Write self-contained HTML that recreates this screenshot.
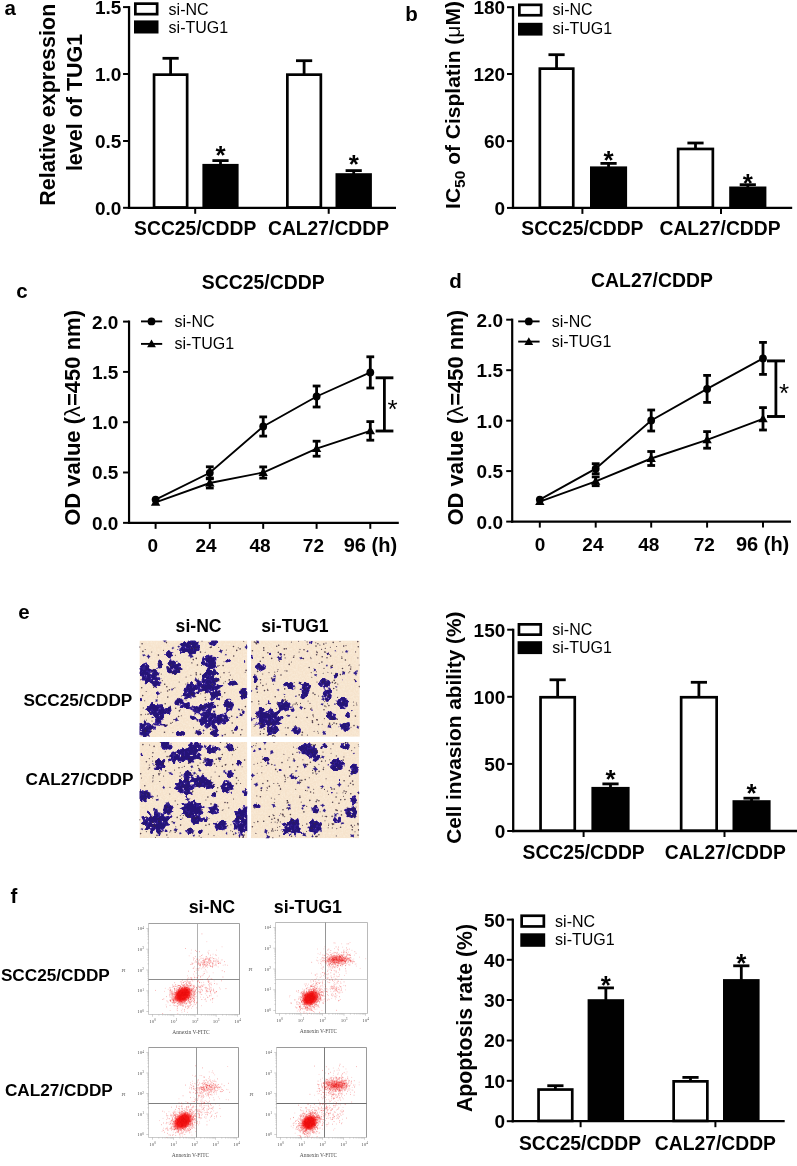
<!DOCTYPE html>
<html><head><meta charset="utf-8"><title>Figure</title>
<style>
html,body{margin:0;padding:0;background:#fff;}
body{width:797px;height:1166px;overflow:hidden;font-family:"Liberation Sans",sans-serif;}
svg{display:block;}
</style></head><body>
<svg width="797" height="1166" viewBox="0 0 797 1166" font-family="Liberation Sans, sans-serif" fill="#000">
<rect width="797" height="1166" fill="#fff"/>
<g opacity="0.999">
<text x="4.60" y="15.30" font-size="20.5" font-weight="bold" text-anchor="start" >a</text>
<text x="405.20" y="20.90" font-size="20.5" font-weight="bold" text-anchor="start" >b</text>
<text x="16.20" y="297.70" font-size="20.5" font-weight="bold" text-anchor="start" >c</text>
<text x="449.20" y="288.20" font-size="20.5" font-weight="bold" text-anchor="start" >d</text>
<text x="18.20" y="618.80" font-size="20.5" font-weight="bold" text-anchor="start" >e</text>
<text x="10.60" y="902.80" font-size="20.5" font-weight="bold" text-anchor="start" >f</text>
<text transform="translate(54.90,104.70) rotate(-90)" font-size="21.5" font-weight="bold" text-anchor="middle" >Relative expression</text>
<text transform="translate(82.30,102.40) rotate(-90)" font-size="21.5" font-weight="bold" text-anchor="middle" >level of TUG1</text>
<line x1="129.05" y1="6.10" x2="129.05" y2="208.95" stroke="#000" stroke-width="2.3" stroke-linecap="butt"/>
<line x1="127.90" y1="207.80" x2="396.00" y2="207.80" stroke="#000" stroke-width="2.3" stroke-linecap="butt"/>
<line x1="123.05" y1="7.10" x2="129.05" y2="7.10" stroke="#000" stroke-width="2.0" stroke-linecap="butt"/>
<text x="121.30" y="14.00" font-size="19" font-weight="bold" text-anchor="end" >1.5</text>
<line x1="123.05" y1="74.00" x2="129.05" y2="74.00" stroke="#000" stroke-width="2.0" stroke-linecap="butt"/>
<text x="121.30" y="80.90" font-size="19" font-weight="bold" text-anchor="end" >1.0</text>
<line x1="123.05" y1="141.00" x2="129.05" y2="141.00" stroke="#000" stroke-width="2.0" stroke-linecap="butt"/>
<text x="121.30" y="147.90" font-size="19" font-weight="bold" text-anchor="end" >0.5</text>
<line x1="123.05" y1="207.80" x2="129.05" y2="207.80" stroke="#000" stroke-width="2.0" stroke-linecap="butt"/>
<text x="121.30" y="214.70" font-size="19" font-weight="bold" text-anchor="end" >0.0</text>
<line x1="195.20" y1="207.80" x2="195.20" y2="213.80" stroke="#000" stroke-width="2.0" stroke-linecap="butt"/>
<line x1="328.70" y1="207.80" x2="328.70" y2="213.80" stroke="#000" stroke-width="2.0" stroke-linecap="butt"/>
<text x="195.20" y="235.20" font-size="19.3" font-weight="bold" text-anchor="middle" >SCC25/CDDP</text>
<text x="328.50" y="235.20" font-size="19.3" font-weight="bold" text-anchor="middle" >CAL27/CDDP</text>
<line x1="170.60" y1="58.30" x2="170.60" y2="75.30" stroke="#000" stroke-width="2.8" stroke-linecap="butt"/>
<line x1="162.50" y1="58.30" x2="178.70" y2="58.30" stroke="#000" stroke-width="2.8" stroke-linecap="butt"/>
<rect x="154.05" y="74.65" width="33.10" height="132.80" fill="#fff" stroke="#000" stroke-width="2.7"/>
<line x1="220.50" y1="160.60" x2="220.50" y2="165.90" stroke="#000" stroke-width="2.8" stroke-linecap="butt"/>
<line x1="212.40" y1="160.60" x2="228.60" y2="160.60" stroke="#000" stroke-width="2.8" stroke-linecap="butt"/>
<rect x="202.40" y="163.90" width="36.20" height="43.90" fill="#000"/>
<text x="220.50" y="164.49" font-size="26" font-weight="bold" text-anchor="middle">*</text>
<line x1="304.10" y1="60.70" x2="304.10" y2="75.30" stroke="#000" stroke-width="2.8" stroke-linecap="butt"/>
<line x1="296.00" y1="60.70" x2="312.20" y2="60.70" stroke="#000" stroke-width="2.8" stroke-linecap="butt"/>
<rect x="287.35" y="74.65" width="33.50" height="132.80" fill="#fff" stroke="#000" stroke-width="2.7"/>
<line x1="353.70" y1="170.60" x2="353.70" y2="175.20" stroke="#000" stroke-width="2.8" stroke-linecap="butt"/>
<line x1="345.60" y1="170.60" x2="361.80" y2="170.60" stroke="#000" stroke-width="2.8" stroke-linecap="butt"/>
<rect x="335.50" y="173.20" width="36.40" height="34.60" fill="#000"/>
<text x="353.70" y="172.99" font-size="26" font-weight="bold" text-anchor="middle">*</text>
<rect x="135.35" y="3.65" width="21.80" height="10.50" fill="#fff" stroke="#000" stroke-width="2.7"/>
<rect x="134.00" y="20.40" width="24.50" height="13.10" fill="#000"/>
<text x="168.60" y="14.60" font-size="16"  text-anchor="start" >si-NC</text>
<text x="168.60" y="32.60" font-size="16"  text-anchor="start" >si-TUG1</text>
<text transform="translate(460.40,105.00) rotate(-90)" font-size="21" font-weight="bold" text-anchor="middle" >IC<tspan font-size="15.5" dy="4.8">50</tspan><tspan dy="-4.8"> of Cisplatin (</tspan><tspan font-weight="normal">μ</tspan>M)</text>
<line x1="513.00" y1="6.20" x2="513.00" y2="209.05" stroke="#000" stroke-width="2.3" stroke-linecap="butt"/>
<line x1="511.85" y1="207.90" x2="792.20" y2="207.90" stroke="#000" stroke-width="2.3" stroke-linecap="butt"/>
<line x1="507.00" y1="7.20" x2="513.00" y2="7.20" stroke="#000" stroke-width="2.0" stroke-linecap="butt"/>
<text x="505.20" y="14.10" font-size="19" font-weight="bold" text-anchor="end" >180</text>
<line x1="507.00" y1="74.00" x2="513.00" y2="74.00" stroke="#000" stroke-width="2.0" stroke-linecap="butt"/>
<text x="505.20" y="80.90" font-size="19" font-weight="bold" text-anchor="end" >120</text>
<line x1="507.00" y1="141.10" x2="513.00" y2="141.10" stroke="#000" stroke-width="2.0" stroke-linecap="butt"/>
<text x="505.20" y="148.00" font-size="19" font-weight="bold" text-anchor="end" >60</text>
<line x1="507.00" y1="207.90" x2="513.00" y2="207.90" stroke="#000" stroke-width="2.0" stroke-linecap="butt"/>
<text x="505.20" y="214.80" font-size="19" font-weight="bold" text-anchor="end" >0</text>
<line x1="582.40" y1="207.90" x2="582.40" y2="213.90" stroke="#000" stroke-width="2.0" stroke-linecap="butt"/>
<line x1="721.00" y1="207.90" x2="721.00" y2="213.90" stroke="#000" stroke-width="2.0" stroke-linecap="butt"/>
<text x="582.40" y="235.20" font-size="19.3" font-weight="bold" text-anchor="middle" >SCC25/CDDP</text>
<text x="720.00" y="235.20" font-size="19.3" font-weight="bold" text-anchor="middle" >CAL27/CDDP</text>
<line x1="556.55" y1="54.70" x2="556.55" y2="69.30" stroke="#000" stroke-width="2.8" stroke-linecap="butt"/>
<line x1="548.45" y1="54.70" x2="564.65" y2="54.70" stroke="#000" stroke-width="2.8" stroke-linecap="butt"/>
<rect x="539.85" y="68.65" width="33.40" height="138.90" fill="#fff" stroke="#000" stroke-width="2.7"/>
<line x1="608.55" y1="163.40" x2="608.55" y2="168.40" stroke="#000" stroke-width="2.8" stroke-linecap="butt"/>
<line x1="600.45" y1="163.40" x2="616.65" y2="163.40" stroke="#000" stroke-width="2.8" stroke-linecap="butt"/>
<rect x="590.00" y="166.40" width="37.10" height="41.50" fill="#000"/>
<text x="608.55" y="168.79" font-size="26" font-weight="bold" text-anchor="middle">*</text>
<line x1="695.50" y1="143.00" x2="695.50" y2="149.60" stroke="#000" stroke-width="2.8" stroke-linecap="butt"/>
<line x1="687.40" y1="143.00" x2="703.60" y2="143.00" stroke="#000" stroke-width="2.8" stroke-linecap="butt"/>
<rect x="678.15" y="148.95" width="34.70" height="58.60" fill="#fff" stroke="#000" stroke-width="2.7"/>
<line x1="747.80" y1="184.70" x2="747.80" y2="188.50" stroke="#000" stroke-width="2.8" stroke-linecap="butt"/>
<line x1="739.70" y1="184.70" x2="755.90" y2="184.70" stroke="#000" stroke-width="2.8" stroke-linecap="butt"/>
<rect x="729.20" y="186.50" width="37.20" height="21.40" fill="#000"/>
<text x="747.80" y="191.79" font-size="26" font-weight="bold" text-anchor="middle">*</text>
<rect x="519.35" y="4.85" width="21.80" height="10.40" fill="#fff" stroke="#000" stroke-width="2.7"/>
<rect x="518.00" y="22.80" width="24.50" height="12.80" fill="#000"/>
<text x="552.60" y="15.30" font-size="16"  text-anchor="start" >si-NC</text>
<text x="552.60" y="34.20" font-size="16"  text-anchor="start" >si-TUG1</text>
<text transform="translate(80.20,417.90) rotate(-90)" font-size="22" font-weight="bold" text-anchor="middle" >OD value (<tspan font-weight="normal">λ</tspan>=450 nm)</text>
<line x1="129.05" y1="320.50" x2="129.05" y2="523.95" stroke="#000" stroke-width="2.2" stroke-linecap="butt"/>
<line x1="127.95" y1="522.85" x2="398.80" y2="522.85" stroke="#000" stroke-width="2.2" stroke-linecap="butt"/>
<line x1="123.05" y1="321.60" x2="129.05" y2="321.60" stroke="#000" stroke-width="1.9800000000000002" stroke-linecap="butt"/>
<text x="118.40" y="328.50" font-size="19" font-weight="bold" text-anchor="end" >2.0</text>
<line x1="123.05" y1="371.90" x2="129.05" y2="371.90" stroke="#000" stroke-width="1.9800000000000002" stroke-linecap="butt"/>
<text x="118.40" y="378.80" font-size="19" font-weight="bold" text-anchor="end" >1.5</text>
<line x1="123.05" y1="422.20" x2="129.05" y2="422.20" stroke="#000" stroke-width="1.9800000000000002" stroke-linecap="butt"/>
<text x="118.40" y="429.10" font-size="19" font-weight="bold" text-anchor="end" >1.0</text>
<line x1="123.05" y1="472.50" x2="129.05" y2="472.50" stroke="#000" stroke-width="1.9800000000000002" stroke-linecap="butt"/>
<text x="118.40" y="479.40" font-size="19" font-weight="bold" text-anchor="end" >0.5</text>
<line x1="123.05" y1="522.85" x2="129.05" y2="522.85" stroke="#000" stroke-width="1.9800000000000002" stroke-linecap="butt"/>
<text x="118.40" y="529.75" font-size="19" font-weight="bold" text-anchor="end" >0.0</text>
<line x1="155.60" y1="522.85" x2="155.60" y2="528.85" stroke="#000" stroke-width="1.9800000000000002" stroke-linecap="butt"/>
<line x1="209.80" y1="522.85" x2="209.80" y2="528.85" stroke="#000" stroke-width="1.9800000000000002" stroke-linecap="butt"/>
<line x1="263.20" y1="522.85" x2="263.20" y2="528.85" stroke="#000" stroke-width="1.9800000000000002" stroke-linecap="butt"/>
<line x1="316.60" y1="522.85" x2="316.60" y2="528.85" stroke="#000" stroke-width="1.9800000000000002" stroke-linecap="butt"/>
<line x1="370.30" y1="522.85" x2="370.30" y2="528.85" stroke="#000" stroke-width="1.9800000000000002" stroke-linecap="butt"/>
<text x="152.90" y="552.40" font-size="19" font-weight="bold" text-anchor="middle" >0</text>
<text x="206.00" y="552.40" font-size="19" font-weight="bold" text-anchor="middle" >24</text>
<text x="260.00" y="552.40" font-size="19" font-weight="bold" text-anchor="middle" >48</text>
<text x="313.40" y="552.40" font-size="19" font-weight="bold" text-anchor="middle" >72</text>
<text x="370.40" y="552.40" font-size="20" font-weight="bold" text-anchor="middle" >96 (h)</text>
<polyline points="155.60,502.30 209.80,483.00 263.20,472.50 316.60,448.70 370.30,430.90" fill="none" stroke="#000" stroke-width="1.9"/>
<path d="M155.60,497.40 L160.30,505.70 L150.90,505.70 Z" fill="#000"/>
<line x1="209.80" y1="478.00" x2="209.80" y2="488.00" stroke="#000" stroke-width="2.8" stroke-linecap="butt"/>
<line x1="205.90" y1="478.00" x2="213.70" y2="478.00" stroke="#000" stroke-width="2.8" stroke-linecap="butt"/>
<line x1="205.90" y1="488.00" x2="213.70" y2="488.00" stroke="#000" stroke-width="2.8" stroke-linecap="butt"/>
<path d="M209.80,478.10 L214.50,486.40 L205.10,486.40 Z" fill="#000"/>
<line x1="263.20" y1="466.90" x2="263.20" y2="478.10" stroke="#000" stroke-width="2.8" stroke-linecap="butt"/>
<line x1="259.30" y1="466.90" x2="267.10" y2="466.90" stroke="#000" stroke-width="2.8" stroke-linecap="butt"/>
<line x1="259.30" y1="478.10" x2="267.10" y2="478.10" stroke="#000" stroke-width="2.8" stroke-linecap="butt"/>
<path d="M263.20,467.60 L267.90,475.90 L258.50,475.90 Z" fill="#000"/>
<line x1="316.60" y1="441.20" x2="316.60" y2="456.20" stroke="#000" stroke-width="2.8" stroke-linecap="butt"/>
<line x1="312.70" y1="441.20" x2="320.50" y2="441.20" stroke="#000" stroke-width="2.8" stroke-linecap="butt"/>
<line x1="312.70" y1="456.20" x2="320.50" y2="456.20" stroke="#000" stroke-width="2.8" stroke-linecap="butt"/>
<path d="M316.60,443.80 L321.30,452.10 L311.90,452.10 Z" fill="#000"/>
<line x1="370.30" y1="421.60" x2="370.30" y2="440.20" stroke="#000" stroke-width="2.8" stroke-linecap="butt"/>
<line x1="366.40" y1="421.60" x2="374.20" y2="421.60" stroke="#000" stroke-width="2.8" stroke-linecap="butt"/>
<line x1="366.40" y1="440.20" x2="374.20" y2="440.20" stroke="#000" stroke-width="2.8" stroke-linecap="butt"/>
<path d="M370.30,426.00 L375.00,434.30 L365.60,434.30 Z" fill="#000"/>
<polyline points="155.60,499.60 209.80,472.80 263.20,426.50 316.60,396.50 370.30,372.40" fill="none" stroke="#000" stroke-width="1.9"/>
<circle cx="155.60" cy="499.60" r="3.9" fill="#000"/>
<line x1="209.80" y1="466.80" x2="209.80" y2="478.80" stroke="#000" stroke-width="2.8" stroke-linecap="butt"/>
<line x1="205.90" y1="466.80" x2="213.70" y2="466.80" stroke="#000" stroke-width="2.8" stroke-linecap="butt"/>
<line x1="205.90" y1="478.80" x2="213.70" y2="478.80" stroke="#000" stroke-width="2.8" stroke-linecap="butt"/>
<circle cx="209.80" cy="472.80" r="3.9" fill="#000"/>
<line x1="263.20" y1="416.90" x2="263.20" y2="436.10" stroke="#000" stroke-width="2.8" stroke-linecap="butt"/>
<line x1="259.30" y1="416.90" x2="267.10" y2="416.90" stroke="#000" stroke-width="2.8" stroke-linecap="butt"/>
<line x1="259.30" y1="436.10" x2="267.10" y2="436.10" stroke="#000" stroke-width="2.8" stroke-linecap="butt"/>
<circle cx="263.20" cy="426.50" r="3.9" fill="#000"/>
<line x1="316.60" y1="386.00" x2="316.60" y2="407.00" stroke="#000" stroke-width="2.8" stroke-linecap="butt"/>
<line x1="312.70" y1="386.00" x2="320.50" y2="386.00" stroke="#000" stroke-width="2.8" stroke-linecap="butt"/>
<line x1="312.70" y1="407.00" x2="320.50" y2="407.00" stroke="#000" stroke-width="2.8" stroke-linecap="butt"/>
<circle cx="316.60" cy="396.50" r="3.9" fill="#000"/>
<line x1="370.30" y1="356.80" x2="370.30" y2="388.00" stroke="#000" stroke-width="2.8" stroke-linecap="butt"/>
<line x1="366.40" y1="356.80" x2="374.20" y2="356.80" stroke="#000" stroke-width="2.8" stroke-linecap="butt"/>
<line x1="366.40" y1="388.00" x2="374.20" y2="388.00" stroke="#000" stroke-width="2.8" stroke-linecap="butt"/>
<circle cx="370.30" cy="372.40" r="3.9" fill="#000"/>
<line x1="384.40" y1="377.80" x2="384.40" y2="431.00" stroke="#000" stroke-width="2.8" stroke-linecap="butt"/>
<line x1="375.60" y1="377.80" x2="393.40" y2="377.80" stroke="#000" stroke-width="2.9" stroke-linecap="butt"/>
<line x1="375.60" y1="431.00" x2="393.40" y2="431.00" stroke="#000" stroke-width="2.9" stroke-linecap="butt"/>
<text x="392.50" y="418.09" font-size="26"  text-anchor="middle">*</text>
<line x1="141.00" y1="321.40" x2="162.20" y2="321.40" stroke="#000" stroke-width="1.9" stroke-linecap="butt"/>
<circle cx="151.50" cy="321.40" r="3.9" fill="#000"/>
<line x1="141.00" y1="343.90" x2="162.20" y2="343.90" stroke="#000" stroke-width="1.9" stroke-linecap="butt"/>
<path d="M151.50,339.50 L155.90,347.20 L147.10,347.20 Z" fill="#000"/>
<text x="174.50" y="326.70" font-size="16"  text-anchor="start" >si-NC</text>
<text x="174.50" y="349.20" font-size="16"  text-anchor="start" >si-TUG1</text>
<text x="263.20" y="289.10" font-size="19.4" font-weight="bold" text-anchor="middle" >SCC25/CDDP</text>
<text transform="translate(463.20,417.70) rotate(-90)" font-size="22" font-weight="bold" text-anchor="middle" >OD value (<tspan font-weight="normal">λ</tspan>=450 nm)</text>
<line x1="512.20" y1="318.60" x2="512.20" y2="522.70" stroke="#000" stroke-width="2.2" stroke-linecap="butt"/>
<line x1="511.10" y1="521.60" x2="791.00" y2="521.60" stroke="#000" stroke-width="2.2" stroke-linecap="butt"/>
<line x1="506.20" y1="319.70" x2="512.20" y2="319.70" stroke="#000" stroke-width="1.9800000000000002" stroke-linecap="butt"/>
<text x="503.00" y="326.60" font-size="19" font-weight="bold" text-anchor="end" >2.0</text>
<line x1="506.20" y1="370.20" x2="512.20" y2="370.20" stroke="#000" stroke-width="1.9800000000000002" stroke-linecap="butt"/>
<text x="503.00" y="377.10" font-size="19" font-weight="bold" text-anchor="end" >1.5</text>
<line x1="506.20" y1="420.70" x2="512.20" y2="420.70" stroke="#000" stroke-width="1.9800000000000002" stroke-linecap="butt"/>
<text x="503.00" y="427.60" font-size="19" font-weight="bold" text-anchor="end" >1.0</text>
<line x1="506.20" y1="471.10" x2="512.20" y2="471.10" stroke="#000" stroke-width="1.9800000000000002" stroke-linecap="butt"/>
<text x="503.00" y="478.00" font-size="19" font-weight="bold" text-anchor="end" >0.5</text>
<line x1="506.20" y1="521.60" x2="512.20" y2="521.60" stroke="#000" stroke-width="1.9800000000000002" stroke-linecap="butt"/>
<text x="503.00" y="528.50" font-size="19" font-weight="bold" text-anchor="end" >0.0</text>
<line x1="539.80" y1="521.60" x2="539.80" y2="527.60" stroke="#000" stroke-width="1.9800000000000002" stroke-linecap="butt"/>
<line x1="595.70" y1="521.60" x2="595.70" y2="527.60" stroke="#000" stroke-width="1.9800000000000002" stroke-linecap="butt"/>
<line x1="651.20" y1="521.60" x2="651.20" y2="527.60" stroke="#000" stroke-width="1.9800000000000002" stroke-linecap="butt"/>
<line x1="707.10" y1="521.60" x2="707.10" y2="527.60" stroke="#000" stroke-width="1.9800000000000002" stroke-linecap="butt"/>
<line x1="763.00" y1="521.60" x2="763.00" y2="527.60" stroke="#000" stroke-width="1.9800000000000002" stroke-linecap="butt"/>
<text x="540.00" y="551.30" font-size="19" font-weight="bold" text-anchor="middle" >0</text>
<text x="592.90" y="551.30" font-size="19" font-weight="bold" text-anchor="middle" >24</text>
<text x="648.80" y="551.30" font-size="19" font-weight="bold" text-anchor="middle" >48</text>
<text x="704.30" y="551.30" font-size="19" font-weight="bold" text-anchor="middle" >72</text>
<text x="762.60" y="551.30" font-size="20" font-weight="bold" text-anchor="middle" >96 (h)</text>
<polyline points="539.80,501.60 595.70,481.30 651.20,458.50 707.10,439.90 763.00,418.80" fill="none" stroke="#000" stroke-width="1.9"/>
<path d="M539.80,496.70 L544.50,505.00 L535.10,505.00 Z" fill="#000"/>
<line x1="595.70" y1="476.90" x2="595.70" y2="485.70" stroke="#000" stroke-width="2.8" stroke-linecap="butt"/>
<line x1="591.80" y1="476.90" x2="599.60" y2="476.90" stroke="#000" stroke-width="2.8" stroke-linecap="butt"/>
<line x1="591.80" y1="485.70" x2="599.60" y2="485.70" stroke="#000" stroke-width="2.8" stroke-linecap="butt"/>
<path d="M595.70,476.40 L600.40,484.70 L591.00,484.70 Z" fill="#000"/>
<line x1="651.20" y1="451.50" x2="651.20" y2="465.50" stroke="#000" stroke-width="2.8" stroke-linecap="butt"/>
<line x1="647.30" y1="451.50" x2="655.10" y2="451.50" stroke="#000" stroke-width="2.8" stroke-linecap="butt"/>
<line x1="647.30" y1="465.50" x2="655.10" y2="465.50" stroke="#000" stroke-width="2.8" stroke-linecap="butt"/>
<path d="M651.20,453.60 L655.90,461.90 L646.50,461.90 Z" fill="#000"/>
<line x1="707.10" y1="431.60" x2="707.10" y2="448.20" stroke="#000" stroke-width="2.8" stroke-linecap="butt"/>
<line x1="703.20" y1="431.60" x2="711.00" y2="431.60" stroke="#000" stroke-width="2.8" stroke-linecap="butt"/>
<line x1="703.20" y1="448.20" x2="711.00" y2="448.20" stroke="#000" stroke-width="2.8" stroke-linecap="butt"/>
<path d="M707.10,435.00 L711.80,443.30 L702.40,443.30 Z" fill="#000"/>
<line x1="763.00" y1="407.60" x2="763.00" y2="430.00" stroke="#000" stroke-width="2.8" stroke-linecap="butt"/>
<line x1="759.10" y1="407.60" x2="766.90" y2="407.60" stroke="#000" stroke-width="2.8" stroke-linecap="butt"/>
<line x1="759.10" y1="430.00" x2="766.90" y2="430.00" stroke="#000" stroke-width="2.8" stroke-linecap="butt"/>
<path d="M763.00,413.90 L767.70,422.20 L758.30,422.20 Z" fill="#000"/>
<polyline points="539.80,499.60 595.70,468.70 651.20,420.50 707.10,388.90 763.00,358.40" fill="none" stroke="#000" stroke-width="1.9"/>
<circle cx="539.80" cy="499.60" r="3.9" fill="#000"/>
<line x1="595.70" y1="463.70" x2="595.70" y2="473.70" stroke="#000" stroke-width="2.8" stroke-linecap="butt"/>
<line x1="591.80" y1="463.70" x2="599.60" y2="463.70" stroke="#000" stroke-width="2.8" stroke-linecap="butt"/>
<line x1="591.80" y1="473.70" x2="599.60" y2="473.70" stroke="#000" stroke-width="2.8" stroke-linecap="butt"/>
<circle cx="595.70" cy="468.70" r="3.9" fill="#000"/>
<line x1="651.20" y1="410.00" x2="651.20" y2="431.00" stroke="#000" stroke-width="2.8" stroke-linecap="butt"/>
<line x1="647.30" y1="410.00" x2="655.10" y2="410.00" stroke="#000" stroke-width="2.8" stroke-linecap="butt"/>
<line x1="647.30" y1="431.00" x2="655.10" y2="431.00" stroke="#000" stroke-width="2.8" stroke-linecap="butt"/>
<circle cx="651.20" cy="420.50" r="3.9" fill="#000"/>
<line x1="707.10" y1="375.40" x2="707.10" y2="402.40" stroke="#000" stroke-width="2.8" stroke-linecap="butt"/>
<line x1="703.20" y1="375.40" x2="711.00" y2="375.40" stroke="#000" stroke-width="2.8" stroke-linecap="butt"/>
<line x1="703.20" y1="402.40" x2="711.00" y2="402.40" stroke="#000" stroke-width="2.8" stroke-linecap="butt"/>
<circle cx="707.10" cy="388.90" r="3.9" fill="#000"/>
<line x1="763.00" y1="342.40" x2="763.00" y2="374.40" stroke="#000" stroke-width="2.8" stroke-linecap="butt"/>
<line x1="759.10" y1="342.40" x2="766.90" y2="342.40" stroke="#000" stroke-width="2.8" stroke-linecap="butt"/>
<line x1="759.10" y1="374.40" x2="766.90" y2="374.40" stroke="#000" stroke-width="2.8" stroke-linecap="butt"/>
<circle cx="763.00" cy="358.40" r="3.9" fill="#000"/>
<line x1="775.90" y1="360.90" x2="775.90" y2="416.50" stroke="#000" stroke-width="2.8" stroke-linecap="butt"/>
<line x1="767.00" y1="360.90" x2="785.00" y2="360.90" stroke="#000" stroke-width="2.9" stroke-linecap="butt"/>
<line x1="767.00" y1="416.50" x2="785.00" y2="416.50" stroke="#000" stroke-width="2.9" stroke-linecap="butt"/>
<text x="784.10" y="402.29" font-size="26"  text-anchor="middle">*</text>
<line x1="518.20" y1="321.40" x2="539.60" y2="321.40" stroke="#000" stroke-width="1.9" stroke-linecap="butt"/>
<circle cx="528.80" cy="321.40" r="3.9" fill="#000"/>
<line x1="518.20" y1="341.60" x2="539.60" y2="341.60" stroke="#000" stroke-width="1.9" stroke-linecap="butt"/>
<path d="M528.80,337.20 L533.20,344.90 L524.40,344.90 Z" fill="#000"/>
<text x="551.80" y="326.70" font-size="16"  text-anchor="start" >si-NC</text>
<text x="551.80" y="346.50" font-size="16"  text-anchor="start" >si-TUG1</text>
<text x="652.00" y="287.30" font-size="19.4" font-weight="bold" text-anchor="middle" >CAL27/CDDP</text>
<text transform="translate(461.30,727.70) rotate(-90)" font-size="20.8" font-weight="bold" text-anchor="middle" >Cell invasion ability (%)</text>
<line x1="513.20" y1="628.70" x2="513.20" y2="832.15" stroke="#000" stroke-width="2.3" stroke-linecap="butt"/>
<line x1="512.05" y1="831.00" x2="797.00" y2="831.00" stroke="#000" stroke-width="2.3" stroke-linecap="butt"/>
<line x1="507.20" y1="629.70" x2="513.20" y2="629.70" stroke="#000" stroke-width="2.0" stroke-linecap="butt"/>
<text x="505.30" y="636.60" font-size="19" font-weight="bold" text-anchor="end" >150</text>
<line x1="507.20" y1="696.80" x2="513.20" y2="696.80" stroke="#000" stroke-width="2.0" stroke-linecap="butt"/>
<text x="505.30" y="703.70" font-size="19" font-weight="bold" text-anchor="end" >100</text>
<line x1="507.20" y1="763.90" x2="513.20" y2="763.90" stroke="#000" stroke-width="2.0" stroke-linecap="butt"/>
<text x="505.30" y="770.80" font-size="19" font-weight="bold" text-anchor="end" >50</text>
<line x1="507.20" y1="831.00" x2="513.20" y2="831.00" stroke="#000" stroke-width="2.0" stroke-linecap="butt"/>
<text x="505.30" y="837.90" font-size="19" font-weight="bold" text-anchor="end" >0</text>
<line x1="583.60" y1="831.00" x2="583.60" y2="837.00" stroke="#000" stroke-width="2.0" stroke-linecap="butt"/>
<line x1="724.50" y1="831.00" x2="724.50" y2="837.00" stroke="#000" stroke-width="2.0" stroke-linecap="butt"/>
<text x="583.60" y="858.80" font-size="19.3" font-weight="bold" text-anchor="middle" >SCC25/CDDP</text>
<text x="725.30" y="858.80" font-size="19.3" font-weight="bold" text-anchor="middle" >CAL27/CDDP</text>
<line x1="557.65" y1="679.80" x2="557.65" y2="697.90" stroke="#000" stroke-width="2.8" stroke-linecap="butt"/>
<line x1="549.55" y1="679.80" x2="565.75" y2="679.80" stroke="#000" stroke-width="2.8" stroke-linecap="butt"/>
<rect x="540.55" y="697.25" width="34.20" height="133.40" fill="#fff" stroke="#000" stroke-width="2.7"/>
<line x1="610.50" y1="783.90" x2="610.50" y2="788.90" stroke="#000" stroke-width="2.8" stroke-linecap="butt"/>
<line x1="602.40" y1="783.90" x2="618.60" y2="783.90" stroke="#000" stroke-width="2.8" stroke-linecap="butt"/>
<rect x="591.40" y="786.90" width="38.20" height="44.10" fill="#000"/>
<text x="610.50" y="788.09" font-size="26" font-weight="bold" text-anchor="middle">*</text>
<line x1="698.90" y1="682.30" x2="698.90" y2="697.90" stroke="#000" stroke-width="2.8" stroke-linecap="butt"/>
<line x1="690.80" y1="682.30" x2="707.00" y2="682.30" stroke="#000" stroke-width="2.8" stroke-linecap="butt"/>
<rect x="681.15" y="697.25" width="35.50" height="133.40" fill="#fff" stroke="#000" stroke-width="2.7"/>
<line x1="751.55" y1="798.20" x2="751.55" y2="802.20" stroke="#000" stroke-width="2.8" stroke-linecap="butt"/>
<line x1="743.45" y1="798.20" x2="759.65" y2="798.20" stroke="#000" stroke-width="2.8" stroke-linecap="butt"/>
<rect x="732.50" y="800.20" width="38.10" height="30.80" fill="#000"/>
<text x="751.55" y="802.49" font-size="26" font-weight="bold" text-anchor="middle">*</text>
<rect x="518.95" y="624.35" width="21.80" height="10.30" fill="#fff" stroke="#000" stroke-width="2.7"/>
<rect x="517.60" y="641.20" width="24.50" height="12.90" fill="#000"/>
<text x="552.30" y="634.50" font-size="16"  text-anchor="start" >si-NC</text>
<text x="552.30" y="652.70" font-size="16"  text-anchor="start" >si-TUG1</text>
<text transform="translate(471.90,1018.00) rotate(-90)" font-size="21.3" font-weight="bold" text-anchor="middle" >Apoptosis rate (%)</text>
<line x1="512.80" y1="918.60" x2="512.80" y2="1122.35" stroke="#000" stroke-width="2.3" stroke-linecap="butt"/>
<line x1="511.65" y1="1121.20" x2="784.70" y2="1121.20" stroke="#000" stroke-width="2.3" stroke-linecap="butt"/>
<line x1="506.80" y1="919.60" x2="512.80" y2="919.60" stroke="#000" stroke-width="2.0" stroke-linecap="butt"/>
<text x="505.20" y="926.50" font-size="19" font-weight="bold" text-anchor="end" >50</text>
<line x1="506.80" y1="959.80" x2="512.80" y2="959.80" stroke="#000" stroke-width="2.0" stroke-linecap="butt"/>
<text x="505.20" y="966.70" font-size="19" font-weight="bold" text-anchor="end" >40</text>
<line x1="506.80" y1="1000.00" x2="512.80" y2="1000.00" stroke="#000" stroke-width="2.0" stroke-linecap="butt"/>
<text x="505.20" y="1006.90" font-size="19" font-weight="bold" text-anchor="end" >30</text>
<line x1="506.80" y1="1040.50" x2="512.80" y2="1040.50" stroke="#000" stroke-width="2.0" stroke-linecap="butt"/>
<text x="505.20" y="1047.40" font-size="19" font-weight="bold" text-anchor="end" >20</text>
<line x1="506.80" y1="1080.80" x2="512.80" y2="1080.80" stroke="#000" stroke-width="2.0" stroke-linecap="butt"/>
<text x="505.20" y="1087.70" font-size="19" font-weight="bold" text-anchor="end" >10</text>
<line x1="506.80" y1="1121.20" x2="512.80" y2="1121.20" stroke="#000" stroke-width="2.0" stroke-linecap="butt"/>
<text x="505.20" y="1128.10" font-size="19" font-weight="bold" text-anchor="end" >0</text>
<line x1="580.60" y1="1121.20" x2="580.60" y2="1127.20" stroke="#000" stroke-width="2.0" stroke-linecap="butt"/>
<line x1="715.40" y1="1121.20" x2="715.40" y2="1127.20" stroke="#000" stroke-width="2.0" stroke-linecap="butt"/>
<text x="580.00" y="1149.90" font-size="19.3" font-weight="bold" text-anchor="middle" >SCC25/CDDP</text>
<text x="715.40" y="1149.90" font-size="19.3" font-weight="bold" text-anchor="middle" >CAL27/CDDP</text>
<line x1="555.40" y1="1085.70" x2="555.40" y2="1090.20" stroke="#000" stroke-width="2.8" stroke-linecap="butt"/>
<line x1="547.30" y1="1085.70" x2="563.50" y2="1085.70" stroke="#000" stroke-width="2.8" stroke-linecap="butt"/>
<rect x="538.55" y="1089.55" width="33.70" height="31.30" fill="#fff" stroke="#000" stroke-width="2.7"/>
<line x1="605.85" y1="987.90" x2="605.85" y2="1001.20" stroke="#000" stroke-width="2.8" stroke-linecap="butt"/>
<line x1="597.75" y1="987.90" x2="613.95" y2="987.90" stroke="#000" stroke-width="2.8" stroke-linecap="butt"/>
<rect x="587.60" y="999.20" width="36.50" height="122.00" fill="#000"/>
<text x="605.85" y="994.29" font-size="26" font-weight="bold" text-anchor="middle">*</text>
<line x1="690.50" y1="1077.40" x2="690.50" y2="1082.00" stroke="#000" stroke-width="2.8" stroke-linecap="butt"/>
<line x1="682.40" y1="1077.40" x2="698.60" y2="1077.40" stroke="#000" stroke-width="2.8" stroke-linecap="butt"/>
<rect x="673.65" y="1081.35" width="33.70" height="39.50" fill="#fff" stroke="#000" stroke-width="2.7"/>
<line x1="741.30" y1="965.80" x2="741.30" y2="981.10" stroke="#000" stroke-width="2.8" stroke-linecap="butt"/>
<line x1="733.20" y1="965.80" x2="749.40" y2="965.80" stroke="#000" stroke-width="2.8" stroke-linecap="butt"/>
<rect x="723.00" y="979.10" width="36.60" height="142.10" fill="#000"/>
<text x="741.30" y="971.89" font-size="26" font-weight="bold" text-anchor="middle">*</text>
<rect x="521.65" y="915.75" width="22.20" height="10.70" fill="#fff" stroke="#000" stroke-width="2.7"/>
<rect x="520.30" y="933.30" width="24.90" height="13.50" fill="#000"/>
<text x="555.10" y="926.50" font-size="16"  text-anchor="start" >si-NC</text>
<text x="555.10" y="945.40" font-size="16"  text-anchor="start" >si-TUG1</text>
<text x="198.60" y="632.00" font-size="17.6" font-weight="bold" text-anchor="middle" >si-NC</text>
<text x="294.90" y="632.00" font-size="17.6" font-weight="bold" text-anchor="middle" >si-TUG1</text>
<text x="132.30" y="706.00" font-size="17.2" font-weight="bold" text-anchor="end" >SCC25/CDDP</text>
<text x="133.40" y="785.00" font-size="17.2" font-weight="bold" text-anchor="end" >CAL27/CDDP</text>
<text x="211.90" y="913.20" font-size="17.8" font-weight="bold" text-anchor="middle" >si-NC</text>
<text x="307.90" y="913.20" font-size="17.8" font-weight="bold" text-anchor="middle" >si-TUG1</text>
<text x="109.80" y="980.70" font-size="17.2" font-weight="bold" text-anchor="end" >SCC25/CDDP</text>
<text x="112.80" y="1095.70" font-size="17.2" font-weight="bold" text-anchor="end" >CAL27/CDDP</text>
</g>
<defs>
<filter id="mg" x="0" y="0" width="100%" height="100%" color-interpolation-filters="sRGB">
 <feTurbulence type="fractalNoise" baseFrequency="0.55" numOctaves="2" seed="4" result="n"/>
 <feColorMatrix in="n" type="matrix" values="0 0 0 0 0.98  0 0 0 0 0.93  0 0 0 0 0.86  1.6 0 0 0 -0.55" result="c"/>
 <feComposite in="c" in2="SourceGraphic" operator="over"/>
</filter>
<filter id="mb" x="-5%" y="-5%" width="110%" height="110%" color-interpolation-filters="sRGB">
 <feGaussianBlur in="SourceAlpha" stdDeviation="1.2" result="A"/>
 <feTurbulence type="fractalNoise" baseFrequency="0.28" numOctaves="3" seed="7" result="N"/>
 <feComposite in="A" in2="N" operator="arithmetic" k1="3.2" k2="0.72" k3="0" k4="-1.15" result="M"/>
 <feComponentTransfer in="M" result="T0"><feFuncA type="linear" slope="3" intercept="-0.5"/></feComponentTransfer>
 <feComponentTransfer in="M" result="T1"><feFuncA type="linear" slope="7" intercept="-3"/></feComponentTransfer>
 <feComponentTransfer in="M" result="T2"><feFuncA type="linear" slope="3" intercept="-2.6"/></feComponentTransfer>
 <feFlood flood-color="#6a4fb0" result="f0"/><feComposite in="f0" in2="T0" operator="in" result="C0"/>
 <feFlood flood-color="#2e1a8c" result="f1"/><feComposite in="f1" in2="T1" operator="in" result="C1"/>
 <feFlood flood-color="#190c58" result="f2"/><feComposite in="f2" in2="T2" operator="in" result="C2"/>
 <feMerge result="mm"><feMergeNode in="C0"/><feMergeNode in="C1"/><feMergeNode in="C2"/></feMerge><feGaussianBlur in="mm" stdDeviation="0.45"/>
</filter>
<filter id="ms" x="-5%" y="-5%" width="110%" height="110%"><feGaussianBlur stdDeviation="0.35"/></filter>
</defs>
<clipPath id="mc0"><rect x="139.5" y="640.6" width="107.8" height="96.4"/></clipPath>
<g clip-path="url(#mc0)">
<rect x="139.5" y="640.6" width="107.8" height="96.4" fill="#f6e3cc" filter="url(#mg)"/>
<g filter="url(#mb)"><rect x="136.5" y="637.6" width="113.8" height="102.4" fill="none"/><path d="M173.0,650.1 L182.2,646.4 L177.6,643.5 L183.1,642.8 L182.4,639.0 L187.6,641.8 L188.8,634.1 L191.4,638.8 L198.4,635.6 L195.4,642.4 L203.3,639.3 L197.5,644.4 L203.3,645.8 L198.7,647.9 L203.7,652.8 L196.2,651.0 L197.0,656.5 L192.7,653.7 L187.2,659.0 L187.4,651.4 L181.9,654.5 L183.1,650.5Z M208.3,645.5 L209.6,642.8 L207.9,641.7 L211.5,640.2 L212.1,637.1 L213.8,639.1 L217.4,638.0 L216.7,640.6 L221.8,642.0 L217.4,643.1 L218.7,645.4 L215.1,645.1 L213.6,648.3 L212.3,645.8Z M148.6,676.4 L145.7,674.2 L145.5,682.4 L143.1,674.8 L140.2,677.6 L140.3,674.3 L137.8,673.2 L140.2,669.8 L135.1,667.8 L140.5,667.2 L139.1,663.5 L142.5,664.9 L143.2,659.5 L145.0,662.7 L148.1,659.9 L146.9,666.4 L152.4,663.7 L147.9,669.3 L152.9,671.4 L147.2,672.4Z M164.3,673.5 L155.9,676.2 L166.7,678.8 L157.0,679.5 L161.2,685.1 L152.4,681.2 L152.8,687.9 L148.9,681.5 L142.6,687.8 L144.6,680.4 L138.1,681.3 L142.6,678.4 L137.2,676.7 L141.9,675.3 L138.6,671.6 L142.7,671.4 L143.3,665.8 L148.1,670.4 L150.0,667.7 L152.4,669.8 L160.9,666.6 L156.0,672.5Z M148.6,683.6 L152.8,682.2 L149.2,679.1 L154.1,679.9 L155.4,676.5 L157.5,680.4 L162.2,677.9 L159.9,681.9 L165.4,682.8 L160.5,684.2 L162.8,686.9 L157.7,685.5 L156.9,690.3 L154.4,686.5 L150.7,688.4 L152.3,684.7Z M161.7,655.5 L161.5,661.7 L163.2,664.0 L161.7,667.0 L162.9,673.3 L160.5,668.9 L159.6,675.5 L159.0,669.1 L156.3,669.9 L157.4,665.9 L156.0,662.1 L158.3,661.8 L158.6,654.1 L160.2,660.2Z M165.7,662.8 L169.2,662.2 L169.0,656.1 L173.4,661.9 L174.6,656.3 L176.0,662.3 L181.4,657.9 L178.7,664.1 L187.2,663.5 L179.1,667.1 L187.1,669.6 L180.2,670.3 L181.3,675.0 L176.2,671.7 L176.9,678.2 L174.0,674.5 L170.9,676.5 L170.5,672.8 L164.5,674.4 L167.5,669.5 L161.9,667.2 L168.2,666.2Z M172.6,659.1 L168.7,657.1 L166.3,659.2 L165.8,656.3 L161.3,655.8 L164.6,653.9 L164.7,651.5 L167.4,651.5 L168.3,649.3 L171.0,651.5 L174.4,651.0 L173.2,654.1 L175.4,656.3 L171.4,656.2Z M207.2,650.9 L209.5,656.3 L214.7,650.7 L213.0,656.9 L217.6,656.0 L215.7,659.1 L218.1,660.2 L214.9,661.8 L218.3,665.6 L213.9,664.5 L215.2,669.5 L210.0,665.1 L207.4,668.3 L206.7,665.3 L200.3,668.6 L202.6,663.9 L196.0,664.1 L203.4,661.0 L198.7,658.5 L203.3,657.7 L200.0,652.9 L206.3,656.5Z M202.3,682.8 L205.7,676.7 L201.3,674.1 L206.5,671.9 L202.1,667.4 L207.9,669.0 L206.0,661.0 L209.1,664.8 L210.8,659.2 L212.2,667.0 L215.9,661.5 L215.9,667.1 L219.5,666.3 L216.0,671.0 L222.3,675.1 L215.5,675.2 L219.2,681.1 L213.3,677.8 L213.2,683.0 L211.4,679.0 L208.6,684.7 L208.3,679.4Z M219.7,692.0 L213.5,689.9 L215.1,697.4 L209.3,691.6 L205.1,698.0 L205.2,690.3 L195.8,694.4 L199.4,688.6 L189.8,687.5 L198.7,684.3 L190.9,678.3 L202.1,680.7 L200.8,674.6 L205.9,676.4 L207.2,672.7 L210.9,678.4 L217.2,670.9 L216.1,678.8 L222.6,678.1 L215.7,683.7 L226.8,685.3 L218.8,688.4Z M222.3,702.1 L218.1,699.4 L217.6,702.6 L215.7,698.6 L213.1,704.6 L213.5,698.0 L210.3,700.5 L210.5,696.4 L208.8,694.4 L210.3,693.0 L207.4,688.4 L212.2,689.8 L211.4,684.4 L214.7,689.1 L215.9,680.7 L216.6,687.9 L220.1,684.8 L218.3,690.2 L221.5,690.1 L220.5,693.2 L224.7,696.1 L219.3,696.3Z M178.9,683.1 L186.8,686.5 L186.1,679.4 L189.6,684.0 L192.4,678.3 L193.4,685.2 L199.0,682.4 L195.8,687.4 L200.1,687.8 L194.7,690.9 L201.4,694.3 L194.3,693.8 L196.8,700.3 L192.5,696.5 L190.9,701.6 L188.6,697.8 L184.0,701.0 L184.5,695.7 L180.0,697.0 L184.6,691.7 L180.7,690.4 L184.4,689.1Z M185.6,705.7 L180.7,704.5 L179.2,708.5 L177.4,705.1 L175.0,705.8 L175.0,703.4 L170.6,703.4 L175.0,700.7 L172.7,697.6 L177.1,698.6 L178.1,694.5 L179.6,697.4 L182.2,695.9 L182.0,699.3 L186.2,699.7 L181.6,701.8Z M187.2,709.9 L184.2,708.0 L178.4,708.9 L180.8,706.9 L179.4,704.6 L182.8,704.1 L181.4,700.6 L185.8,703.1 L190.8,701.1 L190.5,703.7 L195.1,704.8 L191.1,706.1 L192.3,708.3 L188.8,708.0Z M207.0,712.4 L200.6,710.9 L199.1,713.5 L196.4,711.3 L189.6,713.2 L193.7,710.0 L185.8,710.6 L191.8,708.4 L188.8,707.0 L193.9,706.8 L193.3,704.1 L198.0,706.5 L201.1,703.1 L202.8,706.4 L205.4,706.2 L203.9,708.0 L207.7,709.2 L202.7,709.7Z M218.6,709.1 L213.1,708.3 L212.4,710.8 L209.6,709.3 L205.7,709.8 L205.7,708.2 L199.7,707.2 L205.2,705.5 L200.6,702.6 L206.8,703.0 L209.0,700.3 L211.2,702.2 L215.8,701.1 L213.7,704.2 L218.2,704.9 L215.7,706.0Z M223.4,660.7 L226.4,659.6 L225.6,657.1 L228.6,658.7 L233.0,658.1 L230.8,660.3 L233.6,662.5 L229.4,662.1 L226.8,664.3 L225.4,662.0Z M240.1,680.3 L236.6,682.8 L241.3,685.0 L235.2,685.0 L235.3,687.5 L232.5,685.7 L229.4,686.8 L228.9,684.7 L224.3,683.7 L229.6,682.4 L227.1,678.9 L231.7,681.3 L233.9,678.3 L235.6,680.5Z M240.8,687.0 L242.7,688.0 L243.7,685.7 L245.6,688.1 L248.1,685.9 L247.1,690.9 L249.5,693.1 L247.6,694.9 L249.6,699.8 L245.7,697.6 L245.0,704.0 L243.4,699.1 L240.6,703.2 L241.2,697.1 L237.3,697.7 L239.7,693.9 L236.5,690.3 L240.8,690.2Z M220.1,702.7 L225.2,702.6 L222.1,697.3 L227.1,699.9 L226.8,695.6 L229.1,699.5 L231.4,696.3 L231.0,700.7 L236.1,697.0 L232.2,702.8 L237.4,703.3 L232.5,706.0 L235.6,708.7 L232.1,708.4 L233.4,715.2 L230.3,710.0 L229.3,714.8 L227.8,710.3 L224.0,715.7 L226.1,708.6 L220.2,709.8 L224.7,706.0Z M168.0,707.7 L165.3,709.9 L168.7,713.7 L162.5,713.6 L167.4,720.0 L158.6,715.0 L158.8,720.8 L154.9,716.9 L149.4,720.3 L152.1,714.1 L145.5,715.6 L148.6,711.6 L139.1,709.9 L148.6,708.7 L142.6,704.2 L150.0,705.5 L150.4,698.8 L154.8,705.1 L158.2,701.4 L159.3,705.1 L166.4,702.4 L162.1,707.7Z M160.8,707.0 L161.1,713.5 L164.2,712.4 L161.9,718.0 L165.0,720.6 L161.7,721.1 L163.8,726.5 L160.4,724.3 L159.5,728.3 L158.3,724.9 L154.5,728.9 L156.8,721.9 L152.4,722.8 L155.5,719.2 L154.4,715.9 L156.5,714.3 L155.8,709.4 L158.6,713.8Z M133.2,726.6 L138.7,725.5 L137.2,721.4 L142.7,723.5 L143.9,716.4 L146.5,722.9 L150.3,719.8 L149.0,724.7 L157.8,721.7 L152.1,726.8 L159.6,729.2 L151.8,730.2 L155.6,734.0 L149.6,733.0 L150.7,740.2 L146.9,736.2 L143.3,743.1 L143.1,734.9 L138.9,736.9 L139.0,733.4 L130.9,732.6 L137.9,729.2Z M173.2,710.8 L170.9,712.4 L171.2,717.2 L169.2,714.9 L167.6,715.4 L167.3,711.9 L166.1,709.4 L168.3,708.2 L168.1,701.7 L169.9,705.8 L171.8,705.3 L171.7,709.0Z M215.9,728.4 L210.6,725.6 L206.0,732.2 L205.9,724.1 L196.4,728.9 L201.0,722.4 L193.4,720.7 L202.2,717.9 L192.0,712.4 L203.1,714.1 L198.5,708.0 L206.5,711.4 L208.9,706.3 L212.5,713.3 L217.3,710.1 L215.5,714.5 L228.5,713.1 L218.4,717.6 L228.6,720.2 L219.1,721.0 L220.4,724.8 L215.7,723.6Z M228.9,725.7 L225.2,723.4 L223.7,727.7 L221.9,723.7 L218.3,726.3 L219.0,722.1 L215.6,720.4 L219.0,718.5 L216.0,714.4 L221.0,715.8 L221.4,710.3 L223.9,715.1 L226.5,711.5 L226.7,716.2 L230.5,715.6 L227.5,719.0 L232.3,720.4 L227.5,722.1Z M209.9,726.8 L213.3,728.4 L213.2,723.7 L215.6,727.3 L218.4,723.8 L217.5,729.3 L221.1,729.7 L217.7,731.9 L221.0,737.5 L217.0,735.8 L216.2,740.3 L214.1,736.2 L210.2,739.0 L211.5,734.4 L208.1,733.4 L212.1,730.3Z M180.8,738.1 L178.7,736.6 L174.4,736.4 L176.1,734.4 L174.1,733.3 L177.4,732.0 L176.0,728.5 L180.4,731.0 L182.5,729.4 L184.1,731.8 L188.3,731.8 L184.2,734.0 L187.6,736.6 L181.5,735.7Z M193.7,729.0 L197.4,730.8 L200.0,728.7 L201.0,731.0 L202.8,732.2 L201.5,734.0 L201.3,735.8 L199.0,735.2 L196.6,736.8 L196.5,734.6 L192.3,733.8 L195.2,732.1Z M238.1,725.3 L238.0,727.8 L238.3,731.0 L236.4,730.6 L234.7,733.3 L234.5,730.3 L232.6,729.7 L234.5,727.2 L235.0,724.1 L236.2,725.1Z M193.5,720.9 L191.3,719.2 L188.7,717.6 L189.8,716.4 L188.9,713.6 L192.9,715.3 L196.3,713.8 L195.9,716.2 L198.0,718.5 L195.0,718.9Z M162.8,722.4 L165.8,723.7 L169.5,723.9 L167.6,725.7 L166.8,728.2 L164.0,726.5 L161.2,726.3 L162.7,724.8Z M247.8,662.9 L245.8,663.6 L244.7,664.4 L243.8,663.1 L242.3,661.6 L243.9,660.8 L245.1,658.9 L246.2,661.3Z M141.4,696.3 L142.0,698.8 L143.8,700.5 L141.7,701.4 L140.4,703.0 L139.9,700.5 L138.7,699.2 L140.3,697.5Z M157.8,689.1 L159.1,691.9 L160.6,694.3 L158.9,695.1 L156.2,696.1 L155.5,694.3 L154.0,692.8 L156.9,691.3Z M241.1,714.5 L242.0,711.9 L241.7,707.8 L243.7,709.9 L245.8,708.9 L245.1,711.8 L244.9,715.1 L243.3,714.5Z M178.5,650.0 L181.6,650.2 L184.1,648.7 L183.8,651.7 L184.1,654.0 L182.0,653.6 L179.1,654.5 L179.8,651.9Z" fill="#000"/></g>
<path d="M159.6,694.5 L158.8,694.1 L157.7,693.8 L158.7,693.4 L158.7,692.6 L159.6,693.2 L160.4,693.2 L159.9,693.8Z M239.7,710.6 L238.8,710.2 L238.0,710.0 L238.3,709.5 L237.8,708.5 L239.2,708.8 L240.1,709.0 L239.8,709.6Z M143.1,656.4 L142.9,655.5 L141.7,654.7 L143.6,654.6 L144.4,654.0 L144.9,654.9 L146.2,655.7 L144.4,655.7Z M175.8,660.8 L176.8,661.1 L177.8,660.8 L177.4,661.4 L177.6,662.1 L176.6,661.7 L176.0,661.8 L176.1,661.4Z M145.9,679.0 L145.4,677.9 L144.6,677.2 L145.4,677.0 L146.2,676.3 L146.8,677.1 L147.8,677.9 L146.6,678.1Z M177.0,646.7 L178.1,646.3 L178.4,645.6 L179.5,646.3 L180.7,646.5 L179.5,647.0 L178.7,648.0 L178.2,647.1Z M239.5,716.0 L239.9,714.5 L239.6,712.9 L241.1,714.1 L242.7,714.0 L242.4,715.2 L242.3,716.3 L240.9,716.1Z M164.9,642.5 L164.0,641.4 L162.5,640.8 L164.2,640.1 L164.5,638.7 L165.5,639.9 L167.0,640.7 L165.5,641.5Z M155.4,702.1 L155.8,700.5 L155.3,699.5 L156.5,699.6 L157.6,699.3 L157.5,700.4 L157.7,701.6 L156.8,701.6Z M193.8,656.9 L191.7,657.6 L190.4,658.6 L190.2,656.8 L188.6,655.4 L190.8,654.7 L192.2,653.7 L192.6,655.7Z M228.4,717.1 L229.1,717.2 L230.6,717.4 L229.8,717.9 L229.8,718.8 L228.9,718.5 L228.1,718.1 L228.5,717.7Z M145.5,669.5 L144.1,669.6 L142.7,670.1 L142.7,668.0 L142.4,666.5 L144.1,666.6 L145.8,666.6 L145.3,668.2Z M227.0,654.3 L226.4,654.9 L226.6,655.6 L225.6,655.3 L224.7,655.2 L225.1,654.6 L225.2,654.1 L225.9,654.2Z M174.5,648.0 L173.4,648.6 L172.7,649.4 L172.4,648.7 L171.3,648.1 L172.2,647.7 L173.1,646.6 L173.4,647.6Z M218.6,658.0 L217.6,657.9 L217.0,658.0 L216.9,657.6 L216.6,657.1 L217.7,657.1 L218.5,657.0 L218.3,657.6Z M221.3,736.3 L221.8,735.4 L221.6,734.6 L222.3,734.9 L223.5,734.7 L223.0,735.7 L223.0,736.7 L222.1,736.3Z M149.6,671.0 L150.2,672.3 L151.8,672.6 L150.4,673.3 L149.7,674.5 L148.9,673.6 L147.7,672.7 L148.9,672.2Z M223.2,650.3 L221.8,651.7 L221.7,653.5 L219.9,651.9 L218.4,651.8 L219.9,650.4 L220.3,648.9 L221.5,650.2Z M203.9,726.1 L205.1,725.0 L206.0,723.5 L206.8,725.3 L208.6,726.0 L206.8,727.1 L206.3,728.7 L205.0,727.1Z M204.8,730.5 L204.2,731.0 L203.7,731.8 L203.1,731.0 L202.4,730.5 L203.1,729.9 L203.8,729.0 L204.1,730.0Z M246.3,649.4 L245.5,647.9 L244.4,647.1 L245.9,646.0 L246.7,643.9 L247.4,646.0 L249.6,647.2 L247.5,647.9Z M238.3,717.9 L237.1,718.1 L236.6,718.3 L236.3,717.5 L235.9,716.6 L236.9,716.7 L237.9,716.4 L237.9,717.4Z M159.8,706.1 L159.8,705.2 L159.5,704.5 L160.4,704.4 L161.5,704.3 L161.8,704.8 L162.1,705.6 L161.1,705.7Z M212.7,712.5 L213.1,711.4 L213.1,710.5 L214.3,710.8 L215.6,710.7 L215.0,711.7 L215.3,712.8 L213.9,712.4Z M212.4,682.3 L213.2,683.5 L215.0,684.2 L213.2,685.3 L212.4,686.8 L211.7,685.3 L209.4,684.9 L211.4,683.8Z M173.4,719.3 L175.6,718.8 L177.0,717.1 L177.4,719.2 L179.1,720.9 L177.2,720.7 L175.7,721.8 L175.3,720.3Z M214.9,698.6 L212.9,700.3 L211.5,701.5 L210.9,700.2 L209.5,698.9 L211.1,697.8 L211.6,696.3 L212.8,697.6Z M148.1,654.3 L149.4,655.8 L150.6,656.3 L149.6,657.3 L148.2,659.2 L148.0,657.6 L146.3,656.8 L147.4,656.0Z M173.1,690.3 L172.0,690.2 L171.2,690.4 L171.4,689.6 L171.1,688.6 L172.0,688.8 L173.0,688.4 L172.8,689.4Z M197.7,679.3 L197.2,680.4 L196.4,682.4 L195.6,680.9 L194.5,680.6 L194.9,679.1 L195.7,677.1 L196.5,678.7Z" fill="#33208a" filter="url(#ms)"/>
<path d="M147.9,665.7h0M151.5,729.2h0M174.9,687.7h0M210.0,726.1h0M241.5,695.3h0M193.5,727.7h0M182.0,669.5h0M219.2,665.5h0M179.2,682.0h0M190.9,675.2h0M185.9,684.1h0M144.8,721.2h0M146.2,691.5h0M198.5,679.1h0M163.5,650.2h0M179.6,670.9h0M191.7,662.8h0M220.3,687.6h0M140.5,679.8h0M243.7,641.3h0M203.5,733.2h0M178.9,698.3h0M179.3,669.6h0M205.2,697.4h0M173.5,688.6h0M195.1,713.3h0M145.2,649.5h0M166.7,666.6h0M225.3,681.6h0M232.2,679.4h0M170.3,706.1h0M148.7,735.5h0M229.1,672.2h0M173.7,719.6h0M224.5,702.5h0M145.6,714.2h0M144.7,700.8h0M199.0,730.0h0M208.4,642.8h0M240.2,713.2h0M202.0,641.1h0M218.9,680.9h0M212.8,735.4h0M238.3,647.8h0M223.7,683.1h0M220.5,677.0h0M187.8,682.7h0M152.2,671.4h0M218.7,647.5h0M152.0,721.0h0M211.3,693.4h0M151.7,652.0h0M172.9,732.6h0M199.9,729.5h0M162.3,680.6h0M197.3,721.5h0M152.8,724.8h0M190.4,643.6h0M186.1,677.0h0M212.2,730.1h0M192.7,707.1h0M181.3,715.7h0M150.8,712.2h0M157.4,697.1h0M161.3,674.0h0M157.2,674.3h0M203.3,690.7h0M181.4,696.0h0M230.3,675.1h0M202.4,686.9h0M245.2,672.2h0M214.7,663.1h0M167.7,711.0h0M201.5,665.4h0M146.4,720.1h0M180.2,709.7h0M186.1,700.1h0M199.8,734.7h0M237.6,684.5h0M192.0,662.9h0M220.7,650.5h0M172.5,722.3h0M143.3,707.9h0M200.7,693.8h0M175.4,655.2h0M242.0,714.3h0M226.4,650.0h0M224.0,661.7h0M161.0,692.2h0M205.2,652.2h0M222.0,696.7h0M236.5,729.7h0M213.8,675.7h0" stroke="#3a2838" stroke-width="1.1" stroke-linecap="round" fill="none" opacity="0.85" filter="url(#ms)"/>
<path d="M242.0,709.9h0M170.9,723.3h0M217.9,666.1h0M166.4,642.6h0M197.4,665.0h0M171.1,665.0h0M153.7,687.3h0M168.9,668.1h0M169.4,689.7h0M233.7,656.0h0M232.2,723.0h0M205.2,693.0h0M218.6,692.1h0M210.6,729.2h0M223.1,665.6h0M145.4,730.9h0M178.6,716.5h0M164.7,684.3h0M179.4,710.9h0M241.2,689.3h0M200.5,674.2h0M164.5,732.2h0M151.4,731.3h0M210.3,647.5h0M236.7,650.4h0M200.5,652.1h0M246.1,670.4h0M233.5,646.5h0M211.3,647.1h0M142.7,695.6h0M245.4,706.6h0M231.7,716.3h0M195.7,648.0h0M196.3,658.4h0M196.3,674.7h0M193.3,659.6h0M215.5,680.8h0M191.9,648.2h0M192.0,694.4h0M244.3,694.7h0M154.0,669.5h0M175.7,708.3h0M240.7,734.7h0M241.9,729.8h0M232.1,730.7h0M141.7,687.8h0M203.2,706.7h0M205.6,699.7h0M240.1,648.9h0M195.5,733.1h0M142.9,651.4h0M233.2,732.9h0M142.1,643.7h0M228.9,707.0h0M195.5,696.5h0M221.1,718.5h0M139.6,647.1h0M225.1,734.6h0M229.3,679.9h0M175.7,674.0h0M141.1,714.8h0M167.8,697.1h0M196.2,672.9h0M212.3,684.5h0M164.8,725.6h0M158.4,655.1h0M166.8,686.8h0M224.0,672.7h0M165.2,703.7h0M167.6,691.0h0M167.0,725.1h0M159.4,663.0h0M172.0,672.4h0M217.8,705.6h0M224.7,692.7h0M148.0,714.2h0" stroke="#3a2838" stroke-width="1.6" stroke-linecap="round" fill="none" opacity="0.85" filter="url(#ms)"/>
</g>
<clipPath id="mc1"><rect x="251.0" y="640.4" width="108.8" height="96.4"/></clipPath>
<g clip-path="url(#mc1)">
<rect x="251.0" y="640.4" width="108.8" height="96.4" fill="#f6e3cc" filter="url(#mg)"/>
<g filter="url(#mb)"><rect x="248.0" y="637.4" width="114.8" height="102.4" fill="none"/><path d="M269.1,664.5 L265.1,666.8 L268.2,669.3 L263.7,669.2 L264.0,672.6 L261.1,670.2 L258.9,674.4 L258.2,670.2 L254.2,670.0 L256.2,668.1 L253.1,665.1 L257.0,664.5 L256.7,660.9 L260.3,663.7 L263.2,661.6 L263.2,664.5Z M254.8,671.8 L256.2,675.6 L258.1,673.9 L257.4,678.3 L258.9,680.0 L257.0,681.0 L256.4,686.6 L255.0,682.2 L252.9,683.3 L253.3,679.2 L252.2,677.1 L254.1,675.3Z M253.0,653.2 L253.5,657.2 L253.9,660.0 L251.9,659.6 L250.7,660.9 L250.0,658.1 L249.1,654.3 L251.6,655.1Z M273.7,653.9 L271.2,654.8 L270.5,655.9 L268.6,654.7 L265.0,653.5 L268.3,653.2 L269.6,651.6 L271.5,652.6Z M281.2,657.6 L280.0,655.5 L277.7,654.1 L280.1,653.3 L281.1,651.8 L282.6,653.7 L283.9,654.4 L282.5,655.7Z M279.7,683.1 L285.3,683.4 L285.2,680.3 L289.5,682.7 L292.7,681.3 L292.9,683.2 L297.8,682.8 L294.3,685.3 L296.1,687.2 L293.6,687.7 L294.5,691.1 L289.9,688.7 L286.8,690.7 L286.7,687.3 L281.0,687.6 L284.3,685.4Z M297.0,688.1 L301.5,688.5 L298.9,681.2 L302.6,685.3 L304.0,680.3 L305.2,686.2 L308.1,682.7 L307.7,687.9 L311.7,686.3 L309.1,690.5 L312.3,692.1 L308.1,692.9 L311.0,696.9 L307.1,696.3 L308.0,701.1 L305.1,697.4 L302.5,703.6 L302.1,697.5 L297.4,701.0 L301.2,693.6 L296.7,693.2 L300.5,691.2Z M309.9,680.4 L310.1,683.9 L312.1,685.3 L309.9,687.2 L311.1,690.5 L306.7,687.8 L304.4,690.3 L304.0,687.2 L300.4,685.4 L303.9,683.8 L304.4,680.6 L307.2,682.9Z M332.0,689.7 L326.7,687.1 L325.4,691.7 L323.1,688.1 L319.8,689.3 L320.3,685.7 L316.9,684.2 L319.2,682.0 L318.6,679.4 L321.2,679.5 L322.6,676.9 L324.5,678.3 L327.9,675.4 L327.4,679.7 L331.3,678.7 L330.1,682.1 L333.1,684.4 L328.7,684.9Z M324.5,688.3 L327.1,690.1 L329.5,686.2 L329.5,691.2 L334.2,688.6 L331.6,693.9 L333.4,695.3 L330.9,697.2 L332.0,700.1 L329.5,699.2 L328.0,705.3 L326.5,700.4 L324.5,702.2 L325.1,697.7 L320.7,698.1 L324.3,695.1 L320.7,692.6 L324.2,692.0Z M279.8,714.1 L280.5,709.2 L276.3,710.2 L279.3,706.5 L274.0,705.6 L278.3,703.9 L274.5,699.8 L280.4,701.7 L281.3,696.5 L284.2,700.9 L288.8,697.9 L288.0,701.5 L291.7,702.5 L288.5,705.0 L295.6,705.7 L290.3,707.9 L292.0,711.1 L287.4,709.5 L286.1,714.3 L283.6,709.5Z M291.9,706.6 L293.5,708.2 L296.0,708.1 L294.4,710.0 L294.4,711.9 L292.0,711.7 L288.9,712.7 L288.9,710.2 L285.7,709.1 L289.8,708.1Z M248.5,717.5 L259.6,716.9 L250.2,710.5 L260.3,712.2 L259.0,704.7 L267.4,713.0 L271.0,705.0 L273.7,712.6 L281.6,709.3 L277.4,716.0 L287.9,716.4 L279.8,720.5 L284.1,724.4 L277.4,724.7 L281.1,733.0 L270.2,725.4 L268.8,732.5 L265.7,726.8 L255.6,732.4 L261.2,724.3 L247.4,727.3 L258.7,720.7Z M255.1,711.9 L257.8,710.6 L257.6,707.2 L261.5,709.9 L264.9,706.3 L265.1,710.9 L270.4,709.8 L268.2,712.1 L272.6,713.4 L268.3,714.1 L272.1,717.7 L266.3,716.4 L265.6,720.1 L262.5,717.3 L258.7,717.6 L258.2,715.7 L255.0,715.1 L256.8,713.3Z M266.0,725.3 L270.0,727.3 L271.4,725.3 L273.5,728.0 L278.0,726.9 L275.9,730.0 L279.1,732.0 L275.7,733.0 L276.9,735.7 L273.2,733.9 L272.0,737.5 L270.5,734.8 L265.6,737.0 L267.6,732.6 L264.9,730.9 L267.7,730.2Z M297.3,737.0 L295.8,733.6 L292.6,736.5 L293.7,732.1 L287.8,731.1 L292.1,729.4 L292.1,726.8 L294.8,727.1 L296.3,724.4 L298.1,727.0 L301.0,726.5 L300.2,728.9 L303.4,730.1 L300.3,731.1 L303.2,734.1 L298.7,733.6Z M349.6,707.4 L345.9,706.9 L345.3,711.5 L342.1,707.9 L337.7,711.1 L339.5,705.4 L333.5,706.4 L337.4,702.8 L333.0,699.6 L338.6,699.9 L337.2,696.4 L341.7,697.6 L344.4,694.9 L345.2,698.0 L348.8,698.0 L348.0,700.3 L350.6,702.4 L347.7,704.4Z M331.6,708.7 L332.4,712.3 L336.7,710.2 L334.4,714.2 L339.0,714.3 L335.3,716.1 L338.8,720.9 L334.3,719.2 L333.4,722.0 L330.5,719.3 L328.4,721.5 L328.2,718.3 L324.3,718.0 L326.8,716.0 L324.2,714.0 L326.4,713.1 L325.2,710.0 L329.3,711.6Z M343.6,710.6 L346.9,711.5 L348.4,710.2 L349.0,713.0 L351.4,713.4 L350.5,715.4 L350.8,718.9 L348.4,718.2 L347.1,719.3 L346.2,716.4 L343.0,716.2 L345.9,713.9Z M337.6,731.6 L339.9,728.4 L335.9,725.6 L340.0,724.7 L338.2,720.4 L343.4,723.8 L344.7,718.1 L346.4,723.2 L351.3,720.6 L349.6,724.0 L352.9,724.7 L349.0,727.3 L352.9,730.3 L348.9,730.1 L348.1,733.2 L345.9,731.0 L343.3,734.1 L343.1,729.7Z M332.2,674.4 L334.5,673.7 L336.2,669.8 L336.6,673.0 L339.1,674.0 L337.4,676.5 L336.5,679.9 L335.3,678.2 L332.3,679.4 L333.2,676.7Z M332.0,663.7 L332.6,665.8 L334.2,666.7 L332.7,668.3 L332.1,670.2 L330.3,668.9 L328.4,667.5 L330.6,666.4Z M343.8,676.3 L343.9,678.6 L344.8,679.9 L343.4,681.3 L342.0,681.9 L341.7,680.1 L341.0,677.8 L342.2,677.7Z M357.9,682.2 L356.3,683.7 L355.7,685.2 L354.8,683.6 L353.5,680.9 L354.8,680.1 L355.6,677.5 L356.5,680.3Z M326.7,649.7 L328.5,650.7 L329.9,651.2 L329.0,653.7 L328.9,657.4 L327.4,655.4 L325.4,654.7 L326.5,652.1Z M312.8,645.2 L310.2,644.1 L306.9,644.2 L309.6,642.3 L308.8,639.8 L311.7,640.7 L314.3,640.9 L312.8,643.0Z M265.3,703.6 L266.9,702.0 L267.5,699.0 L269.6,701.0 L272.8,701.4 L270.6,703.4 L270.5,705.7 L268.7,704.3Z M311.6,707.2 L312.8,708.3 L314.1,709.6 L313.0,710.9 L311.8,712.4 L311.2,710.2 L309.7,709.8 L310.8,708.7Z M256.6,642.9 L258.2,643.1 L259.3,642.4 L259.6,643.9 L260.4,645.5 L258.7,645.1 L257.4,645.3 L257.3,644.4Z M277.0,639.2 L278.7,640.4 L280.0,640.4 L279.3,642.4 L279.1,644.5 L277.7,642.9 L276.5,642.6 L277.2,641.3Z M352.7,645.4 L351.0,646.4 L350.4,647.4 L349.7,646.3 L348.3,645.4 L349.4,644.8 L350.4,643.5 L351.3,644.6Z" fill="#000"/></g>
<path d="M320.4,704.8 L321.3,704.1 L321.3,703.2 L322.4,703.4 L323.7,703.5 L323.1,704.4 L323.1,705.4 L321.8,705.1Z M256.0,639.9 L257.7,640.5 L258.8,640.8 L258.7,641.6 L259.2,643.5 L257.8,643.0 L256.2,643.0 L256.6,641.5Z M300.7,659.4 L300.2,658.5 L298.9,657.7 L300.2,657.5 L301.5,656.8 L302.0,657.8 L303.9,658.4 L301.3,658.9Z M322.7,698.2 L322.3,697.3 L321.1,696.3 L322.1,696.1 L322.8,695.1 L323.4,696.2 L324.5,696.9 L323.3,697.3Z M287.0,716.6 L287.4,715.7 L287.0,714.4 L289.0,714.9 L290.6,715.0 L289.7,715.9 L289.7,716.8 L288.3,716.8Z M258.2,689.4 L256.9,689.6 L256.1,690.1 L255.7,689.3 L254.9,688.3 L256.1,688.3 L256.9,687.4 L257.3,688.5Z M285.3,694.0 L285.2,694.6 L285.4,695.0 L284.5,694.9 L283.7,695.0 L283.8,694.4 L283.6,693.8 L284.6,694.2Z M337.8,687.0 L336.7,687.3 L336.3,688.1 L335.7,687.3 L334.8,686.8 L335.5,686.6 L335.9,686.0 L336.6,686.6Z M298.9,681.4 L300.1,681.9 L302.0,681.9 L301.0,683.0 L301.0,684.7 L299.3,683.9 L298.4,683.4 L298.9,682.5Z M325.8,734.8 L324.3,734.6 L322.7,734.8 L323.2,733.6 L322.8,732.8 L324.3,733.1 L325.9,733.0 L325.9,733.7Z M342.3,670.8 L343.8,671.9 L345.2,671.7 L344.9,673.4 L345.0,674.6 L343.7,674.3 L341.9,675.0 L342.5,672.8Z M321.0,679.8 L321.6,680.6 L322.2,681.0 L321.5,681.5 L320.8,682.1 L320.5,681.5 L320.0,681.0 L320.7,680.4Z M302.7,686.0 L302.3,685.0 L301.7,684.6 L302.4,684.0 L302.7,683.7 L303.2,684.2 L303.8,684.7 L303.2,685.1Z M356.0,670.4 L357.1,670.6 L358.2,670.3 L357.6,671.3 L357.7,672.3 L356.7,671.8 L355.7,671.8 L356.0,671.2Z M334.1,650.5 L335.1,650.4 L336.0,650.1 L335.9,650.7 L336.5,651.3 L335.6,651.3 L334.7,651.6 L335.0,650.9Z M267.4,713.2 L268.8,711.9 L269.2,710.4 L270.2,711.7 L271.3,712.4 L270.4,713.1 L270.0,713.9 L269.1,713.1Z M251.3,716.7 L251.9,719.0 L253.7,720.1 L251.9,720.6 L250.8,721.9 L250.2,720.7 L248.5,719.1 L250.4,718.8Z M325.7,665.1 L326.5,665.1 L327.1,663.9 L327.3,665.3 L328.2,666.0 L327.1,666.2 L326.6,666.7 L326.4,665.9Z M306.5,651.2 L307.3,650.6 L307.5,649.9 L308.1,650.7 L308.9,651.1 L308.1,651.6 L307.7,652.2 L307.1,651.6Z M335.8,703.4 L335.5,704.1 L335.7,705.0 L334.8,704.7 L334.0,704.8 L334.3,703.8 L334.5,703.0 L335.0,703.5Z M270.7,734.3 L270.9,732.9 L270.2,732.0 L271.9,732.1 L273.4,731.6 L273.3,732.7 L273.9,733.6 L272.2,733.8Z M314.5,676.1 L314.7,675.2 L314.1,674.1 L315.7,674.2 L317.2,674.0 L316.5,675.3 L316.7,676.7 L315.6,675.7Z M357.6,673.1 L356.5,674.2 L356.2,676.1 L355.1,674.4 L353.0,673.1 L354.7,672.1 L355.4,670.8 L356.3,672.2Z M272.8,675.9 L274.2,675.8 L275.5,675.0 L275.7,676.1 L276.2,676.8 L275.0,676.8 L273.3,677.3 L273.7,676.5Z M327.5,727.4 L327.9,725.8 L328.3,724.4 L329.6,725.4 L331.3,725.2 L330.9,726.5 L331.4,728.3 L328.8,727.6Z M293.5,725.8 L295.0,726.4 L296.3,726.2 L296.0,727.3 L296.2,728.6 L295.0,728.0 L293.8,728.2 L294.2,727.2Z M359.5,726.2 L358.7,727.6 L358.6,728.9 L357.6,728.2 L356.6,728.1 L356.9,727.0 L356.9,725.1 L358.0,726.5Z M278.2,688.8 L278.7,689.6 L279.6,690.0 L278.7,690.6 L278.1,691.2 L277.7,690.5 L276.2,689.8 L277.6,689.6Z M273.7,731.0 L272.8,731.3 L272.0,731.7 L272.0,730.7 L271.8,730.1 L272.3,730.0 L273.3,729.5 L273.4,730.4Z M276.6,657.2 L277.7,656.8 L278.6,655.7 L279.0,656.8 L279.8,657.5 L279.0,658.3 L278.5,659.2 L277.9,658.1Z M351.2,711.4 L351.2,710.6 L351.0,710.0 L351.7,710.0 L352.4,709.9 L352.5,710.6 L352.7,711.1 L351.8,711.0Z M315.7,671.0 L314.8,670.8 L313.6,671.7 L314.1,669.8 L313.5,668.1 L314.8,669.1 L315.8,669.0 L315.8,670.1Z M344.8,652.2 L345.7,651.0 L346.0,650.1 L347.3,650.7 L348.7,650.7 L347.5,651.7 L347.2,653.6 L346.4,652.2Z M279.6,703.0 L281.2,703.0 L282.9,702.4 L282.2,703.8 L282.5,705.1 L281.4,704.9 L279.8,705.6 L280.2,704.2Z M272.1,682.0 L271.8,679.8 L271.2,678.4 L273.4,678.5 L275.7,677.3 L275.2,679.6 L275.3,681.7 L273.5,681.2Z M294.9,696.7 L295.1,696.2 L294.9,695.7 L296.1,695.7 L297.0,695.6 L296.6,696.2 L296.7,696.7 L295.9,696.8Z M323.6,700.9 L322.7,700.1 L321.0,699.2 L322.7,698.3 L323.4,697.4 L324.0,698.3 L325.2,698.9 L324.1,699.9Z M251.5,692.0 L250.9,691.5 L249.4,691.2 L250.3,690.7 L250.2,689.3 L251.3,690.2 L252.5,690.5 L252.1,691.2Z M303.3,707.1 L302.0,708.4 L301.6,709.9 L300.4,708.7 L299.2,707.7 L300.0,706.7 L300.9,705.5 L301.5,706.7Z M280.6,716.7 L280.7,717.4 L281.9,718.1 L280.6,718.4 L280.2,719.5 L279.7,718.5 L279.0,717.6 L279.9,717.5Z M325.9,731.0 L325.1,732.4 L325.0,733.5 L323.3,733.2 L322.1,732.9 L322.9,731.9 L322.8,730.4 L324.4,731.4Z M278.3,661.1 L278.6,658.6 L277.7,656.7 L279.6,657.2 L282.2,655.9 L281.5,658.2 L282.0,659.9 L280.2,660.0Z" fill="#33208a" filter="url(#ms)"/>
<path d="M349.8,664.9h0M300.5,682.9h0M332.4,724.5h0M356.8,704.9h0M316.7,651.2h0M257.5,642.5h0M318.5,696.0h0M255.2,725.6h0M326.1,706.8h0M278.0,669.6h0M311.2,672.6h0M310.0,703.4h0M316.4,671.7h0M359.2,665.0h0M311.8,677.3h0M254.9,674.4h0M322.2,724.2h0M294.1,655.7h0M319.9,645.1h0M307.1,651.6h0M327.0,713.6h0M335.6,673.4h0M336.8,690.0h0M276.4,708.6h0M274.6,732.0h0M340.0,641.5h0M326.1,684.0h0M256.6,686.0h0M315.8,642.8h0M268.2,714.3h0M279.3,723.8h0M294.0,704.0h0M291.4,642.1h0M324.0,668.4h0M311.7,708.0h0M311.0,658.6h0M268.7,720.2h0M348.8,672.8h0M318.3,733.1h0M267.4,689.2h0M336.6,703.4h0M313.4,716.7h0M291.4,662.0h0M285.0,670.8h0M299.1,652.0h0M342.5,702.6h0M327.5,703.8h0M334.7,683.5h0M279.5,661.5h0M263.3,733.6h0M324.8,701.6h0M317.0,682.0h0M307.8,644.3h0M325.9,681.6h0M260.4,731.2h0M307.1,641.9h0M277.4,671.3h0M305.0,640.5h0M295.3,704.1h0M323.2,673.2h0M329.6,654.5h0M255.7,642.4h0M269.6,719.7h0M285.3,727.8h0M330.5,717.6h0M356.4,703.0h0M324.4,718.6h0M323.2,681.6h0M325.3,648.4h0M336.6,646.5h0M353.8,705.3h0M353.4,702.0h0M294.8,688.8h0M300.0,649.4h0M341.8,656.7h0M274.8,672.1h0M326.5,679.9h0M284.6,696.8h0M285.1,657.9h0M337.8,684.1h0M326.0,643.1h0M357.9,657.9h0M310.7,657.2h0M286.4,715.5h0M307.4,735.1h0M263.4,724.7h0M349.8,671.6h0M350.9,666.9h0M327.9,672.2h0M308.1,701.0h0M343.7,671.6h0M259.9,667.4h0M331.6,673.1h0M300.5,703.4h0M295.4,725.5h0M295.0,687.0h0M346.0,645.6h0M292.8,705.1h0M322.8,682.9h0M298.6,728.0h0M348.8,665.6h0M298.6,641.3h0M262.7,674.0h0M291.0,708.0h0M266.3,684.0h0M342.7,652.0h0M274.6,674.5h0M314.1,731.2h0M273.4,684.3h0M316.6,719.6h0M351.0,727.2h0M269.0,672.6h0M256.0,643.6h0M294.3,682.5h0M317.7,731.3h0M263.8,733.5h0M328.0,653.4h0M325.7,652.1h0M258.9,703.9h0M266.2,704.4h0M297.4,704.6h0M285.3,699.4h0M261.5,723.5h0M337.6,675.4h0M321.6,649.4h0M319.2,663.4h0M355.6,651.9h0M254.2,726.3h0M325.5,700.1h0M260.6,682.9h0M330.4,647.3h0M337.6,697.4h0" stroke="#3a2838" stroke-width="1.1" stroke-linecap="round" fill="none" opacity="0.85" filter="url(#ms)"/>
<path d="M264.5,690.6h0M296.3,717.3h0M312.4,720.9h0M333.7,688.5h0M272.6,735.9h0M285.6,701.1h0M341.9,658.3h0M256.5,716.4h0M330.6,656.0h0M284.0,700.1h0M312.5,722.4h0M303.4,658.6h0M334.2,680.4h0M280.1,654.0h0M278.3,652.4h0M267.8,690.3h0M263.1,657.6h0M327.0,657.8h0M333.2,642.4h0M284.4,654.7h0M309.8,687.2h0M332.4,682.4h0M343.7,646.1h0M316.0,646.1h0M288.0,727.9h0M276.7,646.2h0M357.8,641.6h0M316.6,654.8h0M317.2,719.9h0M264.1,729.1h0M324.7,652.0h0M271.6,678.1h0M336.5,723.8h0M271.1,724.3h0M317.9,643.8h0M309.2,667.5h0M313.0,715.1h0M263.7,647.9h0M257.3,692.2h0M331.1,666.4h0M329.6,724.3h0M304.0,649.7h0M252.4,650.7h0M332.4,719.1h0M251.9,701.7h0M350.6,669.1h0M355.4,716.1h0M271.7,658.4h0M342.5,668.5h0M254.4,642.0h0M324.9,706.0h0M269.9,727.9h0M289.2,664.4h0M277.2,703.2h0M334.0,723.1h0M258.7,701.3h0M286.2,648.7h0M322.2,656.8h0M260.3,734.1h0M256.7,687.1h0M293.6,657.3h0M358.3,646.7h0M257.6,671.4h0M314.9,694.5h0M328.1,695.9h0M302.0,735.0h0M262.9,685.5h0M286.2,734.7h0M304.8,688.6h0M336.6,735.7h0M323.8,644.1h0M267.9,652.7h0M256.6,643.8h0M354.6,679.8h0M332.3,665.6h0M273.9,735.3h0M260.4,723.9h0M257.5,686.5h0M299.2,694.9h0M317.1,652.6h0M345.4,660.0h0M278.7,645.3h0M275.2,696.8h0M302.4,732.4h0M340.4,674.6h0M284.7,688.9h0M281.0,675.0h0M321.9,662.1h0M354.0,725.6h0M324.0,709.8h0M359.4,686.6h0M296.4,703.0h0M335.5,682.8h0M275.0,736.5h0M328.9,705.6h0M260.5,679.8h0M318.5,724.5h0M284.3,648.9h0M329.5,723.2h0M310.7,709.1h0M286.9,671.0h0M263.8,650.3h0M337.3,719.2h0M313.1,693.1h0M307.1,717.5h0M260.3,661.3h0M267.4,735.1h0M304.7,708.5h0" stroke="#3a2838" stroke-width="1.6" stroke-linecap="round" fill="none" opacity="0.85" filter="url(#ms)"/>
</g>
<clipPath id="mc2"><rect x="139.5" y="742.0" width="107.8" height="96.0"/></clipPath>
<g clip-path="url(#mc2)">
<rect x="139.5" y="742.0" width="107.8" height="96.0" fill="#f6e3cc" filter="url(#mg)"/>
<g filter="url(#mb)"><rect x="136.5" y="739.0" width="113.8" height="102.0" fill="none"/><path d="M161.0,739.1 L165.7,741.1 L168.6,738.4 L168.9,742.3 L174.1,740.8 L170.5,744.7 L176.5,746.1 L171.7,747.5 L173.0,751.7 L167.9,748.2 L166.9,752.1 L164.0,749.7 L159.8,751.6 L162.4,747.2 L157.6,747.1 L161.8,745.3 L155.7,741.8 L161.7,742.9Z M168.3,765.4 L164.8,766.9 L165.9,770.0 L162.4,769.0 L162.6,774.7 L159.0,768.8 L155.7,773.0 L155.9,768.9 L151.5,770.6 L155.0,765.9 L150.2,765.2 L153.7,763.6 L146.9,760.4 L155.2,761.8 L153.9,757.4 L157.5,759.6 L159.3,755.0 L160.4,760.2 L165.0,757.0 L164.4,760.5 L167.7,760.4 L163.7,763.9Z M177.3,747.1 L179.3,749.9 L184.3,746.6 L183.4,752.2 L188.0,752.7 L185.2,755.4 L191.3,757.2 L182.3,758.2 L185.1,762.5 L180.6,759.9 L179.7,763.6 L176.9,761.2 L173.3,766.4 L172.5,761.3 L165.7,762.7 L169.8,758.1 L167.0,757.1 L170.1,755.2 L165.7,751.0 L173.2,753.2 L172.1,749.3 L175.5,752.1Z M189.9,742.2 L191.8,747.5 L197.8,742.7 L198.1,749.0 L202.7,748.7 L197.5,753.1 L207.7,755.8 L199.1,756.2 L207.2,761.9 L195.1,758.4 L196.0,764.9 L191.6,761.8 L188.8,766.6 L186.9,759.4 L179.4,764.2 L182.4,758.8 L171.9,757.5 L181.6,754.0 L175.0,750.9 L182.0,750.0 L179.9,745.7 L187.7,749.3Z M200.6,753.9 L196.2,750.6 L194.5,753.5 L193.6,750.3 L186.9,753.5 L189.5,749.4 L184.8,749.3 L189.3,746.9 L186.1,744.6 L191.0,744.1 L189.3,740.7 L193.5,742.5 L196.1,738.4 L197.8,743.0 L202.7,741.2 L200.7,744.4 L204.6,745.7 L202.3,747.5 L205.3,750.2 L198.8,749.2Z M201.5,749.6 L207.6,748.3 L205.3,744.8 L208.9,746.0 L210.5,741.2 L212.2,746.0 L215.6,743.9 L214.9,747.0 L222.5,746.6 L217.4,749.5 L220.3,751.0 L214.9,751.5 L217.5,756.6 L213.0,753.0 L210.0,757.2 L209.2,753.5 L205.9,753.9 L207.6,750.7Z M223.7,750.2 L226.3,746.8 L225.8,743.7 L228.2,743.9 L230.0,741.0 L231.3,744.6 L235.0,743.3 L233.4,746.1 L235.8,749.4 L232.7,750.8 L232.6,754.9 L229.9,750.9 L228.0,752.9 L227.8,749.9Z M207.2,756.5 L209.2,759.0 L213.2,756.7 L212.2,759.5 L216.6,760.1 L212.5,762.3 L216.5,764.8 L211.7,764.5 L211.3,769.1 L208.7,765.4 L205.9,767.4 L204.8,764.3 L199.7,765.0 L204.3,761.9 L202.6,759.1 L206.1,759.7Z M235.8,759.4 L238.1,759.7 L239.2,758.0 L240.2,760.8 L243.0,761.1 L241.8,763.5 L242.6,765.9 L239.9,765.8 L238.5,770.0 L237.5,765.4 L234.4,764.9 L236.4,762.7Z M236.2,778.3 L231.3,777.1 L229.6,779.3 L228.6,776.4 L224.5,777.2 L226.4,774.5 L222.1,771.8 L226.8,772.0 L226.6,768.6 L229.9,771.0 L234.3,768.4 L233.2,772.1 L236.5,773.3 L232.8,774.6Z M192.0,779.9 L188.9,778.2 L186.9,782.7 L185.1,778.5 L182.8,778.3 L183.1,775.7 L181.0,774.6 L184.6,773.3 L183.5,768.6 L186.8,771.6 L188.5,767.8 L189.8,771.9 L193.2,770.8 L191.3,774.0 L195.4,775.5 L191.8,777.5Z M199.7,782.6 L191.2,787.0 L198.7,790.0 L190.6,790.4 L195.5,796.4 L188.0,793.3 L187.6,801.2 L183.8,793.2 L178.9,799.1 L180.8,791.9 L173.9,793.7 L177.9,790.3 L170.0,788.8 L176.5,785.9 L171.9,780.6 L179.4,783.2 L177.8,776.3 L183.3,781.1 L185.5,775.9 L187.5,780.8 L194.2,778.1 L189.9,784.2Z M213.9,780.8 L206.5,782.6 L210.9,785.7 L205.2,784.7 L205.5,789.3 L201.2,785.6 L199.6,790.4 L197.4,786.4 L193.3,788.8 L194.1,785.5 L187.9,785.8 L194.3,782.1 L185.4,780.5 L192.8,779.3 L189.5,775.0 L196.4,778.4 L196.3,771.9 L199.5,776.8 L204.4,771.5 L203.9,776.4 L209.0,776.4 L204.9,779.9Z M202.2,787.5 L203.8,784.3 L198.8,781.7 L204.9,781.5 L205.6,778.1 L208.0,779.9 L209.8,774.6 L211.1,780.9 L215.5,778.2 L213.4,782.4 L218.4,783.5 L214.2,785.1 L215.4,788.1 L212.7,788.2 L211.0,790.3 L209.4,788.0 L204.9,791.6 L205.8,787.3Z M217.3,784.7 L222.6,784.4 L220.6,780.5 L224.3,782.3 L223.4,775.4 L226.8,780.1 L229.0,777.2 L228.8,782.2 L233.5,779.1 L230.5,784.0 L237.9,784.5 L233.0,786.5 L236.6,790.6 L231.9,790.6 L233.9,795.8 L228.6,792.3 L226.7,799.0 L226.1,791.3 L221.6,795.8 L223.0,790.3 L219.5,790.2 L222.3,787.5Z M240.2,792.4 L242.4,790.5 L242.3,787.4 L245.1,788.1 L246.7,786.0 L247.0,790.0 L250.4,792.6 L247.6,793.6 L246.9,798.3 L245.1,795.4 L242.5,799.7 L243.0,794.1Z M136.8,799.4 L138.2,797.6 L134.4,796.3 L138.4,794.1 L133.8,790.4 L139.6,791.4 L139.0,785.5 L143.3,790.9 L144.8,785.0 L145.8,790.7 L149.7,787.6 L148.7,792.5 L153.3,791.6 L150.5,794.5 L155.1,797.0 L148.9,798.1 L151.2,802.6 L146.9,799.6 L147.0,805.0 L143.6,800.6 L140.9,803.7 L140.0,799.5Z M164.3,801.0 L167.5,804.5 L169.7,800.3 L169.7,804.7 L173.5,802.4 L172.6,806.5 L178.1,807.2 L172.3,809.4 L175.8,813.6 L170.8,811.8 L171.9,818.3 L169.1,814.8 L167.1,817.2 L166.2,812.5 L163.1,815.2 L164.0,811.1 L158.2,809.9 L163.9,807.7 L161.5,805.0 L164.8,805.4Z M185.9,820.0 L185.3,814.4 L177.1,816.4 L184.5,810.6 L174.8,808.6 L184.9,806.9 L177.5,801.0 L188.2,804.0 L187.9,798.8 L192.0,801.7 L194.2,798.0 L196.6,802.7 L201.6,801.1 L201.2,805.2 L209.9,806.2 L200.0,808.9 L208.4,814.2 L200.2,813.8 L201.6,817.9 L195.4,816.0 L192.8,823.2 L190.4,816.7Z M197.8,811.9 L197.9,815.2 L201.9,814.8 L200.2,818.6 L204.4,821.8 L199.8,821.8 L198.8,825.9 L196.2,823.5 L193.3,826.7 L191.9,822.8 L189.5,822.6 L190.5,819.8 L186.9,816.6 L191.2,816.7 L191.0,811.5 L194.7,815.8Z M216.1,816.6 L213.1,814.0 L211.4,816.0 L210.1,813.1 L205.3,812.5 L210.2,809.7 L205.3,806.9 L211.1,807.5 L210.2,803.5 L213.1,805.9 L214.7,801.0 L216.6,805.0 L220.5,802.4 L217.2,808.1 L222.0,808.7 L217.6,810.7 L220.7,814.1 L216.5,813.9Z M172.4,825.8 L163.7,826.4 L171.8,834.4 L161.5,831.1 L160.3,838.7 L154.8,830.6 L149.2,839.5 L149.9,828.7 L142.6,832.2 L146.1,826.1 L138.1,823.6 L143.8,821.0 L137.7,814.3 L149.6,817.6 L143.7,806.7 L153.1,815.3 L155.4,806.3 L158.9,813.9 L163.8,811.1 L163.7,815.9 L175.0,815.2 L167.4,821.7Z M216.4,817.6 L220.3,821.2 L222.4,817.0 L223.3,820.9 L229.4,817.6 L225.2,823.4 L230.0,823.7 L226.0,825.2 L232.7,828.5 L226.3,828.2 L227.3,832.5 L222.9,829.9 L221.7,832.3 L220.2,829.5 L215.2,833.3 L216.5,829.0 L211.2,829.7 L216.3,826.5 L209.7,825.6 L214.9,823.5 L210.2,820.3 L217.8,822.4Z M255.3,813.0 L249.0,819.8 L257.0,828.6 L249.5,828.7 L252.3,841.2 L245.0,829.1 L244.5,840.9 L241.4,833.9 L237.2,844.6 L238.6,828.2 L231.4,833.0 L234.3,824.9 L230.0,821.2 L236.5,818.5 L230.8,807.6 L238.1,812.4 L236.4,802.6 L241.3,809.7 L243.8,801.3 L246.0,807.5 L251.4,800.8 L247.1,814.8Z M203.4,815.2 L206.2,816.5 L208.7,816.0 L207.8,819.1 L209.6,821.7 L207.1,822.1 L205.7,823.3 L204.2,821.5 L200.1,820.6 L203.1,818.1Z M190.4,825.0 L192.4,829.3 L195.7,830.0 L192.4,832.2 L194.2,835.8 L190.7,834.3 L188.1,835.8 L186.5,833.1 L182.8,833.3 L185.6,830.5 L184.4,828.2 L188.7,828.8Z M197.6,827.9 L199.6,829.1 L203.1,828.4 L202.3,830.7 L204.3,832.2 L201.7,833.5 L199.2,835.2 L198.7,833.1 L194.7,832.3 L197.2,830.5Z M140.6,757.2 L140.4,754.6 L140.1,752.4 L141.7,752.4 L143.4,751.3 L143.1,754.2 L144.2,757.6 L142.0,756.6Z M209.5,794.6 L211.5,793.6 L211.5,789.6 L214.4,792.3 L216.9,792.4 L215.9,795.5 L217.3,798.6 L213.6,797.8 L212.1,800.1 L211.3,797.2Z M177.0,773.1 L174.6,774.7 L173.1,776.5 L172.0,775.5 L168.7,775.3 L170.7,773.5 L172.4,771.8 L173.7,773.2Z" fill="#000"/></g>
<path d="M234.5,832.9 L235.4,832.5 L235.9,831.7 L236.3,832.9 L237.1,833.7 L236.0,833.7 L235.4,834.8 L235.1,833.3Z M225.9,747.5 L225.3,747.5 L224.8,747.8 L224.4,747.3 L224.0,746.6 L224.7,746.7 L225.5,746.3 L225.7,747.0Z M226.2,831.5 L226.8,832.6 L227.6,832.8 L227.1,833.6 L227.2,834.9 L226.1,834.1 L225.4,833.7 L226.1,832.9Z M167.9,803.6 L167.4,803.9 L166.7,804.3 L166.4,803.9 L165.7,803.7 L166.3,803.4 L167.1,802.8 L167.3,803.4Z M206.2,748.5 L204.8,747.5 L203.0,747.2 L204.1,746.4 L204.1,744.6 L205.3,745.6 L207.1,746.0 L205.9,747.1Z M153.4,797.5 L152.7,797.2 L151.9,797.1 L152.3,796.4 L152.1,795.3 L153.1,796.1 L154.0,796.4 L153.4,796.9Z M155.0,807.6 L155.1,809.1 L155.5,810.2 L154.4,810.5 L153.3,811.2 L153.3,809.5 L152.9,808.7 L154.1,808.3Z M174.8,824.6 L174.0,823.6 L172.8,823.8 L173.0,822.8 L172.7,821.4 L174.1,821.9 L175.5,821.8 L174.8,823.1Z M191.9,828.8 L192.9,830.2 L194.7,830.5 L193.5,832.0 L192.9,834.5 L191.6,832.3 L190.8,832.2 L191.3,830.6Z M221.3,760.1 L219.8,759.9 L218.5,760.0 L218.7,758.8 L217.6,757.5 L219.5,757.5 L220.5,757.1 L220.8,758.4Z M199.5,768.6 L200.4,769.8 L201.6,770.2 L200.6,770.9 L200.3,772.0 L199.3,771.2 L198.2,770.8 L198.9,769.8Z M219.7,747.6 L220.2,748.8 L221.0,749.9 L219.7,750.5 L218.9,751.0 L218.7,750.0 L217.6,749.2 L218.8,748.6Z M191.5,768.3 L190.9,767.1 L190.2,766.4 L191.3,765.8 L192.2,765.3 L192.9,766.4 L193.5,767.4 L192.5,767.5Z M194.4,834.0 L194.6,835.3 L195.0,836.0 L194.3,836.2 L193.5,837.0 L193.4,836.2 L192.5,834.9 L193.7,835.1Z M158.1,811.9 L156.0,811.5 L154.8,812.0 L154.8,810.1 L154.0,808.3 L155.9,808.9 L157.3,808.7 L157.3,809.8Z M140.8,828.2 L141.9,828.5 L143.3,828.6 L143.0,829.1 L142.8,830.2 L141.6,829.6 L140.6,829.7 L141.1,829.0Z M164.2,789.2 L163.1,788.3 L162.3,787.7 L163.1,786.8 L163.8,785.4 L164.2,786.8 L165.2,787.4 L164.4,788.0Z M181.8,820.1 L180.8,820.0 L179.9,820.1 L180.1,819.5 L179.6,818.7 L180.9,819.0 L182.0,818.7 L181.4,819.4Z M173.4,830.3 L174.1,829.6 L175.1,827.9 L176.1,828.8 L177.9,829.1 L176.8,830.5 L176.8,832.0 L175.1,830.9Z M171.9,774.0 L170.6,774.2 L169.6,774.5 L169.4,773.4 L168.2,772.0 L170.0,772.4 L171.6,771.7 L171.1,773.1Z M179.9,834.5 L179.5,833.6 L178.9,833.0 L179.6,832.8 L180.0,832.3 L181.1,832.8 L181.8,833.4 L181.0,833.7Z M181.1,776.0 L181.2,775.0 L181.1,774.2 L181.8,774.4 L182.6,774.5 L182.4,775.0 L182.7,775.7 L181.9,775.6Z M165.5,802.6 L167.2,802.4 L169.0,801.6 L168.7,803.8 L169.4,805.7 L167.2,805.0 L165.8,805.4 L166.1,803.9Z M174.7,753.0 L174.9,754.5 L176.3,756.4 L174.4,756.0 L173.0,757.3 L172.7,754.8 L171.5,753.8 L173.3,753.6Z M190.6,798.7 L188.7,799.9 L188.2,801.4 L186.8,799.9 L184.7,799.6 L186.7,798.7 L187.4,797.4 L188.4,798.4Z M225.5,772.5 L224.7,772.5 L223.7,773.1 L223.5,771.7 L223.1,770.6 L224.1,770.4 L225.3,769.4 L225.1,771.1Z M192.1,772.8 L194.0,772.5 L194.9,771.5 L195.6,772.7 L196.1,773.5 L195.2,773.8 L193.7,775.0 L193.6,773.4Z M157.5,812.0 L159.4,812.6 L161.0,812.7 L160.2,813.9 L160.2,815.4 L159.0,814.9 L157.9,814.9 L158.1,813.5Z M203.9,759.1 L205.9,758.8 L207.1,758.3 L207.0,760.1 L208.3,761.8 L206.2,761.4 L204.3,762.9 L204.6,760.5Z M155.4,799.0 L157.1,799.1 L158.8,798.8 L158.5,799.4 L158.6,800.4 L157.6,800.4 L156.1,800.9 L156.3,799.7Z" fill="#33208a" filter="url(#ms)"/>
<path d="M240.6,783.5h0M176.2,830.5h0M168.0,837.8h0M238.3,780.2h0M232.5,831.6h0M196.8,774.1h0M214.7,752.3h0M233.5,799.0h0M200.6,803.6h0M184.4,766.4h0M226.0,764.2h0M149.6,745.0h0M182.7,818.0h0M152.5,798.1h0M152.9,777.9h0M149.3,765.0h0M228.8,807.9h0M239.0,817.4h0M141.7,794.5h0M185.0,787.7h0M191.2,770.2h0M237.6,747.2h0M214.0,793.6h0M186.2,785.0h0M218.2,806.4h0M201.1,837.6h0M200.1,763.0h0M175.8,826.7h0M240.7,817.3h0M223.1,809.8h0M148.2,769.1h0M215.1,772.0h0M222.3,810.2h0M229.3,775.1h0M205.9,800.0h0M169.7,832.0h0M221.4,757.6h0M219.1,826.2h0M153.6,808.8h0M158.6,818.5h0M230.9,789.6h0M192.1,792.6h0M204.1,758.2h0M192.8,833.0h0M182.2,756.6h0M239.4,837.4h0M181.5,778.3h0M169.8,794.0h0M185.9,816.0h0M174.5,770.1h0M199.2,835.9h0M157.3,795.9h0M141.5,778.0h0M188.9,758.9h0M154.0,765.4h0M209.0,818.5h0M199.4,759.2h0M152.4,756.6h0M208.9,760.0h0M163.6,776.1h0M180.3,772.7h0M211.1,777.0h0M152.7,781.8h0M151.5,797.5h0M153.0,780.8h0M183.3,815.4h0M230.9,824.8h0M242.1,766.7h0M176.8,754.6h0M149.3,758.6h0M165.3,751.7h0M232.4,754.8h0M159.6,770.9h0M182.1,767.2h0M155.5,837.6h0M230.7,830.7h0M200.1,783.6h0M168.7,761.8h0M244.8,790.7h0M233.7,820.8h0M210.8,779.2h0M216.6,766.3h0M219.7,761.1h0M180.3,815.6h0M182.5,786.0h0M170.0,787.4h0M216.4,748.2h0M152.7,761.1h0M175.2,800.9h0M199.4,781.0h0M235.6,749.4h0M207.6,819.0h0M159.8,781.5h0M188.9,772.0h0M214.0,835.6h0M144.5,791.3h0M208.4,834.1h0M196.1,776.6h0M177.7,804.4h0M190.1,762.3h0M203.0,773.5h0M146.4,831.6h0M160.0,773.2h0M220.7,786.4h0" stroke="#3a2838" stroke-width="1.1" stroke-linecap="round" fill="none" opacity="0.85" filter="url(#ms)"/>
<path d="M211.0,803.9h0M155.9,761.3h0M218.6,758.4h0M179.0,767.8h0M191.2,774.6h0M192.7,791.2h0M225.4,764.9h0M160.1,833.0h0M148.0,793.9h0M158.8,773.8h0M163.4,763.6h0M222.3,754.5h0M166.2,807.0h0M166.8,835.0h0M146.4,817.0h0M172.2,821.8h0M203.3,762.6h0M214.5,763.8h0M227.5,825.7h0M189.3,816.1h0M232.7,764.6h0M194.5,818.1h0M169.1,812.8h0M205.9,825.2h0M157.0,835.4h0M152.5,822.3h0M152.9,752.8h0M219.2,776.3h0M236.5,783.6h0M143.0,824.0h0M216.3,759.2h0M207.9,797.1h0M205.3,758.1h0M198.8,768.6h0M180.6,825.1h0M151.6,817.1h0M169.2,756.6h0M153.7,825.2h0M155.9,764.0h0M154.9,826.2h0M209.2,824.4h0M140.6,833.6h0M244.1,835.0h0M140.7,773.8h0M234.8,770.3h0M220.5,742.2h0M213.6,785.1h0M188.6,763.2h0M243.1,837.4h0M160.5,742.2h0M244.6,760.0h0M180.0,776.2h0M196.5,816.8h0M216.7,791.6h0M226.9,743.2h0M149.5,767.7h0M146.4,761.7h0M142.9,744.6h0M236.5,777.9h0M233.6,834.4h0M225.0,802.5h0M227.5,802.8h0M188.0,780.6h0M165.7,770.7h0M153.3,775.8h0M177.2,817.4h0M217.7,787.8h0M188.6,829.1h0M139.5,819.7h0M159.1,821.5h0M197.8,786.2h0M161.8,831.7h0M145.0,798.7h0M175.2,832.3h0M233.8,750.5h0M170.7,830.7h0M211.2,782.5h0M167.1,756.6h0M197.9,765.5h0M154.1,746.4h0M202.0,809.7h0M159.1,774.7h0M222.3,766.2h0M144.8,785.8h0M243.2,835.5h0" stroke="#3a2838" stroke-width="1.6" stroke-linecap="round" fill="none" opacity="0.85" filter="url(#ms)"/>
</g>
<clipPath id="mc3"><rect x="251.0" y="742.0" width="108.2" height="96.2"/></clipPath>
<g clip-path="url(#mc3)">
<rect x="251.0" y="742.0" width="108.2" height="96.2" fill="#f6e3cc" filter="url(#mg)"/>
<g filter="url(#mb)"><rect x="248.0" y="739.0" width="114.2" height="102.2" fill="none"/><path d="M308.0,757.6 L305.7,753.7 L299.5,759.1 L301.2,753.8 L295.2,753.5 L300.1,750.2 L291.5,748.4 L299.3,747.0 L299.5,744.1 L303.2,745.2 L304.3,741.2 L307.3,744.4 L311.9,738.3 L310.8,745.5 L317.2,743.1 L314.0,747.2 L323.3,747.8 L315.7,750.2 L320.0,753.5 L314.6,753.1 L313.6,755.6 L309.8,754.1Z M316.4,763.0 L314.3,761.2 L312.1,763.3 L312.4,759.5 L307.1,759.4 L310.3,756.9 L307.0,753.5 L312.4,754.5 L312.7,751.2 L315.7,753.3 L319.5,751.1 L317.8,755.1 L322.4,755.0 L319.3,758.0 L320.8,760.6 L317.7,760.5Z M325.1,750.4 L323.8,748.9 L320.0,749.3 L321.9,746.0 L321.2,743.2 L323.9,743.5 L326.7,741.0 L326.7,744.6 L328.4,747.2 L326.8,748.4Z M344.1,739.5 L346.5,742.8 L350.6,740.9 L348.8,744.5 L353.1,745.3 L349.0,747.2 L348.9,751.6 L345.9,749.3 L343.4,751.0 L342.3,748.1 L338.2,747.6 L340.8,745.4 L338.5,742.6 L343.0,743.5Z M344.1,757.9 L342.7,761.7 L346.0,762.9 L344.5,765.0 L345.6,767.7 L340.9,767.7 L344.5,772.7 L338.7,769.2 L337.6,773.9 L335.3,771.3 L332.7,772.0 L332.6,768.8 L325.4,770.5 L330.6,766.8 L323.0,764.6 L330.5,763.4 L328.7,760.2 L332.9,760.7 L333.0,757.4 L336.1,760.1 L338.5,753.7 L339.8,760.6Z M360.0,772.3 L357.3,772.0 L357.1,777.2 L354.3,773.2 L350.7,777.6 L351.2,772.8 L347.0,772.5 L350.8,769.5 L347.1,766.9 L350.9,766.4 L349.1,763.2 L352.9,764.8 L353.6,758.6 L355.2,764.9 L359.1,760.1 L357.1,766.2 L363.1,766.3 L357.8,768.8Z M268.6,766.1 L266.0,763.6 L262.4,764.7 L263.9,760.9 L260.7,759.1 L264.2,758.2 L264.0,755.5 L266.4,757.2 L269.4,755.1 L268.4,758.6 L271.5,761.2 L268.8,761.6Z M255.1,746.1 L256.3,749.5 L257.7,750.4 L255.7,752.2 L254.5,755.2 L253.3,752.2 L252.0,750.1 L253.8,749.1Z M280.0,768.2 L282.3,769.5 L284.9,770.2 L281.8,771.6 L280.3,772.5 L278.7,771.5 L276.9,769.9 L278.7,769.6Z M299.9,775.3 L297.3,777.9 L297.0,780.5 L294.4,779.0 L290.9,780.5 L290.9,778.0 L289.0,776.8 L292.1,776.0 L294.0,773.0 L295.2,775.4Z M319.4,773.3 L318.2,774.9 L316.8,776.1 L316.4,774.4 L315.0,773.1 L316.5,772.1 L317.5,769.9 L318.3,772.6Z M339.4,777.8 L340.7,779.2 L342.6,779.4 L340.8,781.3 L340.0,783.1 L339.2,781.7 L337.7,780.9 L338.6,779.2Z M333.6,795.5 L331.2,794.2 L328.6,793.3 L330.4,791.8 L331.1,791.0 L333.3,791.7 L336.7,792.2 L333.9,793.9Z M352.8,807.5 L351.2,803.1 L348.4,802.3 L350.6,799.8 L347.6,797.7 L351.2,797.1 L352.0,794.0 L353.5,795.7 L357.2,793.9 L355.8,798.0 L358.7,799.5 L356.2,801.3 L357.8,805.4 L354.4,802.6Z M248.1,804.6 L253.9,804.4 L253.6,802.4 L256.5,803.9 L260.7,801.9 L260.7,804.8 L264.1,806.6 L259.1,807.4 L259.3,809.3 L255.9,807.6 L251.3,809.3 L253.5,806.5Z M319.8,812.8 L317.5,813.4 L316.3,815.7 L314.7,812.3 L310.3,814.2 L313.1,810.8 L311.4,808.2 L313.0,807.0 L313.9,804.2 L316.0,805.8 L318.0,804.3 L317.8,806.9 L320.8,808.6 L319.3,810.8Z M339.9,814.6 L345.7,812.2 L341.3,808.7 L347.1,808.9 L345.6,803.3 L350.6,808.7 L352.4,804.5 L354.2,807.4 L358.6,805.7 L355.4,810.7 L362.3,810.2 L355.8,813.2 L360.3,817.2 L356.1,816.3 L355.9,821.6 L352.2,816.3 L350.5,822.7 L349.4,816.7 L344.9,819.1 L347.5,814.6Z M330.5,820.1 L334.4,818.8 L333.2,815.2 L336.9,817.3 L341.7,815.4 L340.6,818.9 L342.3,821.0 L340.4,821.6 L339.8,824.6 L336.6,822.4 L333.1,824.2 L333.9,820.8Z M305.2,835.8 L296.1,832.1 L296.8,840.4 L292.6,832.8 L288.6,838.6 L288.0,833.0 L280.8,837.4 L284.1,830.5 L276.1,830.7 L285.1,827.4 L277.4,823.3 L285.7,823.7 L281.8,818.4 L288.7,822.4 L291.5,816.5 L293.5,820.0 L298.6,815.8 L298.6,822.4 L304.0,821.5 L297.7,826.4 L304.3,827.8 L300.1,829.6Z M311.4,816.2 L315.6,820.8 L318.0,818.0 L317.6,823.3 L324.9,821.1 L321.1,824.9 L324.3,825.7 L321.1,827.6 L324.8,830.2 L318.6,829.9 L320.7,834.9 L316.5,832.2 L314.8,838.6 L312.9,831.6 L307.1,835.5 L310.0,829.8 L304.4,831.0 L308.8,827.3 L303.3,825.7 L310.3,825.2 L307.4,820.8 L311.5,821.3Z M278.6,812.9 L279.9,814.4 L280.9,815.6 L280.2,816.8 L278.9,818.6 L277.9,816.4 L276.2,815.6 L277.9,814.5Z M324.0,810.5 L324.4,812.7 L326.5,813.1 L324.0,814.2 L323.1,815.9 L322.4,814.0 L320.1,813.0 L322.4,812.4Z M265.5,798.8 L264.9,797.3 L263.9,795.7 L265.4,795.7 L267.2,795.1 L267.5,796.3 L268.8,797.3 L266.7,797.7Z" fill="#000"/></g>
<path d="M313.8,836.2 L313.0,836.9 L312.4,837.4 L311.9,836.8 L310.9,836.6 L311.9,836.1 L312.7,835.1 L313.1,836.0Z M255.3,775.3 L253.5,776.2 L252.8,777.8 L251.8,776.5 L250.7,775.6 L252.0,774.1 L252.5,773.1 L253.4,774.5Z M250.7,746.3 L251.6,746.3 L252.4,746.1 L252.5,746.7 L252.9,747.4 L251.8,747.2 L251.1,747.5 L251.0,746.8Z M305.6,805.9 L304.2,806.3 L303.1,807.2 L302.6,806.3 L301.6,805.2 L303.0,805.1 L304.3,804.5 L304.6,805.1Z M329.9,787.6 L330.5,787.2 L330.7,786.7 L331.3,787.1 L331.9,787.5 L331.3,787.8 L331.3,788.4 L330.4,787.9Z M303.1,832.2 L304.5,833.4 L305.9,833.3 L305.5,834.7 L306.6,836.6 L304.3,835.9 L302.3,835.7 L303.0,834.2Z M264.1,832.5 L264.6,831.2 L265.0,828.7 L266.5,830.1 L267.8,830.5 L266.9,832.3 L266.6,834.8 L265.6,833.1Z M262.7,787.5 L262.2,788.4 L262.1,789.3 L261.0,788.5 L260.1,788.7 L260.8,787.7 L260.9,786.7 L261.8,787.4Z M296.6,784.1 L297.3,782.4 L297.3,781.0 L298.5,781.7 L300.2,781.3 L299.7,782.7 L299.9,784.6 L298.5,783.6Z M321.6,832.2 L320.7,831.4 L319.5,831.5 L320.1,830.7 L320.3,829.9 L320.9,830.2 L321.9,829.8 L321.7,830.9Z M339.1,787.3 L338.3,785.2 L336.7,784.8 L338.7,783.7 L339.2,781.8 L340.5,783.9 L341.6,784.7 L340.3,785.5Z M273.4,764.9 L274.5,764.7 L275.2,764.2 L275.4,764.9 L276.1,765.4 L275.2,765.4 L274.6,765.7 L274.2,765.4Z M305.7,763.6 L306.2,765.7 L307.0,767.1 L305.7,767.3 L304.0,768.4 L304.1,766.7 L303.1,765.3 L304.4,764.8Z M333.7,816.8 L334.7,814.9 L334.1,813.0 L335.8,814.1 L337.1,813.2 L336.5,815.3 L336.3,816.9 L335.2,816.2Z M296.0,760.6 L295.1,761.0 L294.3,762.2 L293.5,761.2 L292.2,760.9 L293.6,760.2 L294.3,758.9 L295.0,760.2Z M309.9,788.2 L308.7,788.2 L307.6,788.5 L307.7,787.7 L306.8,786.5 L308.2,786.8 L309.5,786.5 L309.3,787.5Z M322.5,788.7 L321.7,787.3 L319.6,786.7 L321.5,786.0 L322.3,785.1 L323.2,786.3 L324.4,786.8 L322.9,787.2Z M260.9,747.7 L260.8,748.6 L261.4,750.1 L260.1,749.9 L258.7,750.3 L258.8,748.8 L258.0,747.9 L259.5,747.9Z M290.5,806.8 L288.6,805.8 L287.5,805.7 L288.2,804.6 L288.2,803.7 L289.6,804.4 L290.9,804.6 L290.3,805.3Z M322.8,807.4 L321.8,806.0 L319.7,805.1 L321.6,804.8 L323.1,803.6 L323.5,804.8 L325.2,805.8 L323.4,806.2Z M264.9,744.9 L264.1,743.3 L263.1,742.6 L264.0,741.5 L264.7,740.5 L265.7,741.6 L266.6,742.3 L265.7,742.9Z M315.2,766.5 L316.6,768.3 L318.1,769.4 L316.5,770.3 L315.1,771.4 L314.5,770.1 L312.4,768.6 L314.6,767.9Z M286.8,807.0 L288.7,807.4 L290.1,806.7 L290.5,808.0 L291.2,809.2 L289.5,809.2 L288.1,810.4 L288.1,808.9Z M304.5,763.2 L304.4,764.3 L304.5,764.9 L303.6,765.0 L303.0,765.4 L302.9,764.5 L302.6,764.0 L303.5,763.8Z M331.6,767.5 L330.9,766.8 L329.1,766.6 L330.7,765.7 L331.3,765.1 L331.9,765.6 L333.5,766.3 L332.2,766.7Z M340.2,822.7 L342.3,822.5 L343.5,822.1 L343.5,823.2 L344.4,824.0 L342.5,824.1 L340.8,824.5 L341.3,823.4Z M297.4,770.2 L296.9,771.0 L297.4,771.6 L296.3,771.5 L294.8,771.8 L295.5,771.1 L295.3,770.3 L296.2,770.3Z M288.8,776.0 L290.4,775.0 L291.9,772.9 L292.2,775.4 L293.8,776.2 L292.3,777.0 L291.0,779.2 L290.7,777.1Z M354.0,752.4 L354.5,753.1 L354.9,753.4 L354.5,753.7 L353.4,754.2 L353.3,753.6 L352.6,753.1 L353.7,753.0Z M336.6,813.3 L337.5,813.3 L338.4,813.2 L338.2,813.7 L338.5,814.4 L337.3,814.1 L336.3,814.1 L336.9,813.8Z M303.8,809.0 L303.1,809.3 L302.5,809.8 L301.9,809.1 L301.1,808.0 L302.1,807.7 L302.9,806.7 L303.2,808.2Z M266.6,834.5 L268.7,836.1 L269.9,836.4 L269.1,838.4 L269.5,840.7 L267.2,839.5 L265.3,838.5 L266.9,837.1Z M267.6,765.1 L267.8,763.7 L267.2,762.7 L268.2,762.7 L268.7,761.6 L269.1,763.0 L269.6,763.9 L268.6,764.2Z M350.0,834.2 L352.4,834.8 L354.2,834.4 L353.8,835.8 L354.0,837.5 L352.1,836.8 L350.2,836.9 L351.1,835.9Z M310.9,807.1 L312.7,807.9 L314.1,806.7 L314.3,808.8 L314.7,810.1 L313.3,809.8 L311.9,811.4 L311.6,809.0Z M351.3,771.8 L352.2,773.0 L353.6,773.6 L352.7,774.2 L351.9,775.2 L351.1,774.5 L349.8,773.7 L350.8,773.1Z M258.4,785.0 L256.9,786.1 L255.7,787.0 L255.2,785.3 L253.4,784.1 L255.6,783.6 L257.3,782.2 L257.5,783.9Z M274.5,803.7 L274.8,805.2 L275.9,806.9 L274.3,806.8 L273.1,807.9 L272.8,805.8 L271.2,804.1 L273.4,804.3Z M325.1,812.6 L323.8,811.6 L322.4,811.3 L323.5,809.6 L324.3,808.6 L325.3,809.8 L326.3,810.0 L325.3,811.0Z M273.6,752.9 L272.1,753.4 L270.3,754.6 L270.5,752.4 L270.3,750.9 L271.3,750.5 L272.4,749.9 L273.1,751.7Z M356.8,792.5 L358.1,792.1 L358.6,791.2 L359.5,792.2 L360.8,793.1 L359.6,793.3 L358.8,794.2 L358.0,793.2Z M324.8,756.4 L323.7,757.5 L323.7,758.7 L322.6,758.0 L320.3,757.7 L321.7,757.0 L321.6,755.5 L323.1,755.9Z" fill="#33208a" filter="url(#ms)"/>
<path d="M343.9,756.9h0M277.4,771.7h0M327.1,746.5h0M351.1,810.7h0M347.2,807.3h0M254.0,764.2h0M301.2,802.1h0M277.4,830.2h0M328.7,824.0h0M336.3,755.9h0M290.9,817.9h0M283.1,814.4h0M325.5,760.9h0M279.4,835.9h0M309.3,777.7h0M284.7,781.7h0M254.8,808.1h0M261.8,772.7h0M282.6,831.6h0M280.6,813.7h0M284.7,816.6h0M354.2,808.5h0M257.6,763.2h0M295.7,789.3h0M316.5,774.1h0M323.0,752.1h0M299.9,795.9h0M304.2,834.2h0M271.3,798.1h0M330.8,748.7h0M267.9,763.3h0M271.3,822.2h0M312.4,752.6h0M313.6,792.9h0M336.3,835.9h0M280.3,821.9h0M273.4,831.0h0M325.2,816.4h0M315.9,773.8h0M336.8,828.6h0M354.7,747.7h0M331.1,753.3h0M269.5,836.7h0M279.0,794.5h0M348.3,785.9h0M341.1,811.1h0M277.5,827.3h0M322.4,816.0h0M275.3,830.3h0M332.3,827.9h0M323.7,767.3h0M283.9,754.3h0M289.0,757.8h0M336.9,793.0h0M345.4,793.5h0M301.5,750.5h0M279.8,826.6h0M274.7,799.0h0M325.6,746.5h0M285.4,777.8h0M349.6,811.8h0M320.1,811.8h0M292.8,773.6h0M286.6,824.6h0M351.7,750.6h0M343.5,796.2h0M266.9,790.2h0M266.3,765.5h0M293.6,747.1h0M358.3,744.8h0M305.5,790.4h0M277.9,783.4h0M355.0,831.7h0M328.5,825.5h0M287.8,760.1h0M253.6,745.5h0M310.7,750.7h0M306.6,831.5h0M356.0,807.0h0M325.0,820.7h0M349.3,747.3h0M337.8,767.4h0M261.9,766.2h0M328.2,827.8h0M284.9,776.3h0M254.1,822.6h0M297.0,752.4h0M261.2,788.5h0M287.9,777.6h0M277.3,822.7h0M356.9,802.7h0M347.8,742.6h0M280.6,788.2h0M354.6,825.2h0M256.3,743.2h0M267.4,788.2h0M312.4,835.0h0M261.0,762.3h0M326.1,778.8h0M273.8,783.5h0M262.4,756.7h0M354.8,817.0h0M272.9,814.8h0M313.7,789.2h0M285.3,781.6h0M287.5,800.6h0M343.5,744.4h0M332.6,824.6h0M274.0,742.2h0M287.0,803.0h0M347.9,812.8h0M306.7,806.4h0M343.0,792.7h0M256.4,803.0h0M324.5,789.4h0M318.9,764.3h0M357.6,835.0h0M359.1,746.6h0M302.9,759.7h0M268.6,832.7h0M264.3,759.7h0M257.2,773.2h0M251.3,779.2h0M328.5,794.2h0M267.1,787.2h0M302.5,825.3h0M307.1,790.7h0M358.4,835.1h0M312.5,770.4h0M275.1,822.1h0M329.7,759.7h0M298.7,776.4h0M285.3,779.6h0M294.1,822.9h0M314.5,749.0h0M333.5,763.5h0M255.9,833.4h0M256.8,795.9h0M321.3,788.5h0M327.4,791.1h0M320.4,758.0h0M274.3,802.5h0M255.8,745.8h0" stroke="#3a2838" stroke-width="1.1" stroke-linecap="round" fill="none" opacity="0.85" filter="url(#ms)"/>
<path d="M321.6,761.3h0M340.6,827.3h0M332.1,816.4h0M351.5,815.5h0M267.6,780.9h0M353.1,784.6h0M279.2,785.7h0M316.2,801.6h0M337.2,810.5h0M315.0,805.9h0M292.2,820.5h0M344.9,799.5h0M313.5,745.3h0M345.7,742.8h0M315.3,744.8h0M352.5,827.0h0M343.2,760.1h0M344.1,791.0h0M306.8,824.0h0M333.1,744.0h0M315.8,836.5h0M352.6,781.1h0M336.1,797.0h0M357.9,823.5h0M287.9,802.4h0M358.6,829.9h0M354.3,808.3h0M333.6,824.1h0M290.1,831.1h0M307.4,764.6h0M269.0,759.5h0M269.3,816.5h0M332.6,802.3h0M290.4,814.5h0M300.4,782.5h0M283.0,809.7h0M334.2,789.1h0M294.7,777.8h0M326.5,816.6h0M287.2,800.7h0M340.7,799.8h0M299.9,797.4h0M326.5,816.5h0M275.7,769.4h0M305.2,779.6h0M291.5,836.3h0M269.4,786.4h0M350.8,793.7h0M310.4,762.3h0M314.5,766.8h0M339.0,803.3h0M262.8,759.3h0M252.4,826.7h0M260.4,796.7h0M293.8,759.1h0M273.8,815.5h0M353.9,816.6h0M314.7,823.6h0M271.8,764.5h0M303.9,811.9h0M344.1,780.7h0M331.8,789.1h0M319.1,771.4h0M309.8,800.4h0M349.6,776.1h0M257.8,821.6h0M317.1,800.0h0M311.7,744.7h0M332.3,823.7h0M307.5,764.6h0M336.0,809.9h0M358.1,824.8h0M262.9,783.5h0M271.9,830.9h0M297.6,766.8h0M349.3,770.6h0M351.3,825.4h0M339.3,768.7h0M292.7,754.3h0M272.8,838.0h0M301.8,780.4h0M311.8,828.3h0M278.3,820.7h0M315.5,771.7h0M271.9,819.2h0M350.5,783.3h0M310.6,792.0h0M254.0,807.3h0M341.5,814.9h0M265.1,749.0h0M352.2,829.8h0M282.0,762.6h0M282.4,814.3h0M318.9,800.8h0M287.0,808.2h0M318.9,834.7h0M306.1,764.5h0M300.0,780.3h0M280.5,789.3h0M321.0,748.1h0M261.3,790.4h0M353.4,772.4h0M359.1,793.5h0M317.0,836.4h0M283.1,815.7h0M312.9,773.0h0M317.3,750.9h0M278.1,819.5h0M284.5,775.4h0M321.0,825.0h0M263.7,821.2h0M316.0,812.7h0M346.1,791.7h0M289.7,767.0h0M274.5,818.2h0M323.4,769.4h0M272.5,829.1h0" stroke="#3a2838" stroke-width="1.6" stroke-linecap="round" fill="none" opacity="0.85" filter="url(#ms)"/>
</g>
<g opacity="0.999">
<defs>
<radialGradient id="fg"><stop offset="0" stop-color="#ff1212" stop-opacity="1"/><stop offset="0.62" stop-color="#ff1616" stop-opacity="0.97"/><stop offset="0.82" stop-color="#ff2a2a" stop-opacity="0.55"/><stop offset="1" stop-color="#ff4040" stop-opacity="0"/></radialGradient>
<radialGradient id="fu"><stop offset="0" stop-color="#f03030" stop-opacity="0.55"/><stop offset="1" stop-color="#f04040" stop-opacity="0"/></radialGradient>
<filter id="fb" x="-10%" y="-10%" width="120%" height="120%"><feGaussianBlur stdDeviation="0.3"/></filter>
</defs>
<clipPath id="fc0"><rect x="148.5" y="923.5" width="91.0" height="91.0"/></clipPath>
<path d="M148.5,923.5V1014.5H239.5" fill="none" stroke="#b4b4b4" stroke-width="0.7"/>
<path d="M148.5,923.5H239.5V1014.5" fill="none" stroke="#888888" stroke-width="0.8"/>
<line x1="197.5" y1="923.5" x2="197.5" y2="1014.5" stroke="#a8a8a8" stroke-width="0.9"/>
<line x1="148.5" y1="979.5" x2="239.5" y2="979.5" stroke="#808080" stroke-width="0.9"/>
<path d="M146.3,1011.5h2.2M152.5,1014.5v2.2M147.4,1005.3h1.1M158.9,1014.5v1.1M147.4,1001.5h1.1M162.7,1014.5v1.1M147.4,999.0h1.1M165.2,1014.5v1.1M147.4,997.0h1.1M167.4,1014.5v1.1M147.4,995.3h1.1M169.1,1014.5v1.1M147.4,993.9h1.1M170.6,1014.5v1.1M147.4,992.8h1.1M171.6,1014.5v1.1M147.4,991.8h1.1M172.7,1014.5v1.1M146.3,990.8h2.2M173.8,1014.5v2.2M147.4,984.5h1.1M180.1,1014.5v1.1M147.4,980.8h1.1M183.9,1014.5v1.1M147.4,978.3h1.1M186.5,1014.5v1.1M147.4,976.2h1.1M188.6,1014.5v1.1M147.4,974.6h1.1M190.3,1014.5v1.1M147.4,973.1h1.1M191.8,1014.5v1.1M147.4,972.1h1.1M192.9,1014.5v1.1M147.4,971.0h1.1M193.9,1014.5v1.1M146.3,970.0h2.2M195.0,1014.5v2.2M147.4,963.8h1.1M201.4,1014.5v1.1M147.4,960.0h1.1M205.2,1014.5v1.1M147.4,957.5h1.1M207.8,1014.5v1.1M147.4,955.5h1.1M209.9,1014.5v1.1M147.4,953.8h1.1M211.6,1014.5v1.1M147.4,952.4h1.1M213.1,1014.5v1.1M147.4,951.3h1.1M214.1,1014.5v1.1M147.4,950.3h1.1M215.2,1014.5v1.1M146.3,949.2h2.2M216.2,1014.5v2.2M147.4,943.0h1.1M222.6,1014.5v1.1M147.4,939.3h1.1M226.4,1014.5v1.1M147.4,936.8h1.1M229.0,1014.5v1.1M147.4,934.7h1.1M231.1,1014.5v1.1M147.4,933.1h1.1M232.8,1014.5v1.1M147.4,931.6h1.1M234.3,1014.5v1.1M147.4,930.6h1.1M235.4,1014.5v1.1M147.4,929.5h1.1M236.4,1014.5v1.1M146.3,928.5h2.2M237.5,1014.5v2.2" stroke="#999" stroke-width="0.45" fill="none"/>
<text x="144.0" y="1013.1" font-size="5" fill="#555" text-anchor="end" font-family="Liberation Serif, serif">10<tspan dy="-1.6" font-size="3.4">0</tspan></text>
<text x="152.5" y="1022.7" font-size="5" fill="#555" text-anchor="middle" font-family="Liberation Serif, serif">10<tspan dy="-1.6" font-size="3.4">0</tspan></text>
<text x="144.0" y="992.4" font-size="5" fill="#555" text-anchor="end" font-family="Liberation Serif, serif">10<tspan dy="-1.6" font-size="3.4">1</tspan></text>
<text x="173.8" y="1022.7" font-size="5" fill="#555" text-anchor="middle" font-family="Liberation Serif, serif">10<tspan dy="-1.6" font-size="3.4">1</tspan></text>
<text x="144.0" y="971.6" font-size="5" fill="#555" text-anchor="end" font-family="Liberation Serif, serif">10<tspan dy="-1.6" font-size="3.4">2</tspan></text>
<text x="195.0" y="1022.7" font-size="5" fill="#555" text-anchor="middle" font-family="Liberation Serif, serif">10<tspan dy="-1.6" font-size="3.4">2</tspan></text>
<text x="144.0" y="950.9" font-size="5" fill="#555" text-anchor="end" font-family="Liberation Serif, serif">10<tspan dy="-1.6" font-size="3.4">3</tspan></text>
<text x="216.2" y="1022.7" font-size="5" fill="#555" text-anchor="middle" font-family="Liberation Serif, serif">10<tspan dy="-1.6" font-size="3.4">3</tspan></text>
<text x="144.0" y="930.1" font-size="5" fill="#555" text-anchor="end" font-family="Liberation Serif, serif">10<tspan dy="-1.6" font-size="3.4">4</tspan></text>
<text x="237.5" y="1022.7" font-size="5" fill="#555" text-anchor="middle" font-family="Liberation Serif, serif">10<tspan dy="-1.6" font-size="3.4">4</tspan></text>
<text x="191.0" y="1033.8" font-size="5.5" fill="#505050" text-anchor="middle" font-family="Liberation Serif, serif">Annexin V-FITC</text>
<text x="123.5" y="972.0" font-size="4.6" fill="#555" text-anchor="middle" font-family="Liberation Serif, serif">PI</text>
<g clip-path="url(#fc0)">
<ellipse cx="182.8" cy="994.6" rx="10.3" ry="7.4" fill="url(#fg)" transform="rotate(-38 182.8 994.6)"/>
<path d="M169.7,988.1h.7M179.3,996.8h.7M182.0,994.6h.7M189.6,998.6h.7M180.4,994.0h.7M185.4,990.0h.7M192.6,989.4h.7M192.5,988.4h.7M181.5,997.3h.7M190.3,991.5h.7M181.7,1003.0h.7M196.7,993.0h.7M180.3,986.8h.7M182.6,988.2h.7M184.4,994.0h.7M197.1,981.3h.7M176.0,995.8h.7M184.2,995.7h.7M172.4,984.6h.7M205.8,990.9h.7M180.3,997.6h.7M184.1,989.6h.7M200.2,992.5h.7M173.4,999.0h.7M182.7,991.4h.7M190.5,998.4h.7M190.7,990.1h.7M180.6,990.3h.7M180.9,996.9h.7M178.3,996.6h.7M179.3,1001.6h.7M182.0,994.6h.7M185.7,1003.8h.7M188.2,990.8h.7M171.6,994.4h.7M182.3,993.8h.7M173.6,1002.2h.7M178.3,990.5h.7M179.5,996.6h.7M188.5,996.7h.7M183.6,995.4h.7M179.0,1000.5h.7M188.3,1007.3h.7M180.1,997.9h.7M191.5,996.6h.7M193.6,992.1h.7M178.1,995.4h.7M191.1,988.9h.7M184.4,984.7h.7M188.4,997.0h.7M176.7,1009.1h.7M178.6,1001.6h.7M182.8,1006.5h.7M192.8,987.8h.7M187.1,1012.4h.7M178.8,996.5h.7M192.3,997.3h.7M189.1,992.4h.7M193.6,985.2h.7M182.7,1000.7h.7M190.5,996.6h.7M178.1,995.7h.7M174.1,996.9h.7M180.8,989.3h.7M188.4,986.5h.7M182.4,990.0h.7M179.2,989.9h.7M188.1,988.7h.7M184.1,991.6h.7M178.0,989.6h.7M182.1,985.0h.7M176.8,998.0h.7M181.7,998.6h.7M183.1,992.9h.7M190.5,991.2h.7M193.3,986.8h.7M182.7,1004.6h.7M178.0,993.6h.7M180.8,994.0h.7M181.8,996.3h.7M189.7,997.2h.7M191.3,999.0h.7M183.9,999.9h.7M180.4,987.2h.7M194.0,995.1h.7M188.8,996.4h.7M185.8,989.6h.7M180.5,992.6h.7M188.7,997.0h.7M180.1,1001.4h.7M174.9,1001.6h.7M181.4,996.5h.7M170.5,1001.3h.7M178.4,998.7h.7M186.3,996.5h.7M176.8,1003.4h.7M183.8,997.9h.7M182.9,999.5h.7M194.5,991.7h.7M165.7,1004.9h.7M181.6,992.4h.7M188.4,993.0h.7M173.9,1005.6h.7M182.0,999.7h.7M178.3,985.5h.7M181.7,995.8h.7M188.7,991.7h.7M171.3,1000.1h.7M183.3,995.9h.7M188.8,994.0h.7M182.6,996.1h.7M185.7,992.8h.7M176.6,1002.2h.7M182.4,996.8h.7M183.5,995.6h.7M176.5,997.8h.7M183.8,996.4h.7M182.2,998.2h.7M183.4,996.3h.7M179.0,994.6h.7M181.5,993.1h.7M183.0,998.9h.7M181.5,989.2h.7M178.1,985.8h.7M183.5,990.1h.7M185.9,994.4h.7M178.5,991.3h.7M181.7,989.2h.7M185.5,994.2h.7M184.8,998.6h.7M182.6,995.3h.7M185.6,983.4h.7M178.0,997.9h.7M181.0,984.6h.7M192.3,988.7h.7M183.6,989.9h.7M184.0,993.9h.7M167.7,1002.7h.7M184.7,997.4h.7M185.0,1000.1h.7M178.2,993.4h.7M185.1,986.5h.7M174.7,992.3h.7M188.9,992.4h.7M187.6,998.9h.7M187.2,993.4h.7M175.4,998.8h.7M178.4,990.1h.7M183.0,990.3h.7M176.7,989.6h.7M184.9,994.6h.7M181.0,1010.4h.7M179.6,993.9h.7M175.0,996.1h.7M174.7,995.7h.7M184.8,991.7h.7M183.6,995.9h.7M178.9,998.7h.7M185.7,991.2h.7M164.0,991.4h.7M185.4,993.9h.7M179.8,994.1h.7M182.1,993.3h.7M186.3,983.1h.7M180.6,995.8h.7M185.4,996.1h.7M171.3,991.1h.7M184.5,994.9h.7M182.2,993.0h.7M177.8,995.5h.7M182.7,998.0h.7M180.5,998.2h.7M175.1,986.2h.7M181.2,995.1h.7M186.6,1003.3h.7M183.1,996.5h.7M188.8,991.5h.7M185.5,992.2h.7M182.4,995.4h.7M176.1,999.2h.7M178.0,998.5h.7M181.1,995.2h.7M182.4,990.0h.7M180.4,985.9h.7M188.0,992.2h.7M183.5,999.4h.7M180.9,993.4h.7M180.1,996.5h.7M189.5,986.0h.7M178.8,994.1h.7M191.6,985.6h.7M186.2,997.6h.7M181.6,993.2h.7M176.7,991.9h.7M184.9,999.7h.7M170.1,996.9h.7M175.3,998.7h.7M182.1,990.1h.7M170.2,992.1h.7M181.4,995.2h.7M182.4,995.5h.7M186.7,996.2h.7M179.3,994.8h.7M186.1,994.3h.7M193.6,999.4h.7M178.6,1000.6h.7M184.6,1003.2h.7M185.8,990.7h.7M191.2,993.4h.7M167.6,1001.6h.7M176.4,993.3h.7M186.0,992.2h.7M181.4,993.3h.7M183.7,998.1h.7M180.1,996.3h.7M185.0,1004.8h.7M189.8,995.0h.7M184.7,996.0h.7M177.6,989.8h.7M184.8,992.4h.7M171.3,996.0h.7M182.4,986.2h.7M186.4,995.3h.7M172.3,990.2h.7M182.2,990.7h.7M170.1,990.1h.7M196.6,992.5h.7M176.0,992.0h.7M178.1,1000.0h.7M190.9,994.0h.7M183.7,993.0h.7M186.6,989.7h.7M180.2,997.4h.7M176.4,995.1h.7M191.5,996.6h.7M188.9,991.5h.7M178.7,998.4h.7M178.5,995.7h.7M187.4,990.7h.7M187.6,989.6h.7M183.4,1005.6h.7M185.4,995.6h.7M191.5,1000.1h.7M179.0,994.5h.7M191.0,993.5h.7M181.6,988.8h.7M185.8,991.5h.7M185.0,991.1h.7M172.9,1005.3h.7M201.0,986.9h.7M185.7,988.0h.7M185.0,987.8h.7M174.6,992.7h.7M181.0,982.2h.7M176.9,996.0h.7M178.7,1000.7h.7M170.3,994.3h.7M173.0,1002.4h.7M184.7,1002.6h.7M190.8,996.0h.7M183.2,989.5h.7M184.3,996.4h.7M187.4,995.2h.7M183.0,994.9h.7M182.1,1005.7h.7M180.6,992.5h.7M176.0,999.7h.7M187.2,987.8h.7M186.9,998.6h.7M177.2,989.8h.7M172.9,997.0h.7M192.9,995.6h.7M186.2,996.1h.7M187.0,996.7h.7M185.7,994.6h.7M174.2,999.4h.7M187.9,989.3h.7M188.5,998.6h.7M183.5,991.3h.7M183.1,992.9h.7M187.8,1002.6h.7M190.7,995.4h.7M181.4,1005.0h.7M188.0,989.1h.7M174.1,997.7h.7M186.0,996.2h.7M190.4,994.3h.7M182.8,997.5h.7M186.1,991.6h.7M178.6,1005.5h.7M181.0,1001.6h.7M184.1,992.3h.7M178.2,996.5h.7M186.2,985.6h.7M177.5,991.6h.7M180.7,996.6h.7M186.3,989.0h.7M176.4,993.6h.7M175.9,1000.1h.7M183.1,1001.0h.7M178.8,997.4h.7M188.6,999.2h.7M180.6,990.5h.7M177.1,999.5h.7M180.0,992.9h.7M182.3,988.9h.7M188.9,993.5h.7M180.4,995.3h.7M191.4,990.4h.7M181.7,995.4h.7M196.0,1007.8h.7M183.3,996.1h.7M186.6,982.5h.7M185.6,996.6h.7M188.3,998.8h.7M187.3,989.6h.7M176.5,994.8h.7M183.9,999.2h.7M186.6,994.7h.7M180.8,989.3h.7M188.2,982.5h.7M183.3,994.9h.7M183.0,995.0h.7M188.7,1002.1h.7M181.6,993.4h.7M174.0,1000.2h.7M181.4,991.0h.7M173.0,997.6h.7M182.2,998.3h.7M175.9,993.6h.7M174.5,1001.1h.7M193.8,996.2h.7M178.6,996.4h.7M183.4,998.5h.7M184.2,993.0h.7M178.7,990.3h.7M179.6,997.3h.7M179.0,988.4h.7M179.8,1005.1h.7M185.2,998.9h.7M177.2,985.3h.7M187.3,990.8h.7M184.0,992.1h.7M183.5,986.1h.7M181.7,1000.0h.7M193.4,1005.0h.7M182.3,1002.8h.7M176.4,998.3h.7M182.8,994.7h.7M188.8,989.7h.7M182.7,1000.9h.7M188.4,996.0h.7M193.8,999.5h.7M175.7,1000.5h.7M199.4,991.5h.7M189.4,992.0h.7M190.4,985.9h.7M189.0,991.5h.7M190.8,994.8h.7M185.2,1000.9h.7M175.4,996.9h.7M185.4,993.9h.7M190.4,991.8h.7M185.2,999.6h.7M187.7,1001.2h.7M181.6,993.8h.7M185.8,985.3h.7M183.5,996.0h.7M172.8,999.9h.7M190.8,985.4h.7M181.1,998.8h.7M185.3,999.0h.7M193.4,991.9h.7M180.2,997.0h.7M186.8,991.6h.7M183.5,1002.2h.7M188.5,993.6h.7M178.8,993.0h.7M182.0,1004.0h.7M175.4,998.3h.7M191.2,986.9h.7M182.7,987.6h.7M180.7,996.9h.7M178.6,990.7h.7M190.9,985.1h.7M185.9,993.1h.7M171.6,992.4h.7M181.3,991.2h.7M183.2,996.3h.7M177.6,996.9h.7M176.4,1005.9h.7M194.0,997.8h.7M181.1,989.5h.7M179.0,994.6h.7M181.0,991.1h.7M182.8,994.9h.7M186.0,1000.6h.7M178.6,994.5h.7M178.3,993.1h.7M177.9,990.4h.7M170.7,997.5h.7M180.5,1001.5h.7M170.1,1000.1h.7M187.3,989.2h.7M171.1,992.3h.7M183.1,994.6h.7M184.1,999.4h.7M171.1,995.8h.7M175.6,994.7h.7M183.5,991.5h.7M187.2,986.2h.7M178.7,989.9h.7M181.5,988.0h.7M185.8,992.9h.7M180.9,990.9h.7M178.9,991.2h.7M184.7,996.9h.7M174.5,1002.4h.7M187.1,990.0h.7M180.0,991.6h.7M185.5,996.4h.7M188.3,998.2h.7M182.8,999.8h.7M187.8,995.7h.7M173.1,1000.5h.7M181.8,995.5h.7M177.4,1000.2h.7M175.9,995.6h.7M184.8,994.2h.7M185.0,985.7h.7M186.4,995.1h.7M189.6,997.6h.7M190.5,999.7h.7M179.5,988.7h.7M177.2,1000.2h.7M181.0,994.0h.7M169.3,994.6h.7M184.1,998.5h.7M183.4,1000.7h.7M186.6,996.9h.7M175.6,993.8h.7M179.6,995.0h.7M179.5,996.1h.7M185.9,984.7h.7M185.2,1000.1h.7M182.5,999.7h.7M169.0,990.2h.7M192.2,998.9h.7M177.4,997.2h.7M191.4,1001.3h.7M193.1,999.1h.7M186.8,999.8h.7M180.8,993.4h.7M181.3,992.7h.7M182.4,987.6h.7M167.8,989.3h.7M176.9,986.7h.7M193.7,996.4h.7M182.3,987.6h.7M175.3,998.2h.7M179.7,999.4h.7M185.2,1001.8h.7M188.7,999.6h.7M189.4,1006.4h.7M172.7,987.0h.7M176.3,995.8h.7M179.2,1001.2h.7M182.7,997.4h.7M184.2,991.2h.7M180.2,995.8h.7M180.3,997.8h.7M189.5,990.1h.7M178.3,989.2h.7M187.0,993.7h.7M174.4,1001.6h.7M184.2,994.8h.7M178.0,996.3h.7M194.3,1000.0h.7M186.5,992.9h.7M173.1,995.0h.7M170.4,1000.0h.7M189.0,1005.6h.7M175.0,993.1h.7M189.7,991.4h.7M187.8,1000.1h.7M189.3,1002.6h.7M184.3,986.0h.7M180.4,991.4h.7M182.3,986.0h.7M186.7,993.0h.7M186.2,988.3h.7M180.2,1001.6h.7M180.9,989.5h.7M188.6,996.0h.7M176.9,998.2h.7M179.8,997.2h.7M182.1,997.0h.7M180.9,996.5h.7M181.1,995.3h.7M183.9,991.8h.7M186.5,991.7h.7M187.1,1006.8h.7M186.1,998.2h.7M183.5,999.1h.7M181.6,995.2h.7M188.2,991.0h.7M172.3,1002.0h.7M178.3,999.9h.7M178.9,1004.4h.7M177.2,997.5h.7M185.8,992.7h.7M190.3,997.6h.7M184.7,997.1h.7M182.0,993.7h.7M172.9,997.2h.7M182.4,995.9h.7M193.9,991.5h.7M177.0,998.0h.7M185.8,986.2h.7M183.8,993.6h.7M179.9,996.4h.7M171.5,994.3h.7M180.3,997.0h.7M187.7,981.5h.7M182.7,999.9h.7M182.0,997.2h.7M191.1,992.3h.7M185.6,981.4h.7M182.4,998.1h.7M186.7,993.5h.7M182.9,1000.1h.7M194.0,979.8h.7M178.7,994.9h.7M179.5,999.4h.7M180.3,991.0h.7M182.1,989.1h.7M176.0,991.6h.7M179.2,1004.1h.7M180.0,997.8h.7M187.5,991.6h.7M180.5,1001.2h.7M187.5,997.7h.7M183.4,995.4h.7M182.6,992.9h.7M186.0,989.2h.7M181.9,1009.0h.7M180.9,990.0h.7M177.6,997.1h.7M180.7,1000.9h.7M186.6,998.4h.7M182.5,1000.2h.7M192.4,997.2h.7M179.7,986.0h.7M181.1,1000.0h.7M182.8,1000.3h.7M190.2,988.1h.7M189.5,991.1h.7M186.3,988.8h.7M179.6,996.4h.7M183.2,985.9h.7M183.1,990.6h.7M181.1,994.7h.7M183.2,985.2h.7M176.8,989.6h.7M173.6,994.1h.7M185.3,999.3h.7M181.6,1003.3h.7M182.2,987.8h.7M185.4,992.9h.7M187.6,993.3h.7M196.9,1002.3h.7M181.2,992.2h.7M177.7,998.2h.7M179.2,993.0h.7M176.3,1000.2h.7M177.8,995.1h.7M177.1,994.7h.7M185.8,997.1h.7M190.8,1004.6h.7M175.1,999.4h.7M169.6,992.5h.7M182.5,993.1h.7M187.4,989.7h.7M187.3,986.4h.7M182.7,989.2h.7M186.7,996.1h.7M183.6,993.9h.7M187.8,986.0h.7M182.9,989.8h.7M189.1,989.2h.7M179.6,985.6h.7M182.6,989.0h.7M184.6,1001.8h.7M193.2,995.7h.7M184.5,991.7h.7M185.6,996.0h.7M179.6,991.1h.7M190.2,990.5h.7M180.2,1004.0h.7M188.5,995.4h.7M184.6,1001.5h.7M183.0,982.6h.7M188.6,978.8h.7M187.7,998.3h.7M187.9,992.7h.7M177.5,989.3h.7M181.0,1000.9h.7M186.3,992.8h.7M171.8,987.5h.7M185.0,987.9h.7M190.3,997.9h.7M187.9,998.0h.7M188.2,993.9h.7M176.6,995.7h.7M189.5,1001.8h.7M174.4,1000.9h.7M186.5,1002.5h.7M180.7,994.5h.7M177.0,1003.5h.7M178.7,995.5h.7M192.1,988.1h.7M196.6,998.2h.7M183.4,997.1h.7M173.6,997.8h.7M185.8,992.8h.7M182.7,996.5h.7M190.2,1000.0h.7M186.1,994.0h.7M177.3,1006.0h.7M177.6,991.9h.7M186.5,991.9h.7M182.2,992.5h.7M183.7,1002.8h.7M181.1,997.9h.7M191.1,992.6h.7M185.2,997.5h.7M174.7,1002.5h.7M180.1,1004.1h.7M177.5,994.8h.7M184.6,991.6h.7M184.5,989.3h.7M181.1,997.3h.7M179.9,981.9h.7M180.3,986.6h.7M183.5,995.1h.7M179.1,1000.8h.7M187.0,999.4h.7M196.4,1002.3h.7M181.8,994.2h.7M174.0,997.3h.7M181.8,996.8h.7M173.9,988.3h.7M189.2,996.1h.7M170.0,1001.3h.7M180.9,995.2h.7M184.7,996.6h.7M193.4,996.6h.7M173.2,999.3h.7M186.6,987.4h.7M182.9,994.6h.7M182.0,993.2h.7M177.9,996.2h.7M183.8,996.7h.7M184.4,996.7h.7M183.5,1003.4h.7M185.1,999.3h.7M183.4,995.2h.7M186.8,988.5h.7M185.6,994.0h.7M181.1,1000.4h.7M184.8,996.3h.7M180.4,996.0h.7M182.1,993.5h.7M183.0,990.1h.7M177.6,995.6h.7M186.1,991.6h.7M174.7,988.7h.7M171.8,993.8h.7M187.1,995.2h.7M178.1,998.5h.7M182.5,990.6h.7M185.4,996.7h.7M189.4,999.2h.7M189.0,981.5h.7M193.8,1003.2h.7M173.0,998.0h.7M183.9,1000.8h.7M188.7,983.4h.7M189.4,993.1h.7M176.8,992.2h.7M182.6,993.0h.7M180.0,989.4h.7M173.1,1003.9h.7M189.9,996.1h.7M176.5,994.9h.7M185.6,997.6h.7M183.2,997.3h.7M172.1,998.5h.7M178.6,987.8h.7M176.2,1000.8h.7M188.9,983.7h.7M169.4,991.1h.7M169.6,1000.0h.7M178.5,993.3h.7M181.6,1012.2h.7M173.3,1000.1h.7M191.2,1008.2h.7M187.3,990.9h.7M197.6,985.2h.7M188.3,983.1h.7M183.5,999.2h.7M181.9,992.7h.7M187.3,991.1h.7M177.5,993.1h.7M191.4,994.5h.7M192.4,993.3h.7M189.8,999.5h.7M177.1,996.2h.7M186.7,1000.0h.7M185.1,992.5h.7M186.3,999.5h.7M180.6,995.6h.7M182.4,992.3h.7M178.1,998.5h.7M189.1,989.2h.7M187.0,1001.4h.7M186.7,987.4h.7M180.9,1004.6h.7M190.2,981.6h.7M186.6,999.2h.7M193.8,996.4h.7M174.7,994.7h.7M183.9,993.0h.7M179.0,1004.0h.7M182.1,997.3h.7M185.8,990.3h.7M181.4,990.7h.7M183.3,992.0h.7M189.6,991.4h.7M176.6,1000.5h.7M178.3,1005.1h.7M181.6,986.9h.7M181.8,993.2h.7M181.2,992.2h.7M178.2,990.8h.7M191.7,988.8h.7M184.5,999.3h.7M180.4,993.0h.7M185.3,994.8h.7M173.7,996.4h.7M181.6,998.6h.7M170.0,1000.4h.7M184.4,993.2h.7M185.5,993.3h.7M183.0,982.8h.7M194.1,994.1h.7M181.1,991.7h.7M179.7,997.0h.7M191.0,991.4h.7M177.7,997.3h.7M171.1,992.4h.7M189.7,996.7h.7M181.4,989.4h.7M182.4,985.7h.7M177.9,990.4h.7M183.4,1000.5h.7M188.2,985.7h.7M179.1,1001.1h.7M188.5,995.6h.7M174.7,992.5h.7M179.6,997.0h.7M170.7,991.3h.7M185.6,996.8h.7M181.2,1005.1h.7M189.1,1002.7h.7M186.5,990.4h.7M199.8,994.0h.7M189.6,994.5h.7M187.5,993.6h.7M188.2,998.1h.7M172.3,998.8h.7M180.7,987.0h.7M196.3,996.3h.7M175.5,1002.3h.7M172.2,997.5h.7M175.9,993.1h.7M178.2,991.9h.7M182.7,995.6h.7M195.9,988.3h.7M187.9,1000.8h.7M191.8,990.5h.7M183.0,989.4h.7M188.9,993.5h.7M178.8,999.6h.7M182.5,997.3h.7M179.5,996.4h.7M185.0,986.5h.7M184.2,993.8h.7M177.7,990.6h.7M178.7,997.8h.7M179.0,989.4h.7M184.4,994.2h.7M192.1,980.8h.7M187.1,997.9h.7M174.1,998.6h.7M178.7,993.9h.7M191.1,990.9h.7M186.0,982.4h.7M182.9,997.5h.7M164.9,988.3h.7M169.1,996.9h.7M172.8,994.2h.7M190.1,992.6h.7M186.2,996.5h.7M174.6,993.1h.7M188.4,1000.2h.7M180.7,994.5h.7M180.2,992.8h.7M181.8,995.9h.7M187.2,975.8h.7M180.7,994.3h.7M189.2,992.1h.7M191.9,995.9h.7M191.3,998.1h.7M186.3,995.0h.7M174.5,989.1h.7M186.7,997.3h.7M180.1,990.1h.7M178.7,997.3h.7M201.0,1005.7h.7M181.7,989.9h.7M181.8,995.6h.7M183.4,1002.9h.7M181.1,987.8h.7M190.5,991.2h.7M182.9,1000.1h.7M176.3,988.4h.7M184.6,991.5h.7M178.4,992.1h.7M183.1,995.4h.7M169.9,993.1h.7M186.3,996.1h.7M179.6,1002.1h.7M169.6,993.7h.7M179.4,995.2h.7M178.6,997.5h.7M178.3,990.4h.7M171.2,1002.1h.7M183.1,990.9h.7M188.7,993.4h.7M184.0,1000.6h.7M182.2,1000.3h.7M178.2,994.4h.7M180.7,981.6h.7M169.8,1010.5h.7M183.8,993.4h.7M184.5,989.5h.7M182.8,994.3h.7M180.2,988.1h.7M176.5,993.4h.7M178.8,1004.2h.7M185.8,996.6h.7M176.3,999.7h.7M179.9,998.7h.7M176.7,994.0h.7M183.9,1000.2h.7M180.3,997.2h.7M185.6,990.8h.7M182.9,994.9h.7M175.6,992.9h.7M177.4,989.8h.7M189.8,997.0h.7M180.5,1001.0h.7M185.9,992.9h.7M189.7,995.7h.7M176.0,998.4h.7M179.9,994.6h.7M187.6,996.9h.7M184.9,999.1h.7M176.4,999.1h.7M183.2,999.6h.7M178.8,993.6h.7M173.9,991.3h.7M175.2,995.1h.7M180.9,989.7h.7M182.6,1006.6h.7M190.7,1004.5h.7M183.7,993.0h.7M181.1,992.7h.7M207.4,957.9h.7M207.3,964.6h.7M202.7,966.6h.7M218.3,958.0h.7M210.2,961.5h.7M204.8,965.1h.7M205.7,956.5h.7M207.3,958.8h.7M200.8,958.1h.7M202.3,954.9h.7M205.6,962.8h.7M216.2,959.2h.7M196.4,962.0h.7M208.3,959.2h.7M204.6,960.3h.7M216.2,965.7h.7M211.1,962.1h.7M205.3,958.7h.7M213.6,965.3h.7M206.2,966.6h.7M210.2,960.7h.7M216.2,964.2h.7M199.7,963.9h.7M214.7,965.7h.7M203.2,958.3h.7M199.3,963.3h.7M213.0,963.2h.7M214.8,964.9h.7M221.9,959.9h.7M217.3,961.4h.7M208.5,961.6h.7M198.4,963.5h.7M217.6,960.0h.7M192.9,957.7h.7M208.2,962.9h.7M197.1,963.8h.7M198.3,960.6h.7M208.4,962.8h.7M220.9,960.0h.7M222.8,965.2h.7M204.0,964.8h.7M203.3,963.8h.7M202.8,961.8h.7M209.6,965.7h.7M192.3,963.9h.7M227.3,965.3h.7M211.6,962.8h.7M216.2,955.4h.7M202.6,962.5h.7M196.0,961.8h.7M202.4,958.4h.7M207.4,962.6h.7M215.1,964.6h.7M198.0,962.7h.7M212.3,957.3h.7M209.3,961.6h.7M197.6,959.1h.7M212.4,962.9h.7M205.0,959.2h.7M212.7,958.9h.7M203.6,963.0h.7M215.3,961.6h.7M203.6,960.4h.7M206.8,965.9h.7M210.2,957.4h.7M216.2,962.0h.7M207.2,962.7h.7M202.0,960.6h.7M202.6,962.4h.7M194.5,962.2h.7M204.0,959.8h.7M206.2,958.6h.7M194.0,958.5h.7M206.5,961.5h.7M203.2,966.1h.7M194.0,966.7h.7M191.5,962.9h.7M203.2,966.1h.7M200.7,961.6h.7M209.1,959.1h.7M203.0,964.5h.7M203.6,965.4h.7M217.8,966.9h.7M219.1,962.7h.7M197.2,959.2h.7M208.5,960.5h.7M209.2,960.3h.7M212.7,954.2h.7M215.2,963.1h.7M200.5,958.8h.7M212.1,963.9h.7M211.8,966.3h.7M209.4,963.3h.7M197.6,968.9h.7M206.5,941.7h.7M197.3,964.8h.7M188.8,955.8h.7M208.7,965.4h.7M220.4,962.2h.7M213.1,961.0h.7M192.6,981.0h.7M211.0,966.5h.7M217.6,961.1h.7M210.8,957.9h.7M195.8,968.8h.7M207.1,967.5h.7M190.7,953.2h.7M195.6,962.3h.7M216.3,950.1h.7M205.7,970.9h.7M208.6,959.4h.7M207.4,979.0h.7M193.3,958.2h.7M221.7,946.8h.7M191.2,950.0h.7M201.4,968.9h.7M208.7,950.4h.7M204.9,958.2h.7M213.2,990.7h.7M201.3,982.7h.7M210.3,993.3h.7M199.0,989.5h.7M212.2,1002.3h.7M210.8,995.8h.7M207.2,997.0h.7M214.6,993.3h.7M210.8,988.1h.7M208.5,985.0h.7M208.1,982.0h.7M207.1,981.1h.7M216.8,996.0h.7M205.2,998.8h.7M209.5,988.6h.7M210.7,982.9h.7M204.5,987.7h.7M203.4,997.3h.7M207.4,991.3h.7M203.4,982.3h.7M201.0,994.6h.7M206.4,995.3h.7M192.1,995.0h.7M210.7,978.4h.7M219.3,987.8h.7M206.2,991.4h.7M210.9,994.1h.7M202.5,986.4h.7M219.9,989.1h.7M205.5,987.2h.7M201.5,994.5h.7M202.8,985.6h.7M199.5,992.7h.7M209.6,987.5h.7M200.3,977.5h.7M208.3,977.3h.7M200.8,985.5h.7M205.8,991.4h.7M213.8,980.9h.7M209.2,983.5h.7M213.2,990.2h.7M208.1,981.9h.7M209.7,990.7h.7M208.6,991.5h.7M200.1,987.0h.7M205.0,988.9h.7M204.9,993.7h.7M215.2,992.3h.7M203.0,984.4h.7M210.8,989.5h.7M207.7,989.0h.7M197.1,988.1h.7M211.9,999.9h.7M211.2,984.4h.7M200.7,991.9h.7M201.6,975.9h.7M210.0,992.3h.7M206.4,989.9h.7M209.0,996.3h.7M200.1,997.1h.7M210.6,987.3h.7M213.5,998.3h.7M204.5,984.9h.7M206.6,992.1h.7M211.0,985.0h.7M208.6,984.6h.7M208.6,959.4h.7M202.6,975.6h.7M204.9,961.5h.7M198.3,980.8h.7M197.7,980.7h.7M181.1,994.1h.7M190.2,977.8h.7M193.3,974.2h.7M184.3,987.7h.7M197.3,981.5h.7M194.1,985.8h.7M195.8,973.1h.7M183.7,981.8h.7M205.0,969.5h.7M206.7,972.2h.7M187.9,977.6h.7M197.4,981.9h.7M203.5,961.2h.7M203.7,971.3h.7M202.0,964.8h.7M200.2,966.1h.7M202.2,967.7h.7M185.3,983.8h.7M187.0,985.8h.7M212.8,972.8h.7M198.2,980.9h.7M194.6,977.5h.7M190.3,982.2h.7M195.9,970.3h.7M193.8,976.1h.7M207.6,962.5h.7M188.9,999.3h.7" stroke="#f02020" stroke-width="0.7" fill="none" opacity="0.4" filter="url(#fb)"/>
<path d="M171.6,991.4h.7M189.7,989.0h.7M188.6,993.1h.7M184.1,1009.4h.7M188.4,990.8h.7M192.4,1006.4h.7M189.4,994.1h.7M181.4,1002.5h.7M185.7,992.5h.7M180.3,1000.1h.7M190.6,996.0h.7M183.7,992.7h.7M187.3,995.0h.7M186.2,991.1h.7M178.2,985.4h.7M166.1,1006.9h.7M201.6,985.2h.7M183.9,1002.1h.7M176.9,1006.5h.7M178.5,990.1h.7M170.2,1001.1h.7M182.6,1005.4h.7M184.0,988.0h.7M180.2,1001.1h.7M184.5,988.2h.7M186.5,987.9h.7M193.3,1001.6h.7M175.5,998.7h.7M181.6,992.3h.7M175.1,992.3h.7M194.5,986.4h.7M188.9,995.7h.7M188.7,997.1h.7M179.6,998.0h.7M182.7,1002.4h.7M183.2,997.1h.7M174.3,990.7h.7M184.2,999.1h.7M183.3,992.9h.7M184.4,986.5h.7M195.3,991.0h.7M183.9,991.4h.7M174.5,994.7h.7M177.2,993.8h.7M181.9,996.1h.7M187.3,989.6h.7M184.5,998.3h.7M188.1,998.9h.7M182.9,992.9h.7M185.7,994.2h.7M193.3,988.3h.7M184.4,998.0h.7M184.7,988.0h.7M173.1,993.7h.7M183.6,995.5h.7M173.0,1000.6h.7M189.1,989.2h.7M179.8,992.5h.7M185.2,1000.4h.7M178.5,992.6h.7M185.5,993.5h.7M185.6,994.9h.7M187.9,989.5h.7M175.6,992.4h.7M181.9,1002.1h.7M191.3,995.1h.7M179.5,997.9h.7M166.2,996.6h.7M184.0,987.9h.7M190.8,978.0h.7M179.6,995.4h.7M172.7,1002.5h.7M188.9,996.1h.7M178.0,995.0h.7M192.0,989.7h.7M184.4,995.7h.7M185.0,991.9h.7M180.3,1005.1h.7M196.2,987.4h.7M174.4,994.5h.7M181.9,993.2h.7M173.9,988.3h.7M173.8,986.1h.7M185.1,991.5h.7M180.9,997.2h.7M189.9,985.6h.7M180.7,997.7h.7M184.4,1003.6h.7M187.9,998.1h.7M186.7,980.3h.7M172.1,993.5h.7M186.9,984.7h.7M185.8,1000.4h.7M180.6,994.1h.7M179.6,987.5h.7M174.4,982.7h.7M178.5,1002.0h.7M175.7,993.8h.7M170.1,1000.4h.7M191.3,994.3h.7M179.5,1002.0h.7M182.7,998.7h.7M182.9,994.1h.7M186.4,994.1h.7M184.2,1011.1h.7M190.1,985.7h.7M183.9,994.3h.7M175.5,1002.6h.7M188.2,988.8h.7M182.5,990.0h.7M192.4,991.5h.7M181.1,988.6h.7M187.6,997.1h.7M176.5,998.1h.7M173.2,1001.9h.7M179.8,1000.0h.7M192.8,986.0h.7M182.5,998.7h.7M188.3,994.6h.7M177.7,996.0h.7M182.3,1003.3h.7M183.7,1002.2h.7M185.5,1006.6h.7M184.3,994.0h.7M180.3,994.4h.7M176.3,999.0h.7M181.5,992.5h.7M183.6,992.3h.7M180.9,987.0h.7M177.4,999.8h.7M176.7,997.4h.7M186.4,989.6h.7M194.8,1004.6h.7M171.0,998.9h.7M180.7,996.0h.7M183.6,1000.0h.7M186.4,990.8h.7M186.1,991.2h.7M174.9,999.4h.7M185.7,995.7h.7M181.4,992.0h.7M176.9,999.3h.7M177.9,992.6h.7M176.3,991.0h.7M179.4,987.8h.7M182.6,994.7h.7M190.2,1003.3h.7M187.6,1005.7h.7M182.9,995.2h.7M179.3,997.7h.7M179.4,1000.5h.7M183.7,994.5h.7M191.9,992.0h.7M169.9,990.8h.7M178.2,987.8h.7M193.4,991.3h.7M191.8,1000.6h.7M175.2,1000.0h.7M186.1,987.8h.7M191.2,979.7h.7M177.4,1000.3h.7M192.5,990.8h.7M184.0,990.5h.7M193.4,993.5h.7M180.9,1003.6h.7M180.7,995.3h.7M181.1,999.3h.7M180.7,996.0h.7M182.9,998.1h.7M194.8,996.9h.7M184.9,994.5h.7M179.3,991.0h.7M185.0,988.3h.7M180.6,993.9h.7M178.5,1002.3h.7M189.1,989.4h.7M185.4,993.4h.7M188.2,998.7h.7M180.3,997.7h.7M182.9,996.4h.7M176.9,994.5h.7M180.0,994.0h.7M190.9,990.9h.7M189.4,992.2h.7M185.9,987.3h.7M190.6,989.1h.7M180.1,998.3h.7M184.8,998.4h.7M178.8,994.4h.7M171.2,993.6h.7M172.9,999.6h.7M172.2,995.7h.7M185.2,999.2h.7M180.0,996.0h.7M181.1,983.9h.7M188.9,993.5h.7M176.5,993.1h.7M188.9,988.7h.7M179.9,991.0h.7M181.2,994.2h.7M187.1,992.5h.7M185.6,992.6h.7M177.9,992.0h.7M172.0,992.1h.7M174.2,1002.8h.7M181.3,989.0h.7M175.2,996.5h.7M186.5,987.6h.7M174.1,998.7h.7M181.2,994.7h.7M178.1,991.4h.7M186.3,996.3h.7M185.0,990.8h.7M186.7,993.0h.7M179.0,988.9h.7M179.0,997.4h.7M178.7,996.9h.7M188.5,1007.8h.7M175.1,996.9h.7M184.9,994.5h.7M176.5,994.6h.7M193.6,992.7h.7M186.4,997.6h.7M188.6,987.4h.7M193.2,998.5h.7M189.2,991.1h.7M186.2,984.0h.7M186.9,994.5h.7M184.0,1001.2h.7M174.7,993.7h.7M190.0,1002.3h.7M177.6,993.4h.7M184.7,995.0h.7M194.0,1002.5h.7M187.4,991.0h.7M183.9,994.3h.7M180.5,999.4h.7M179.4,993.1h.7M183.9,990.8h.7M177.5,1013.8h.7M176.8,998.2h.7M172.6,994.3h.7M173.9,992.2h.7M184.1,987.0h.7M180.4,998.0h.7M186.3,999.8h.7M182.8,985.6h.7M172.1,996.3h.7M177.2,993.7h.7M186.2,997.0h.7M178.3,992.1h.7M181.2,1001.1h.7M179.3,991.7h.7M189.2,992.8h.7M185.5,990.3h.7M177.5,991.2h.7M181.6,993.5h.7M185.4,995.8h.7M184.3,998.4h.7M189.3,1001.1h.7M178.9,991.3h.7M186.9,996.6h.7M176.7,994.5h.7M187.1,988.9h.7M183.4,998.7h.7M178.0,997.7h.7M186.9,995.3h.7M178.6,1003.1h.7M178.9,995.8h.7M185.1,1007.3h.7M185.6,992.0h.7M176.7,995.8h.7M177.8,1003.8h.7M188.4,992.4h.7M189.5,989.7h.7M155.3,990.4h.7M177.5,998.2h.7M176.3,990.4h.7M199.4,987.5h.7M184.8,988.0h.7M186.6,990.4h.7M174.3,1003.3h.7M175.0,990.2h.7M176.2,996.0h.7M183.9,997.6h.7M187.9,999.9h.7M193.0,990.1h.7M199.7,986.4h.7M190.7,994.0h.7M185.6,994.6h.7M179.5,996.8h.7M181.5,999.7h.7M183.0,992.2h.7M184.1,988.2h.7M184.4,993.3h.7M187.4,985.0h.7M162.4,999.5h.7M184.1,1001.0h.7M182.3,988.0h.7M191.9,997.4h.7M178.7,999.0h.7M178.8,993.9h.7M181.4,988.8h.7M176.9,1000.4h.7M188.6,997.6h.7M180.6,990.6h.7M202.1,990.7h.7M186.1,995.0h.7M174.4,997.8h.7M189.8,997.4h.7M182.4,999.1h.7M182.6,1002.0h.7M193.3,998.1h.7M179.0,997.9h.7M181.9,980.3h.7M185.8,999.4h.7M181.5,995.0h.7M173.3,1001.4h.7M172.3,999.8h.7M182.3,987.6h.7M187.7,993.2h.7M188.2,998.0h.7M184.8,994.5h.7M176.5,989.1h.7M174.7,1005.7h.7M193.9,1000.4h.7M199.7,992.6h.7M182.0,991.1h.7M185.2,993.2h.7M189.3,992.1h.7M174.2,988.9h.7M172.8,1000.1h.7M179.1,991.1h.7M179.5,995.9h.7M179.4,991.7h.7M187.7,996.1h.7M184.7,981.3h.7M182.1,998.4h.7M183.2,986.3h.7M180.1,987.0h.7M180.1,991.9h.7M178.3,992.7h.7M184.3,989.4h.7M179.4,996.8h.7M181.6,998.0h.7M177.0,1003.7h.7M169.5,995.3h.7M173.3,998.4h.7M180.7,997.3h.7M178.3,990.4h.7M177.1,994.2h.7M191.3,998.1h.7M174.6,1000.6h.7M185.3,995.1h.7M187.5,995.1h.7M190.7,993.9h.7M171.8,994.0h.7M193.8,994.8h.7M184.6,995.2h.7M194.4,998.7h.7M181.9,993.3h.7M173.1,996.3h.7M179.0,995.8h.7M186.4,1000.0h.7M173.4,986.5h.7M184.6,988.0h.7M185.2,988.2h.7M179.4,994.7h.7M190.2,999.2h.7M186.7,989.8h.7M184.2,992.9h.7M191.0,1001.8h.7M185.4,993.6h.7M194.5,992.3h.7M180.1,986.6h.7M178.5,998.1h.7M182.3,993.4h.7M187.6,995.0h.7M178.0,989.4h.7M190.4,1001.9h.7M197.9,986.3h.7M166.6,1000.9h.7M180.1,995.7h.7M171.9,999.2h.7M186.5,991.7h.7M181.9,998.8h.7M191.4,989.7h.7M183.8,990.6h.7M179.6,1002.2h.7M181.7,995.1h.7M186.8,994.6h.7M183.9,999.4h.7M188.3,1000.5h.7M183.5,994.7h.7M184.8,993.3h.7M179.4,994.6h.7M189.4,996.2h.7M179.2,993.3h.7M182.4,993.6h.7M177.6,994.8h.7M177.7,995.8h.7M194.4,992.1h.7M188.2,991.6h.7M181.5,995.1h.7M189.3,995.0h.7M179.3,989.1h.7M185.7,989.5h.7M188.5,988.5h.7M193.7,994.0h.7M187.0,991.9h.7M188.7,1001.5h.7M200.5,979.6h.7M182.3,992.9h.7M172.8,992.2h.7M186.7,987.4h.7M179.2,987.9h.7M185.3,1001.6h.7M177.1,992.2h.7M184.8,992.3h.7M172.5,994.8h.7M180.5,995.5h.7M182.8,992.9h.7M194.4,990.0h.7M177.3,992.9h.7M183.9,995.2h.7M178.9,996.0h.7M189.1,1003.2h.7M184.4,991.5h.7M172.3,1002.9h.7M181.0,992.6h.7M172.5,985.9h.7M184.9,997.1h.7M191.2,988.8h.7M186.9,987.4h.7M185.8,991.7h.7M184.4,998.1h.7M196.0,1003.0h.7M179.2,992.1h.7M174.0,989.3h.7M186.4,992.5h.7M185.9,990.4h.7M169.7,1005.3h.7M185.3,992.6h.7M178.4,995.6h.7M190.4,997.4h.7M189.8,985.1h.7M182.2,995.4h.7M193.1,986.0h.7M163.5,998.9h.7M187.5,995.3h.7M173.6,1001.0h.7M183.6,991.1h.7M182.9,991.3h.7M178.3,996.4h.7M182.9,998.7h.7M193.9,1000.7h.7M175.6,997.2h.7M187.9,1006.4h.7M182.0,993.3h.7M184.5,998.8h.7M175.4,986.3h.7M162.4,1013.5h.7M189.6,995.7h.7M173.3,1000.1h.7M175.9,992.7h.7M180.8,990.4h.7M185.5,992.5h.7M190.3,999.6h.7M182.6,992.2h.7M177.7,995.7h.7M180.8,996.0h.7M179.1,998.7h.7M193.7,994.9h.7M170.3,990.0h.7M177.5,993.5h.7M182.8,982.5h.7M189.1,995.4h.7M176.6,1001.3h.7M186.5,985.0h.7M180.7,994.2h.7M178.6,995.9h.7M189.8,992.5h.7M197.8,991.3h.7M179.2,994.2h.7M189.4,987.0h.7M183.4,995.9h.7M192.3,994.8h.7M186.4,992.8h.7M185.2,994.7h.7M189.6,997.5h.7M175.1,998.7h.7M170.5,989.8h.7M181.5,995.6h.7M181.8,991.2h.7M188.4,994.8h.7M175.4,984.5h.7M181.7,991.6h.7M186.1,990.9h.7M184.8,994.5h.7M183.7,999.6h.7M178.8,997.6h.7M183.1,994.4h.7M180.0,999.8h.7M183.2,996.1h.7M191.0,990.5h.7M175.1,997.3h.7M181.7,988.4h.7M180.0,990.6h.7M177.3,993.5h.7M181.5,998.0h.7M185.6,995.2h.7M187.3,997.3h.7M182.5,997.6h.7M184.5,992.8h.7M178.5,994.6h.7M181.0,1001.8h.7M182.3,996.0h.7M189.5,983.8h.7M180.0,1002.8h.7M184.0,984.7h.7M180.9,988.4h.7M191.4,984.2h.7M184.3,992.9h.7M180.9,991.7h.7M185.4,988.6h.7M188.0,987.0h.7M182.8,988.6h.7M184.7,993.7h.7M186.4,990.4h.7M179.8,1000.7h.7M176.9,1010.6h.7M169.6,987.7h.7M186.7,989.4h.7M191.7,989.8h.7M181.5,992.2h.7M183.8,985.4h.7M178.8,988.5h.7M180.3,995.5h.7M180.1,994.4h.7M182.7,992.9h.7M172.7,1000.5h.7M178.9,985.5h.7M188.1,998.2h.7M174.4,993.1h.7M174.2,999.3h.7M188.8,994.3h.7M178.1,993.6h.7M182.0,999.3h.7M194.1,987.5h.7M183.5,992.5h.7M188.5,992.4h.7M177.9,997.8h.7M180.1,999.0h.7M178.5,993.1h.7M178.2,996.4h.7M178.9,1000.0h.7M195.1,990.0h.7M179.7,1015.7h.7M178.5,996.2h.7M185.5,989.9h.7M200.7,989.1h.7M184.1,993.2h.7M180.1,989.8h.7M175.0,997.3h.7M185.8,1003.4h.7M194.7,991.0h.7M185.4,992.3h.7M178.0,994.3h.7M186.7,995.5h.7M185.9,990.4h.7M176.9,987.8h.7M192.6,992.7h.7M184.4,997.0h.7M183.6,995.0h.7M181.1,994.3h.7M184.2,989.9h.7M188.0,991.2h.7M193.8,1001.7h.7M186.9,1008.6h.7M175.8,991.9h.7M190.0,1005.3h.7M190.5,990.4h.7M183.1,1000.3h.7M179.9,1003.6h.7M181.8,993.4h.7M188.5,995.5h.7M179.0,998.6h.7M187.0,990.2h.7M179.5,985.8h.7M177.1,1008.1h.7M177.2,995.0h.7M193.0,995.1h.7M182.7,984.7h.7M191.2,990.3h.7M186.0,1003.8h.7M184.7,1000.0h.7M187.4,992.4h.7M171.6,997.7h.7M176.5,986.4h.7M180.2,991.0h.7M178.7,991.7h.7M178.1,999.8h.7M185.0,999.3h.7M180.3,999.2h.7M169.6,1000.4h.7M182.2,998.4h.7M189.8,993.3h.7M179.6,999.7h.7M176.1,995.1h.7M188.9,990.7h.7M181.0,1001.7h.7M210.3,965.9h.7M202.8,960.8h.7M200.1,965.3h.7M190.5,964.5h.7M213.9,961.1h.7M200.0,964.3h.7M204.8,964.3h.7M215.4,954.9h.7M199.7,956.7h.7M221.8,970.7h.7M203.7,967.9h.7M203.5,963.1h.7M199.1,959.9h.7M202.0,963.9h.7M202.6,964.8h.7M206.5,964.2h.7M206.2,959.2h.7M200.9,962.3h.7M210.2,966.4h.7M207.4,964.9h.7M213.1,961.1h.7M215.6,960.6h.7M212.0,963.2h.7M205.0,959.4h.7M199.9,964.9h.7M205.0,966.7h.7M204.3,961.4h.7M192.6,963.3h.7M206.3,965.5h.7M203.8,962.6h.7M210.6,960.9h.7M209.2,963.2h.7M207.7,959.0h.7M204.0,964.4h.7M214.6,958.8h.7M200.6,963.0h.7M212.1,967.2h.7M196.5,959.2h.7M195.1,960.9h.7M209.5,958.0h.7M212.0,965.2h.7M218.4,963.3h.7M206.3,956.9h.7M204.5,962.7h.7M224.3,961.6h.7M217.7,962.9h.7M212.4,966.6h.7M206.5,963.1h.7M204.2,962.0h.7M218.2,963.5h.7M209.3,959.0h.7M198.8,964.3h.7M224.8,964.9h.7M206.7,961.7h.7M208.3,960.8h.7M210.2,962.6h.7M193.0,959.9h.7M213.3,958.5h.7M198.0,962.0h.7M217.9,961.4h.7M199.1,951.7h.7M199.0,965.5h.7M209.3,964.0h.7M185.0,948.5h.7M210.0,955.2h.7M201.6,933.9h.7M203.3,960.0h.7M222.6,977.0h.7M209.6,959.0h.7M195.2,950.4h.7M201.3,955.5h.7M187.4,978.9h.7M204.0,973.4h.7M200.0,976.4h.7M224.1,971.7h.7M212.6,964.1h.7M202.9,974.1h.7M194.9,956.6h.7M208.1,953.8h.7M207.7,952.2h.7M219.9,963.5h.7M196.4,951.5h.7M210.2,991.7h.7M209.1,989.3h.7M204.7,999.6h.7M199.9,987.2h.7M225.6,988.6h.7M207.1,979.0h.7M205.5,987.7h.7M209.5,995.5h.7M212.0,998.5h.7M209.8,984.0h.7M201.6,989.6h.7M213.5,991.1h.7M210.0,991.2h.7M207.1,991.2h.7M213.2,989.2h.7M206.1,990.4h.7M195.2,994.1h.7M199.2,982.5h.7M214.2,992.7h.7M208.7,981.2h.7M198.7,987.1h.7M205.8,1001.2h.7M201.8,979.6h.7M201.5,999.5h.7M207.5,997.5h.7M197.1,977.6h.7M210.0,999.9h.7M202.1,986.3h.7M206.3,987.9h.7M221.1,980.8h.7M216.3,991.5h.7M211.4,990.3h.7M209.1,986.1h.7M211.9,998.9h.7M208.2,980.9h.7M216.6,984.0h.7M199.9,991.1h.7M208.5,982.4h.7M209.0,976.1h.7M207.4,988.4h.7M214.2,983.5h.7M194.5,993.8h.7M211.6,979.2h.7M215.9,991.8h.7M192.8,968.4h.7M204.6,960.1h.7M191.4,979.4h.7M189.8,983.4h.7M197.7,968.6h.7M191.7,964.2h.7M196.1,987.7h.7M198.4,975.7h.7M196.7,977.8h.7M193.4,988.7h.7M194.3,971.6h.7M204.9,965.2h.7M187.5,981.2h.7M189.3,982.4h.7M199.4,982.2h.7M187.4,997.5h.7M209.6,960.3h.7M182.1,1001.0h.7M195.9,989.3h.7M180.5,997.7h.7M199.5,968.0h.7M193.5,968.0h.7M191.5,978.0h.7M198.0,964.0h.7M188.1,971.2h.7M194.3,977.7h.7M198.4,970.2h.7M188.6,985.4h.7" stroke="#e81010" stroke-width="0.7" fill="none" opacity="0.6"/>
</g>
<clipPath id="fc1"><rect x="275.5" y="922.5" width="92.0" height="91.0"/></clipPath>
<path d="M275.5,922.5V1013.5H367.5" fill="none" stroke="#b4b4b4" stroke-width="0.7"/>
<path d="M275.5,922.5H367.5V1013.5" fill="none" stroke="#a8a8a8" stroke-width="0.8"/>
<line x1="325.5" y1="922.5" x2="325.5" y2="1013.5" stroke="#8a8a8a" stroke-width="0.9"/>
<line x1="275.5" y1="979.5" x2="367.5" y2="979.5" stroke="#c8c8c8" stroke-width="0.9"/>
<path d="M273.3,1010.5h2.2M279.5,1013.5v2.2M274.4,1004.3h1.1M285.9,1013.5v1.1M274.4,1000.5h1.1M289.8,1013.5v1.1M274.4,998.0h1.1M292.4,1013.5v1.1M274.4,996.0h1.1M294.6,1013.5v1.1M274.4,994.3h1.1M296.3,1013.5v1.1M274.4,992.9h1.1M297.8,1013.5v1.1M274.4,991.8h1.1M298.9,1013.5v1.1M274.4,990.8h1.1M299.9,1013.5v1.1M273.3,989.8h2.2M301.0,1013.5v2.2M274.4,983.5h1.1M307.4,1013.5v1.1M274.4,979.8h1.1M311.3,1013.5v1.1M274.4,977.3h1.1M313.9,1013.5v1.1M274.4,975.2h1.1M316.1,1013.5v1.1M274.4,973.6h1.1M317.8,1013.5v1.1M274.4,972.1h1.1M319.3,1013.5v1.1M274.4,971.1h1.1M320.4,1013.5v1.1M274.4,970.0h1.1M321.4,1013.5v1.1M273.3,969.0h2.2M322.5,1013.5v2.2M274.4,962.8h1.1M328.9,1013.5v1.1M274.4,959.0h1.1M332.8,1013.5v1.1M274.4,956.5h1.1M335.4,1013.5v1.1M274.4,954.5h1.1M337.6,1013.5v1.1M274.4,952.8h1.1M339.3,1013.5v1.1M274.4,951.4h1.1M340.8,1013.5v1.1M274.4,950.3h1.1M341.9,1013.5v1.1M274.4,949.3h1.1M342.9,1013.5v1.1M273.3,948.2h2.2M344.0,1013.5v2.2M274.4,942.0h1.1M350.4,1013.5v1.1M274.4,938.3h1.1M354.3,1013.5v1.1M274.4,935.8h1.1M356.9,1013.5v1.1M274.4,933.7h1.1M359.1,1013.5v1.1M274.4,932.1h1.1M360.8,1013.5v1.1M274.4,930.6h1.1M362.3,1013.5v1.1M274.4,929.6h1.1M363.4,1013.5v1.1M274.4,928.5h1.1M364.4,1013.5v1.1M273.3,927.5h2.2M365.5,1013.5v2.2" stroke="#999" stroke-width="0.45" fill="none"/>
<text x="271.0" y="1012.1" font-size="5" fill="#555" text-anchor="end" font-family="Liberation Serif, serif">10<tspan dy="-1.6" font-size="3.4">0</tspan></text>
<text x="279.5" y="1021.7" font-size="5" fill="#555" text-anchor="middle" font-family="Liberation Serif, serif">10<tspan dy="-1.6" font-size="3.4">0</tspan></text>
<text x="271.0" y="991.4" font-size="5" fill="#555" text-anchor="end" font-family="Liberation Serif, serif">10<tspan dy="-1.6" font-size="3.4">1</tspan></text>
<text x="301.0" y="1021.7" font-size="5" fill="#555" text-anchor="middle" font-family="Liberation Serif, serif">10<tspan dy="-1.6" font-size="3.4">1</tspan></text>
<text x="271.0" y="970.6" font-size="5" fill="#555" text-anchor="end" font-family="Liberation Serif, serif">10<tspan dy="-1.6" font-size="3.4">2</tspan></text>
<text x="322.5" y="1021.7" font-size="5" fill="#555" text-anchor="middle" font-family="Liberation Serif, serif">10<tspan dy="-1.6" font-size="3.4">2</tspan></text>
<text x="271.0" y="949.9" font-size="5" fill="#555" text-anchor="end" font-family="Liberation Serif, serif">10<tspan dy="-1.6" font-size="3.4">3</tspan></text>
<text x="344.0" y="1021.7" font-size="5" fill="#555" text-anchor="middle" font-family="Liberation Serif, serif">10<tspan dy="-1.6" font-size="3.4">3</tspan></text>
<text x="271.0" y="929.1" font-size="5" fill="#555" text-anchor="end" font-family="Liberation Serif, serif">10<tspan dy="-1.6" font-size="3.4">4</tspan></text>
<text x="365.5" y="1021.7" font-size="5" fill="#555" text-anchor="middle" font-family="Liberation Serif, serif">10<tspan dy="-1.6" font-size="3.4">4</tspan></text>
<text x="318.5" y="1032.8" font-size="5.5" fill="#505050" text-anchor="middle" font-family="Liberation Serif, serif">Annexin V-FITC</text>
<text x="250.5" y="971.0" font-size="4.6" fill="#555" text-anchor="middle" font-family="Liberation Serif, serif">PI</text>
<g clip-path="url(#fc1)">
<ellipse cx="310.2" cy="998.2" rx="9.1" ry="7.0" fill="url(#fg)" transform="rotate(-38 310.2 998.2)"/>
<ellipse cx="337.2" cy="959.8" rx="11.9" ry="4.7" fill="url(#fu)"/>
<path d="M310.4,986.3h.7M303.3,1002.8h.7M308.4,994.5h.7M308.3,996.5h.7M304.8,993.0h.7M307.7,1000.4h.7M311.3,986.5h.7M306.2,1006.9h.7M309.6,1002.5h.7M306.8,997.2h.7M302.2,1009.2h.7M310.4,993.1h.7M307.8,995.0h.7M308.7,993.7h.7M310.1,995.6h.7M315.5,999.8h.7M307.0,997.5h.7M306.7,1000.3h.7M309.4,1005.9h.7M305.4,1006.7h.7M313.2,995.4h.7M308.2,999.8h.7M310.9,993.2h.7M316.3,999.1h.7M304.9,996.4h.7M308.4,997.6h.7M304.2,996.1h.7M300.5,1006.8h.7M310.9,1004.7h.7M310.9,986.4h.7M311.0,1009.0h.7M311.0,997.3h.7M311.8,988.8h.7M313.0,997.5h.7M319.2,990.9h.7M317.4,998.2h.7M305.1,999.1h.7M312.8,998.2h.7M315.7,996.7h.7M310.4,1000.6h.7M307.4,1002.5h.7M300.3,999.0h.7M313.1,1000.1h.7M298.3,998.6h.7M312.6,1000.7h.7M303.7,995.0h.7M301.6,992.0h.7M304.3,996.3h.7M317.9,996.5h.7M309.2,996.7h.7M310.3,1002.7h.7M314.5,1004.9h.7M319.0,999.1h.7M299.9,1007.9h.7M310.7,998.4h.7M318.5,994.5h.7M305.0,997.8h.7M306.8,1003.6h.7M303.4,995.9h.7M318.0,1001.5h.7M303.3,1003.9h.7M320.7,989.5h.7M315.6,999.7h.7M314.4,990.0h.7M311.1,1001.3h.7M311.9,994.2h.7M308.0,984.2h.7M298.3,1002.2h.7M310.3,995.8h.7M314.3,1000.6h.7M302.9,990.9h.7M316.4,994.5h.7M313.2,994.7h.7M299.5,1006.4h.7M312.7,995.2h.7M308.8,999.3h.7M322.4,1000.1h.7M306.0,1001.0h.7M297.0,1001.8h.7M316.4,994.1h.7M307.4,1000.8h.7M304.8,1000.9h.7M311.0,998.0h.7M309.9,1002.0h.7M313.5,1003.6h.7M323.6,999.3h.7M312.1,1001.5h.7M306.0,1007.6h.7M311.2,994.9h.7M313.7,995.9h.7M299.7,1018.2h.7M311.9,995.9h.7M307.5,999.3h.7M305.7,1002.3h.7M310.2,998.4h.7M309.4,1004.7h.7M313.3,993.7h.7M316.8,984.4h.7M310.2,995.9h.7M306.9,1002.7h.7M310.6,1002.1h.7M311.1,998.3h.7M303.0,996.6h.7M307.5,997.5h.7M316.3,999.6h.7M312.9,1003.0h.7M305.4,995.7h.7M305.6,1004.0h.7M307.8,1003.2h.7M314.8,992.6h.7M306.0,1003.2h.7M302.8,997.6h.7M311.8,995.8h.7M306.9,995.3h.7M287.1,1016.3h.7M313.7,992.7h.7M317.8,993.5h.7M305.9,1007.5h.7M316.1,998.0h.7M317.7,993.3h.7M306.0,997.0h.7M311.7,994.2h.7M310.3,997.5h.7M316.7,996.4h.7M300.3,1003.8h.7M322.0,1014.1h.7M307.1,1001.6h.7M304.9,998.7h.7M305.8,994.7h.7M316.4,990.9h.7M318.2,1007.0h.7M305.1,998.5h.7M310.1,997.6h.7M313.4,997.3h.7M311.6,1000.4h.7M303.9,997.5h.7M310.5,1003.5h.7M315.1,996.9h.7M307.4,1001.8h.7M304.0,1001.0h.7M315.8,997.8h.7M314.9,996.4h.7M317.9,993.0h.7M307.8,1001.9h.7M311.2,1005.3h.7M289.6,995.5h.7M316.6,996.3h.7M305.1,997.3h.7M312.2,999.7h.7M310.6,1009.3h.7M317.2,1000.5h.7M317.7,1000.0h.7M306.7,1004.6h.7M313.6,1006.6h.7M308.7,1004.4h.7M301.0,999.2h.7M306.2,1002.4h.7M308.9,996.9h.7M305.7,988.8h.7M303.1,995.1h.7M311.6,1000.0h.7M311.3,1001.4h.7M303.8,995.5h.7M314.0,997.5h.7M310.9,1003.3h.7M312.3,1006.6h.7M314.2,995.8h.7M306.1,1003.7h.7M314.5,995.6h.7M311.9,994.9h.7M314.6,988.0h.7M312.1,996.1h.7M309.4,998.6h.7M321.6,1010.6h.7M314.2,988.0h.7M311.2,998.2h.7M309.0,999.3h.7M315.8,991.7h.7M310.2,998.5h.7M313.6,1002.4h.7M308.7,1005.2h.7M310.9,993.4h.7M306.4,1012.9h.7M307.7,1001.1h.7M311.1,1001.1h.7M310.7,1001.8h.7M318.0,993.8h.7M315.1,999.5h.7M315.6,993.2h.7M311.1,995.8h.7M303.2,1003.7h.7M309.3,996.0h.7M312.1,1003.7h.7M319.8,1000.9h.7M309.4,1003.7h.7M311.7,997.7h.7M314.2,998.5h.7M304.9,999.9h.7M315.9,995.0h.7M309.4,998.0h.7M313.9,990.0h.7M315.9,997.0h.7M306.7,999.3h.7M313.5,992.5h.7M306.4,999.1h.7M306.9,985.7h.7M320.2,994.3h.7M311.8,992.1h.7M313.4,995.8h.7M306.9,1001.6h.7M309.8,1009.9h.7M303.4,993.5h.7M306.5,1002.1h.7M307.3,1004.4h.7M311.0,997.4h.7M311.4,999.6h.7M316.9,994.2h.7M300.1,1000.3h.7M301.8,1002.3h.7M310.9,1001.0h.7M317.3,999.5h.7M305.7,1001.1h.7M309.4,989.7h.7M306.5,995.0h.7M306.7,1000.2h.7M305.9,995.6h.7M289.3,996.9h.7M311.0,1010.4h.7M304.7,1006.7h.7M325.4,998.9h.7M310.6,993.6h.7M308.3,991.4h.7M310.6,1004.5h.7M305.3,995.6h.7M298.6,997.0h.7M315.4,996.1h.7M305.2,998.6h.7M305.5,1003.4h.7M310.0,994.1h.7M302.2,999.3h.7M308.5,997.7h.7M319.2,988.2h.7M315.4,989.3h.7M315.1,992.3h.7M309.7,994.1h.7M318.7,995.2h.7M318.8,995.3h.7M318.7,1001.5h.7M306.8,1001.0h.7M311.4,996.3h.7M300.7,1004.6h.7M317.6,991.7h.7M316.1,988.4h.7M314.1,1012.2h.7M307.2,997.3h.7M316.6,1000.7h.7M314.0,996.7h.7M312.5,986.9h.7M306.9,1003.9h.7M317.5,992.6h.7M309.2,997.4h.7M306.3,998.9h.7M311.2,996.7h.7M308.2,999.8h.7M311.4,1000.6h.7M307.8,1000.6h.7M305.6,994.5h.7M311.6,999.5h.7M309.0,994.0h.7M301.4,1008.5h.7M315.2,1000.7h.7M312.7,993.2h.7M307.0,1008.1h.7M317.7,999.1h.7M313.7,1002.6h.7M306.7,1003.5h.7M315.1,997.7h.7M309.3,997.1h.7M312.6,1000.9h.7M304.4,993.3h.7M314.7,996.2h.7M311.6,1001.5h.7M311.7,994.9h.7M313.1,1001.8h.7M305.0,1000.9h.7M311.2,998.2h.7M314.1,1005.6h.7M317.5,993.5h.7M325.3,996.9h.7M303.6,998.5h.7M316.6,1002.2h.7M307.9,1000.0h.7M303.3,998.9h.7M305.4,1000.2h.7M308.9,992.8h.7M310.5,998.6h.7M313.1,1006.8h.7M312.3,995.4h.7M311.2,997.1h.7M319.9,998.3h.7M317.7,992.5h.7M308.6,1003.4h.7M305.8,1003.6h.7M309.5,1000.8h.7M306.7,1000.5h.7M305.1,1004.3h.7M308.5,994.1h.7M304.3,991.8h.7M320.5,1000.3h.7M301.9,991.6h.7M307.7,1003.6h.7M309.5,1004.2h.7M314.0,995.7h.7M308.9,1000.7h.7M304.9,1008.9h.7M308.3,999.9h.7M305.5,999.7h.7M311.5,1001.3h.7M306.8,992.9h.7M314.4,985.5h.7M315.6,998.0h.7M319.4,998.7h.7M311.5,1002.5h.7M304.6,992.6h.7M313.2,998.6h.7M316.7,984.8h.7M308.8,1001.8h.7M311.5,994.4h.7M308.1,996.8h.7M308.2,1002.7h.7M304.4,994.4h.7M306.5,995.6h.7M327.3,992.2h.7M313.2,999.3h.7M305.2,997.7h.7M298.2,1004.9h.7M316.7,993.1h.7M307.0,999.3h.7M320.9,1000.3h.7M306.9,994.0h.7M315.2,1001.0h.7M314.9,981.9h.7M307.9,998.7h.7M314.7,996.8h.7M306.2,996.8h.7M314.4,999.9h.7M316.5,998.6h.7M311.4,1013.4h.7M309.3,1002.1h.7M309.2,994.9h.7M313.2,989.5h.7M313.2,996.1h.7M306.5,998.1h.7M313.6,994.7h.7M321.3,999.4h.7M313.1,999.0h.7M315.7,1004.2h.7M314.9,993.5h.7M303.9,999.5h.7M303.2,1006.4h.7M316.1,990.5h.7M312.9,1002.8h.7M312.9,986.6h.7M312.9,995.9h.7M311.6,993.7h.7M307.8,1002.4h.7M313.1,1011.5h.7M313.1,1003.4h.7M306.5,998.9h.7M312.0,997.6h.7M312.3,1002.2h.7M319.6,999.9h.7M305.0,1004.5h.7M307.3,997.1h.7M314.5,998.9h.7M314.9,1000.9h.7M308.1,996.1h.7M300.1,1012.4h.7M317.8,1001.0h.7M308.1,997.2h.7M312.6,1000.7h.7M316.2,994.0h.7M312.1,992.4h.7M314.9,1005.6h.7M311.4,1001.0h.7M305.3,1007.2h.7M322.7,1003.3h.7M311.7,998.8h.7M307.5,996.9h.7M306.2,997.0h.7M316.2,1006.2h.7M305.8,1004.1h.7M307.5,1005.1h.7M306.5,996.3h.7M311.7,979.8h.7M310.5,1000.1h.7M304.4,998.1h.7M316.1,992.6h.7M314.9,996.6h.7M311.0,997.0h.7M307.1,997.5h.7M310.0,995.4h.7M316.8,999.2h.7M309.5,1001.4h.7M306.4,992.0h.7M310.2,1004.8h.7M305.5,1003.0h.7M296.5,1007.6h.7M303.0,998.7h.7M311.0,998.3h.7M310.9,998.9h.7M316.0,996.6h.7M309.3,988.0h.7M310.4,989.7h.7M302.4,999.1h.7M314.4,1005.9h.7M310.7,1004.8h.7M315.1,995.5h.7M307.8,997.5h.7M313.7,998.5h.7M312.9,1000.7h.7M303.3,997.3h.7M322.3,1002.8h.7M304.9,1001.6h.7M308.0,1001.3h.7M306.8,998.7h.7M299.1,998.1h.7M306.5,1000.5h.7M316.0,991.2h.7M312.1,996.7h.7M303.8,1004.3h.7M313.6,989.8h.7M312.0,996.1h.7M312.7,992.1h.7M306.1,999.0h.7M313.7,995.7h.7M304.6,997.1h.7M310.4,1015.8h.7M313.5,990.9h.7M312.8,988.8h.7M309.3,1000.6h.7M303.5,999.0h.7M308.8,999.2h.7M320.1,990.1h.7M307.5,1000.5h.7M308.7,1010.5h.7M320.0,997.8h.7M317.2,996.7h.7M317.8,994.6h.7M316.3,1005.1h.7M319.0,1007.3h.7M307.3,995.2h.7M298.4,1009.7h.7M316.2,991.4h.7M309.1,1000.5h.7M303.7,990.1h.7M308.7,992.5h.7M305.7,1007.0h.7M321.2,998.0h.7M306.8,995.2h.7M307.6,999.1h.7M314.9,997.1h.7M305.2,1000.3h.7M317.3,996.0h.7M313.9,993.3h.7M308.0,1008.2h.7M312.4,996.6h.7M313.5,997.6h.7M312.2,992.8h.7M309.5,997.6h.7M305.5,1002.2h.7M319.6,992.8h.7M312.4,1001.4h.7M304.0,994.8h.7M318.1,998.6h.7M311.4,992.5h.7M309.4,1002.1h.7M309.0,998.9h.7M313.2,980.7h.7M308.3,1000.5h.7M309.0,1006.4h.7M301.3,1002.3h.7M314.5,999.0h.7M315.7,1002.5h.7M311.9,993.3h.7M310.2,999.5h.7M311.4,993.5h.7M314.3,996.8h.7M309.1,1005.4h.7M299.9,992.9h.7M312.3,996.1h.7M317.2,997.6h.7M311.1,1003.4h.7M316.5,998.7h.7M302.4,995.7h.7M308.5,990.2h.7M315.7,998.3h.7M304.0,1005.8h.7M309.3,998.4h.7M315.6,993.3h.7M304.6,1002.9h.7M303.5,1006.6h.7M308.5,1002.9h.7M315.9,998.5h.7M307.4,1003.4h.7M307.2,998.7h.7M311.1,994.3h.7M316.5,998.9h.7M314.3,993.2h.7M304.2,998.9h.7M315.3,999.8h.7M312.5,988.3h.7M302.5,1008.0h.7M314.2,994.2h.7M309.4,995.5h.7M305.3,1007.8h.7M323.0,993.4h.7M307.3,997.0h.7M310.0,994.0h.7M313.8,996.2h.7M314.7,994.2h.7M320.0,998.7h.7M308.7,997.3h.7M306.4,996.7h.7M311.9,1000.0h.7M309.3,995.1h.7M319.8,986.6h.7M305.9,1000.0h.7M317.6,996.6h.7M310.1,999.9h.7M310.7,1002.2h.7M306.5,994.8h.7M316.7,1005.2h.7M313.4,997.2h.7M310.1,992.9h.7M311.1,996.9h.7M309.3,998.7h.7M311.7,994.0h.7M312.5,992.0h.7M319.7,996.0h.7M313.1,1000.4h.7M319.0,1003.0h.7M309.2,995.9h.7M317.6,997.9h.7M314.2,1008.0h.7M311.8,1001.2h.7M305.9,996.5h.7M309.7,1003.3h.7M303.3,994.8h.7M313.9,990.7h.7M314.8,1004.1h.7M312.1,996.6h.7M314.9,993.4h.7M303.4,998.1h.7M296.9,1011.1h.7M306.2,993.0h.7M309.4,991.1h.7M314.7,996.9h.7M308.8,1001.1h.7M310.7,994.1h.7M312.4,994.7h.7M307.2,998.9h.7M313.0,995.4h.7M322.2,983.8h.7M302.3,994.1h.7M298.8,1004.2h.7M321.3,991.7h.7M307.8,990.1h.7M306.2,1003.5h.7M325.0,993.8h.7M311.7,1008.7h.7M312.1,992.8h.7M313.7,997.2h.7M315.8,1000.7h.7M311.9,995.0h.7M314.6,995.1h.7M305.9,996.7h.7M321.0,992.2h.7M309.9,996.5h.7M319.7,991.9h.7M311.2,1007.6h.7M312.5,1001.7h.7M313.3,1002.3h.7M322.3,989.7h.7M313.6,991.9h.7M303.7,999.3h.7M307.1,995.3h.7M315.0,999.9h.7M315.7,998.2h.7M310.5,1002.9h.7M310.5,993.5h.7M310.0,998.9h.7M302.7,997.1h.7M317.5,993.4h.7M307.6,1000.7h.7M306.9,998.4h.7M317.4,1006.8h.7M312.8,999.3h.7M317.2,1000.7h.7M300.0,1008.4h.7M306.1,1002.8h.7M307.8,1008.2h.7M304.4,998.6h.7M308.7,997.4h.7M319.1,1001.4h.7M306.3,988.2h.7M306.0,995.8h.7M315.7,993.7h.7M318.0,997.5h.7M320.2,1000.0h.7M315.9,999.8h.7M317.6,994.4h.7M309.3,1000.4h.7M307.6,996.7h.7M301.7,1001.1h.7M310.1,999.0h.7M308.9,1002.7h.7M310.0,998.1h.7M318.6,998.0h.7M311.6,994.5h.7M311.5,1002.8h.7M305.5,983.9h.7M304.6,994.8h.7M303.2,1000.3h.7M311.6,1002.9h.7M315.3,990.8h.7M312.3,992.3h.7M312.1,997.9h.7M316.9,997.6h.7M307.8,997.2h.7M312.6,999.3h.7M306.1,984.0h.7M310.1,1003.8h.7M312.5,999.8h.7M313.8,1009.1h.7M312.8,998.2h.7M309.1,996.0h.7M315.0,997.8h.7M312.8,991.4h.7M310.0,991.3h.7M306.8,998.5h.7M327.6,989.9h.7M309.1,997.2h.7M304.7,1000.2h.7M312.4,992.7h.7M317.3,996.1h.7M302.6,995.3h.7M306.7,1001.4h.7M311.3,1000.5h.7M307.6,998.7h.7M312.7,995.1h.7M312.8,1011.5h.7M323.7,991.4h.7M318.8,991.3h.7M307.7,1004.2h.7M316.3,995.9h.7M303.9,984.1h.7M310.9,1009.1h.7M310.6,1003.5h.7M317.8,993.8h.7M305.9,990.1h.7M312.0,995.6h.7M325.6,991.3h.7M311.4,993.1h.7M303.4,998.2h.7M313.8,999.4h.7M317.7,995.3h.7M309.0,995.0h.7M317.0,994.6h.7M303.7,994.7h.7M306.0,991.7h.7M313.8,993.3h.7M318.8,993.0h.7M308.6,1000.7h.7M300.0,999.1h.7M305.4,1007.1h.7M307.1,994.2h.7M309.6,997.5h.7M306.5,998.1h.7M304.6,993.3h.7M303.7,999.9h.7M305.2,1003.1h.7M314.2,1004.2h.7M314.6,994.6h.7M305.1,997.7h.7M311.6,999.3h.7M319.1,989.9h.7M309.7,995.3h.7M307.3,1002.5h.7M312.5,992.7h.7M313.8,995.0h.7M303.7,995.4h.7M307.1,987.8h.7M310.0,998.4h.7M318.0,996.5h.7M310.7,998.6h.7M302.4,989.0h.7M304.5,998.7h.7M322.2,995.5h.7M311.7,1002.9h.7M303.8,993.2h.7M304.5,991.3h.7M313.6,991.1h.7M314.8,1000.1h.7M303.9,996.6h.7M305.9,998.0h.7M298.2,999.5h.7M305.5,995.2h.7M314.9,992.8h.7M309.4,994.7h.7M314.3,990.1h.7M303.9,1001.1h.7M295.4,999.9h.7M313.8,999.3h.7M299.1,1011.2h.7M307.4,996.3h.7M315.8,995.0h.7M311.6,999.3h.7M304.0,994.2h.7M300.9,992.1h.7M309.8,1006.9h.7M310.7,998.7h.7M315.2,996.6h.7M309.4,1009.1h.7M307.1,998.9h.7M307.2,999.2h.7M308.0,992.4h.7M303.0,997.3h.7M313.2,999.7h.7M309.3,1013.6h.7M310.9,993.9h.7M319.7,989.7h.7M309.6,998.7h.7M305.7,999.3h.7M308.1,1006.1h.7M308.9,997.5h.7M312.0,999.9h.7M308.7,997.5h.7M310.9,1003.5h.7M316.9,1000.3h.7M304.7,1001.6h.7M310.3,1003.7h.7M308.2,999.3h.7M310.6,996.8h.7M322.6,986.9h.7M305.8,1003.2h.7M316.4,1000.6h.7M307.5,995.9h.7M307.1,1001.1h.7M312.2,999.8h.7M304.3,1005.4h.7M309.8,1005.5h.7M314.3,998.9h.7M307.7,987.6h.7M317.8,1004.4h.7M318.2,999.0h.7M303.9,998.7h.7M299.4,1002.8h.7M308.1,993.9h.7M311.0,998.5h.7M313.9,1001.1h.7M310.4,995.6h.7M306.0,996.3h.7M310.5,1007.7h.7M313.0,991.5h.7M314.3,995.7h.7M309.5,997.8h.7M312.4,1002.3h.7M314.6,1002.1h.7M308.4,997.8h.7M308.2,1000.0h.7M307.5,993.1h.7M307.2,1002.3h.7M312.3,998.3h.7M310.0,996.5h.7M302.8,1004.0h.7M316.1,994.1h.7M303.8,993.7h.7M308.5,1000.4h.7M306.7,1000.6h.7M310.0,1003.3h.7M311.2,1002.0h.7M315.4,988.1h.7M309.6,1007.5h.7M313.5,993.5h.7M310.7,1004.3h.7M310.1,999.2h.7M322.7,992.5h.7M310.5,992.1h.7M309.6,1002.9h.7M306.5,1001.0h.7M307.5,1002.1h.7M310.2,998.6h.7M318.3,998.2h.7M317.5,996.8h.7M309.3,995.6h.7M304.9,997.5h.7M314.8,1009.3h.7M312.3,999.6h.7M314.0,994.9h.7M309.6,1000.9h.7M301.4,1001.3h.7M309.0,1003.4h.7M304.5,993.2h.7M306.1,997.3h.7M317.9,996.6h.7M318.7,993.8h.7M303.9,999.1h.7M306.6,997.9h.7M302.8,997.8h.7M308.7,997.1h.7M306.6,998.7h.7M312.3,1004.0h.7M311.2,997.8h.7M314.2,991.0h.7M306.1,991.2h.7M315.0,998.9h.7M307.5,998.3h.7M314.4,993.0h.7M312.2,997.5h.7M314.2,1002.3h.7M307.1,1001.5h.7M299.9,999.2h.7M318.3,999.4h.7M306.2,998.1h.7M305.9,998.5h.7M308.1,991.2h.7M314.3,1000.2h.7M311.1,998.9h.7M306.1,1000.2h.7M308.4,998.8h.7M304.0,1004.8h.7M315.2,1000.9h.7M314.2,1000.4h.7M315.0,999.5h.7M307.1,998.5h.7M317.4,991.7h.7M316.6,1009.0h.7M301.9,1002.2h.7M306.9,995.7h.7M304.3,1001.2h.7M304.5,1000.5h.7M313.6,1001.3h.7M303.9,997.2h.7M311.8,995.5h.7M302.5,995.3h.7M311.6,992.0h.7M312.6,999.3h.7M303.2,998.4h.7M310.3,1000.5h.7M309.1,1002.7h.7M309.5,998.0h.7M315.4,995.3h.7M314.6,998.0h.7M313.1,998.6h.7M304.2,991.8h.7M317.9,1006.5h.7M306.8,993.6h.7M307.0,995.2h.7M313.1,986.3h.7M307.2,1002.1h.7M315.7,995.4h.7M311.3,1001.9h.7M310.0,1002.0h.7M305.6,1001.5h.7M312.3,1000.0h.7M312.0,1005.2h.7M310.7,1000.7h.7M296.9,1004.2h.7M321.7,992.4h.7M314.1,993.4h.7M309.0,995.6h.7M318.0,991.7h.7M310.9,997.6h.7M305.8,1003.3h.7M316.3,998.0h.7M306.5,1003.1h.7M309.0,996.5h.7M312.3,997.6h.7M311.2,1006.5h.7M312.6,1004.0h.7M302.6,999.0h.7M312.9,1001.7h.7M306.0,1006.4h.7M314.1,990.0h.7M302.9,1001.6h.7M317.0,995.2h.7M313.9,999.2h.7M305.3,1004.3h.7M306.0,1003.4h.7M305.2,1002.4h.7M299.7,996.4h.7M304.5,1001.5h.7M311.3,991.2h.7M314.8,997.7h.7M311.0,997.4h.7M316.8,990.9h.7M315.4,995.6h.7M334.8,960.4h.7M325.0,958.1h.7M343.7,959.0h.7M340.1,964.2h.7M341.9,963.3h.7M347.6,958.0h.7M340.0,961.0h.7M350.3,961.8h.7M329.3,959.8h.7M345.7,956.2h.7M338.7,957.8h.7M333.4,959.7h.7M338.2,962.0h.7M338.8,962.0h.7M343.1,960.7h.7M327.8,959.2h.7M339.2,963.6h.7M335.9,959.6h.7M334.2,960.7h.7M330.6,955.2h.7M322.3,955.0h.7M338.8,962.5h.7M346.4,956.6h.7M334.0,962.9h.7M330.1,963.2h.7M325.2,959.5h.7M329.3,959.4h.7M337.9,956.2h.7M336.7,957.2h.7M338.0,957.3h.7M338.3,958.0h.7M344.5,961.5h.7M359.0,957.2h.7M330.2,958.3h.7M342.5,958.4h.7M332.9,957.0h.7M329.7,961.3h.7M343.9,959.3h.7M324.3,955.5h.7M336.0,958.9h.7M335.1,963.3h.7M331.0,959.1h.7M343.5,958.1h.7M327.3,959.9h.7M342.0,964.0h.7M325.1,955.8h.7M330.3,966.5h.7M345.0,963.3h.7M317.7,953.7h.7M335.5,957.3h.7M334.0,955.1h.7M339.8,962.0h.7M341.1,958.6h.7M347.4,962.9h.7M337.6,957.0h.7M346.8,960.1h.7M332.8,958.0h.7M332.5,959.3h.7M334.1,959.5h.7M330.0,957.2h.7M336.4,960.9h.7M342.1,957.6h.7M333.7,957.1h.7M345.5,956.9h.7M340.8,960.7h.7M347.4,959.0h.7M340.7,958.4h.7M332.2,957.7h.7M339.8,955.7h.7M344.3,960.9h.7M332.8,966.7h.7M334.4,962.4h.7M330.2,960.9h.7M342.9,964.1h.7M334.0,962.4h.7M333.8,958.0h.7M335.1,960.4h.7M342.0,955.6h.7M343.6,961.8h.7M336.5,958.6h.7M339.6,958.8h.7M343.0,954.4h.7M351.9,959.9h.7M330.5,959.0h.7M336.8,959.6h.7M337.1,957.3h.7M328.8,959.1h.7M350.1,954.2h.7M340.1,958.7h.7M340.0,957.8h.7M333.6,961.0h.7M316.9,957.6h.7M344.9,961.8h.7M330.3,959.1h.7M321.2,961.7h.7M338.4,960.3h.7M349.1,958.9h.7M321.7,957.7h.7M348.8,957.9h.7M340.1,963.1h.7M335.1,964.9h.7M335.3,956.6h.7M338.2,958.6h.7M334.0,959.7h.7M341.5,955.7h.7M344.5,954.2h.7M327.4,965.5h.7M351.2,961.6h.7M329.7,959.3h.7M344.3,963.5h.7M323.9,955.4h.7M341.9,959.2h.7M348.2,958.9h.7M339.5,961.5h.7M341.7,966.4h.7M342.0,960.2h.7M336.9,959.7h.7M333.2,959.0h.7M325.7,961.0h.7M339.1,957.3h.7M339.2,953.9h.7M349.7,955.5h.7M338.7,955.9h.7M336.9,957.1h.7M322.4,960.5h.7M340.2,960.9h.7M333.3,959.4h.7M340.0,956.8h.7M326.8,958.7h.7M340.6,961.5h.7M341.1,961.2h.7M333.9,960.2h.7M332.6,958.2h.7M343.5,960.5h.7M329.7,958.4h.7M337.6,959.8h.7M330.4,960.8h.7M341.6,962.8h.7M329.8,963.2h.7M335.8,959.9h.7M332.8,962.9h.7M349.6,964.1h.7M332.4,956.9h.7M338.5,962.6h.7M343.5,958.2h.7M331.4,961.3h.7M344.7,961.3h.7M348.3,959.1h.7M329.6,958.6h.7M332.6,958.8h.7M330.4,957.8h.7M336.3,958.8h.7M336.7,959.1h.7M349.5,957.7h.7M320.6,961.3h.7M334.0,957.2h.7M334.8,960.9h.7M335.5,962.5h.7M343.1,961.0h.7M327.9,962.0h.7M328.9,955.5h.7M340.5,957.5h.7M337.1,963.2h.7M316.1,960.2h.7M343.4,959.9h.7M342.5,958.3h.7M342.4,957.5h.7M350.7,961.1h.7M348.6,958.6h.7M339.1,961.3h.7M336.9,962.8h.7M336.6,961.0h.7M339.5,957.1h.7M330.5,961.5h.7M335.8,965.7h.7M334.6,957.2h.7M343.0,956.0h.7M341.1,957.6h.7M337.8,957.8h.7M349.2,960.1h.7M338.8,959.9h.7M330.2,956.5h.7M342.4,960.3h.7M337.3,956.1h.7M336.3,962.4h.7M343.3,960.2h.7M342.6,960.3h.7M348.8,954.9h.7M340.1,961.6h.7M350.0,960.0h.7M328.8,963.4h.7M334.1,958.7h.7M337.8,959.4h.7M335.6,959.9h.7M355.9,966.1h.7M342.0,960.0h.7M330.8,957.6h.7M333.3,962.3h.7M347.9,958.5h.7M333.2,957.1h.7M334.6,964.4h.7M341.1,961.9h.7M330.1,963.7h.7M341.8,965.3h.7M334.0,957.1h.7M346.6,958.8h.7M343.2,957.8h.7M339.8,960.2h.7M327.4,961.2h.7M326.6,964.3h.7M334.8,956.9h.7M333.7,952.2h.7M344.8,960.8h.7M334.8,960.2h.7M330.4,957.9h.7M336.5,953.5h.7M325.3,958.3h.7M339.9,963.7h.7M330.4,961.6h.7M326.0,961.3h.7M329.0,961.2h.7M323.6,958.4h.7M344.4,960.1h.7M331.3,960.0h.7M335.0,960.6h.7M323.1,960.2h.7M341.4,955.8h.7M339.6,958.0h.7M345.8,961.4h.7M344.9,962.2h.7M336.5,960.0h.7M342.7,957.6h.7M334.9,958.6h.7M334.1,959.0h.7M337.2,958.3h.7M338.3,960.9h.7M341.7,958.6h.7M328.3,957.0h.7M319.8,959.8h.7M342.6,961.8h.7M328.3,958.4h.7M333.9,958.5h.7M338.8,959.9h.7M333.1,956.8h.7M330.5,959.6h.7M334.1,958.5h.7M344.6,962.0h.7M339.0,960.5h.7M335.0,958.5h.7M333.1,957.4h.7M329.4,959.4h.7M327.1,961.1h.7M338.8,959.2h.7M327.9,959.1h.7M336.5,956.9h.7M337.5,956.8h.7M331.7,962.0h.7M347.7,958.2h.7M336.9,956.5h.7M338.4,957.5h.7M334.5,961.1h.7M323.4,957.4h.7M343.9,958.5h.7M343.0,962.8h.7M333.7,959.3h.7M343.5,959.3h.7M345.2,958.8h.7M324.6,962.1h.7M331.8,962.7h.7M337.4,955.2h.7M336.9,960.9h.7M344.4,959.0h.7M334.3,963.8h.7M336.0,955.0h.7M327.9,966.7h.7M338.0,958.1h.7M334.7,956.6h.7M337.4,960.6h.7M343.2,958.1h.7M334.4,961.9h.7M330.9,958.0h.7M326.8,957.8h.7M341.9,961.1h.7M332.3,957.5h.7M322.1,960.3h.7M326.8,960.6h.7M339.8,956.5h.7M337.3,955.9h.7M345.1,957.6h.7M334.8,960.9h.7M338.4,961.2h.7M337.9,956.9h.7M330.6,964.7h.7M341.4,957.6h.7M336.4,960.7h.7M334.3,961.6h.7M329.4,958.0h.7M339.1,960.1h.7M340.5,962.5h.7M339.3,957.6h.7M332.3,959.9h.7M335.4,961.1h.7M323.6,955.2h.7M337.8,958.2h.7M346.0,960.1h.7M340.4,957.0h.7M333.5,961.8h.7M337.3,956.4h.7M333.2,960.5h.7M350.6,962.0h.7M333.6,970.2h.7M332.3,960.7h.7M327.7,973.9h.7M344.1,975.4h.7M323.6,948.9h.7M317.2,949.0h.7M340.3,961.1h.7M337.2,955.1h.7M335.9,958.3h.7M343.0,964.0h.7M343.4,952.8h.7M334.3,958.5h.7M347.3,953.7h.7M359.8,968.4h.7M336.6,955.2h.7M346.3,956.8h.7M344.9,957.0h.7M342.3,962.0h.7M337.8,965.4h.7M327.4,965.5h.7M354.1,955.1h.7M342.4,947.2h.7M343.3,963.9h.7M342.5,963.7h.7M344.0,956.8h.7M332.5,953.6h.7M343.7,955.7h.7M345.8,973.2h.7M322.5,967.2h.7M331.7,960.4h.7M329.4,960.5h.7M347.0,959.9h.7M348.0,952.1h.7M319.6,954.4h.7M342.7,961.2h.7M330.6,961.1h.7M341.4,943.8h.7M326.9,957.0h.7M334.8,943.1h.7M336.2,976.1h.7M342.5,957.7h.7M351.6,950.3h.7M321.0,959.0h.7M344.6,958.5h.7M335.5,963.0h.7M324.5,973.4h.7M332.9,981.4h.7M339.9,959.7h.7M354.8,964.2h.7M324.4,976.1h.7M326.2,961.8h.7M329.8,962.8h.7M349.5,965.4h.7M343.6,950.0h.7M339.1,974.5h.7M325.5,951.9h.7M329.3,966.2h.7M332.0,979.4h.7M333.3,966.8h.7M334.3,967.4h.7M341.0,952.6h.7M330.4,958.1h.7M320.2,952.9h.7M347.1,954.5h.7M327.2,950.1h.7M322.6,972.5h.7M365.4,958.7h.7M343.3,958.1h.7M345.9,950.4h.7M332.0,967.9h.7M330.6,968.8h.7M353.5,959.0h.7M329.3,964.9h.7M336.8,952.2h.7M332.7,953.2h.7M324.6,946.8h.7M334.0,966.7h.7M346.9,955.5h.7M337.3,962.4h.7M321.0,965.0h.7M328.0,961.7h.7M343.5,964.2h.7M331.4,954.1h.7M339.3,957.2h.7M338.0,963.9h.7M349.7,942.5h.7M331.2,970.1h.7M322.9,960.2h.7M334.1,948.6h.7M338.3,954.2h.7M329.6,969.4h.7M318.0,963.1h.7M341.0,964.2h.7M343.1,950.8h.7M329.8,958.7h.7M347.1,962.1h.7M341.4,952.2h.7M340.3,954.6h.7M337.8,959.2h.7M340.4,957.4h.7M355.7,963.9h.7M327.6,950.1h.7M342.7,954.5h.7M338.9,969.8h.7M337.5,979.9h.7M329.9,986.8h.7M326.9,977.9h.7M335.8,983.8h.7M329.1,999.7h.7M337.7,981.4h.7M331.4,986.0h.7M336.6,982.2h.7M334.5,980.6h.7M332.4,995.1h.7M333.9,985.9h.7M332.0,996.0h.7M336.1,987.3h.7M338.2,1001.0h.7M330.0,989.7h.7M331.4,998.4h.7M335.5,996.3h.7M331.4,986.4h.7M338.1,972.6h.7M333.4,987.5h.7M332.4,993.3h.7M339.9,981.8h.7M336.5,989.4h.7M345.1,989.9h.7M338.9,976.1h.7M329.6,988.7h.7M340.0,986.6h.7M334.8,997.0h.7M337.3,976.9h.7M334.0,982.5h.7M335.4,991.1h.7M335.0,999.0h.7M336.5,986.4h.7M339.3,985.4h.7M340.0,999.5h.7M343.5,985.4h.7M335.0,989.7h.7M330.8,987.1h.7M334.4,986.5h.7M337.9,992.2h.7M332.3,987.9h.7M333.0,991.6h.7M338.7,989.6h.7M334.9,972.0h.7M330.8,988.4h.7M335.8,988.3h.7M338.2,976.5h.7M334.3,986.9h.7M326.1,988.8h.7M335.5,994.2h.7M334.9,978.7h.7M328.3,999.0h.7M327.9,982.4h.7M323.6,1001.2h.7M339.8,990.4h.7M331.2,986.5h.7M330.5,991.6h.7M335.2,989.1h.7M336.4,990.1h.7M334.7,984.3h.7M338.8,988.9h.7M331.1,994.0h.7M333.5,983.8h.7M338.5,993.0h.7M326.7,977.3h.7M335.9,997.2h.7M331.0,979.0h.7M339.6,991.9h.7M336.6,995.4h.7M337.3,982.3h.7M333.0,994.9h.7M338.9,1000.3h.7M336.4,972.7h.7M337.6,983.6h.7M337.6,987.8h.7M332.4,989.3h.7M332.0,979.8h.7M337.9,987.5h.7M334.0,988.3h.7M333.2,988.6h.7M334.4,984.8h.7M336.4,988.6h.7M334.8,987.5h.7M320.8,968.3h.7M323.3,992.8h.7M316.2,995.7h.7M317.0,1000.6h.7M335.2,966.6h.7M310.2,980.9h.7M320.8,992.6h.7M333.9,967.2h.7M324.0,989.0h.7M320.5,974.0h.7M328.5,967.9h.7M332.4,968.3h.7M335.2,962.3h.7M334.7,960.1h.7M310.7,993.1h.7M333.2,966.1h.7M331.6,967.6h.7M326.0,974.4h.7M322.8,994.5h.7M322.4,980.8h.7M315.7,997.2h.7M326.8,978.7h.7M324.7,988.7h.7M307.7,989.2h.7M313.2,997.5h.7M328.2,973.9h.7M324.9,985.9h.7M324.6,984.5h.7M329.4,965.4h.7M324.4,972.8h.7M338.5,963.2h.7M335.8,966.8h.7M337.5,958.6h.7M315.4,983.9h.7M333.3,974.2h.7M324.3,973.2h.7M309.5,1001.5h.7M310.7,982.2h.7M321.3,976.1h.7M316.8,976.7h.7M331.0,962.6h.7M333.7,961.4h.7M334.9,958.3h.7M309.0,991.8h.7M338.6,957.9h.7M321.2,988.7h.7M319.9,989.0h.7M322.0,985.3h.7M315.4,981.2h.7M315.6,985.1h.7M327.0,981.8h.7M312.6,989.5h.7M316.9,987.9h.7M337.2,952.7h.7M313.7,986.4h.7M333.9,976.2h.7M335.8,979.2h.7M327.4,974.8h.7M316.0,978.3h.7M313.2,992.0h.7M317.7,982.6h.7M338.3,965.9h.7M319.9,992.4h.7M337.7,966.3h.7M331.3,965.3h.7M311.1,973.2h.7M325.2,980.1h.7M337.8,965.7h.7M311.7,986.3h.7M313.3,993.4h.7M327.0,978.4h.7M323.7,979.9h.7M328.1,995.6h.7M323.3,975.5h.7M314.7,974.9h.7M333.5,977.1h.7M313.6,999.7h.7M315.4,987.1h.7M326.6,988.7h.7M338.6,964.9h.7M315.5,1006.5h.7M329.8,967.2h.7M335.5,979.2h.7M325.0,978.1h.7M316.4,996.5h.7M328.3,977.9h.7M322.0,969.1h.7M313.4,990.3h.7" stroke="#f02020" stroke-width="0.7" fill="none" opacity="0.4" filter="url(#fb)"/>
<path d="M310.2,998.3h.7M309.5,993.3h.7M310.7,993.1h.7M317.9,999.0h.7M307.1,996.9h.7M307.3,998.0h.7M303.4,1013.2h.7M303.8,1000.6h.7M308.3,998.1h.7M307.9,998.9h.7M312.8,999.3h.7M309.8,997.7h.7M316.3,996.0h.7M308.8,1000.3h.7M317.4,997.2h.7M319.1,992.9h.7M314.6,991.6h.7M311.8,1004.7h.7M311.3,1002.2h.7M301.3,992.5h.7M306.9,1002.7h.7M310.0,996.2h.7M305.6,1008.2h.7M314.7,997.8h.7M305.9,997.2h.7M304.1,995.2h.7M310.7,996.4h.7M320.6,985.8h.7M304.3,1002.9h.7M319.2,1002.0h.7M312.5,996.1h.7M324.5,996.0h.7M306.5,1001.5h.7M300.0,999.8h.7M318.8,995.9h.7M312.5,1002.7h.7M310.1,1003.0h.7M312.1,994.3h.7M312.1,998.8h.7M320.4,996.5h.7M302.8,992.0h.7M313.5,990.8h.7M310.2,991.2h.7M306.8,993.4h.7M309.2,1000.3h.7M320.4,995.2h.7M308.1,1000.5h.7M312.6,993.0h.7M311.2,990.8h.7M311.9,995.9h.7M310.0,1000.0h.7M308.9,1000.3h.7M311.8,993.0h.7M303.7,1011.8h.7M301.5,997.4h.7M315.8,999.4h.7M309.2,1000.7h.7M302.5,995.5h.7M308.3,999.6h.7M306.0,988.6h.7M311.1,996.7h.7M308.3,994.9h.7M310.9,995.8h.7M309.6,998.7h.7M313.6,998.1h.7M310.5,985.5h.7M307.3,1006.4h.7M299.3,1006.8h.7M317.7,996.8h.7M309.7,998.1h.7M307.4,992.8h.7M312.0,999.9h.7M305.6,1002.8h.7M306.9,997.5h.7M317.4,993.6h.7M307.1,996.5h.7M312.9,991.4h.7M310.5,1003.1h.7M315.7,997.3h.7M316.2,1001.7h.7M309.1,1002.7h.7M316.0,1004.5h.7M316.0,999.8h.7M308.1,995.1h.7M304.9,995.9h.7M306.8,1007.7h.7M301.7,1000.3h.7M309.8,992.2h.7M313.4,997.7h.7M304.7,1008.8h.7M310.4,1000.9h.7M318.0,993.4h.7M320.2,998.5h.7M305.0,994.3h.7M306.4,999.0h.7M303.1,1001.6h.7M314.5,989.2h.7M308.1,996.6h.7M311.9,1002.0h.7M305.6,995.6h.7M310.3,1000.6h.7M300.7,997.1h.7M310.3,1017.5h.7M308.6,997.6h.7M312.5,995.4h.7M311.0,999.4h.7M315.0,1004.2h.7M307.0,1003.4h.7M320.2,997.1h.7M311.2,996.4h.7M304.1,1000.6h.7M312.1,995.5h.7M319.4,994.4h.7M304.2,990.1h.7M305.3,995.1h.7M312.9,995.8h.7M310.8,991.6h.7M301.5,1001.6h.7M313.1,998.7h.7M306.6,994.4h.7M303.7,994.1h.7M322.4,982.9h.7M300.6,993.8h.7M307.5,993.7h.7M310.3,998.1h.7M310.5,998.3h.7M309.1,1000.2h.7M317.0,996.0h.7M309.0,1005.3h.7M313.8,997.7h.7M314.2,1005.0h.7M305.0,1007.0h.7M313.4,1000.1h.7M313.7,991.3h.7M311.9,997.3h.7M310.3,995.8h.7M321.3,994.2h.7M312.6,989.1h.7M311.2,994.1h.7M303.6,991.8h.7M309.4,991.6h.7M312.3,1006.7h.7M310.8,993.5h.7M304.3,995.9h.7M315.1,993.8h.7M310.6,1002.1h.7M303.8,992.6h.7M314.2,996.8h.7M319.1,994.9h.7M295.4,1007.0h.7M302.2,996.5h.7M316.7,1001.2h.7M311.8,995.2h.7M312.7,997.0h.7M311.6,994.6h.7M305.2,995.9h.7M319.3,998.8h.7M306.6,1001.9h.7M308.5,995.1h.7M319.6,988.2h.7M311.2,991.8h.7M304.7,995.5h.7M301.8,993.4h.7M319.1,996.9h.7M314.6,1003.0h.7M314.7,1001.7h.7M313.9,997.8h.7M305.2,1000.0h.7M305.8,1000.2h.7M306.2,1002.2h.7M316.5,992.8h.7M305.1,994.7h.7M309.1,1013.3h.7M312.7,999.4h.7M308.1,1000.7h.7M307.1,1003.0h.7M316.4,988.3h.7M311.5,998.5h.7M310.0,1006.5h.7M312.2,1002.2h.7M317.4,996.1h.7M322.6,995.4h.7M309.3,992.4h.7M310.2,998.5h.7M307.3,1008.0h.7M315.2,995.8h.7M312.2,991.6h.7M308.6,998.3h.7M312.7,1005.0h.7M314.1,1007.3h.7M307.8,1001.0h.7M305.8,992.3h.7M304.5,1000.4h.7M305.7,996.6h.7M309.5,994.9h.7M309.3,997.4h.7M308.2,1002.1h.7M311.2,993.9h.7M310.0,986.9h.7M317.4,990.1h.7M311.7,990.0h.7M313.1,997.1h.7M316.7,1002.5h.7M309.4,995.2h.7M314.2,986.8h.7M309.9,994.5h.7M305.8,1002.7h.7M300.0,1007.1h.7M315.0,992.7h.7M319.0,994.2h.7M296.3,991.1h.7M315.1,990.9h.7M313.0,996.9h.7M306.0,1005.5h.7M312.8,994.9h.7M311.7,994.7h.7M300.3,997.0h.7M311.7,996.8h.7M310.1,1000.6h.7M316.6,992.8h.7M310.0,999.0h.7M311.9,994.9h.7M299.2,1003.0h.7M310.3,1004.1h.7M301.0,1001.2h.7M310.2,1001.9h.7M311.9,998.8h.7M313.8,997.8h.7M314.1,992.4h.7M318.3,992.2h.7M310.9,1003.8h.7M320.4,997.9h.7M314.1,996.5h.7M311.5,1002.9h.7M313.5,1002.0h.7M313.1,997.4h.7M314.6,999.3h.7M312.5,994.0h.7M305.2,1002.0h.7M316.9,1001.5h.7M317.7,993.7h.7M315.5,1002.2h.7M316.1,996.3h.7M304.9,994.3h.7M311.7,999.4h.7M306.2,999.5h.7M304.5,1003.3h.7M304.4,997.7h.7M310.6,1004.0h.7M314.8,989.7h.7M305.9,1002.1h.7M313.5,995.0h.7M305.1,998.2h.7M302.4,997.9h.7M316.9,999.7h.7M315.8,991.5h.7M296.5,1008.0h.7M311.7,992.0h.7M312.7,999.6h.7M318.0,988.9h.7M312.8,992.9h.7M305.6,993.7h.7M315.2,1001.9h.7M313.0,998.8h.7M307.4,995.0h.7M304.5,1003.5h.7M314.9,997.2h.7M303.2,993.9h.7M313.2,983.8h.7M317.0,999.0h.7M303.6,1008.8h.7M318.3,1005.7h.7M314.9,998.8h.7M310.9,993.7h.7M314.7,998.4h.7M291.3,1003.2h.7M318.0,1000.6h.7M302.2,995.9h.7M306.1,999.1h.7M306.8,992.9h.7M308.8,998.0h.7M303.1,992.4h.7M312.9,992.6h.7M314.3,1002.0h.7M310.6,1001.2h.7M305.7,997.6h.7M304.7,999.4h.7M316.0,993.1h.7M302.9,993.7h.7M302.8,994.7h.7M326.1,991.4h.7M311.0,995.1h.7M305.9,1000.4h.7M304.0,1004.4h.7M309.2,997.1h.7M313.1,990.6h.7M301.8,1000.3h.7M315.7,999.9h.7M316.3,998.3h.7M310.4,995.5h.7M299.8,1010.0h.7M311.1,1004.0h.7M305.4,998.2h.7M317.3,997.6h.7M311.7,998.8h.7M302.7,998.2h.7M305.8,993.3h.7M317.5,1001.4h.7M311.1,1000.4h.7M327.3,994.7h.7M309.7,1006.1h.7M304.6,1013.3h.7M312.7,993.3h.7M307.4,1001.0h.7M310.6,999.5h.7M321.1,991.7h.7M301.1,1001.6h.7M307.3,995.0h.7M305.5,1000.4h.7M310.0,992.2h.7M312.3,1004.4h.7M312.7,993.3h.7M303.9,999.6h.7M314.9,991.1h.7M308.3,998.7h.7M311.8,997.5h.7M305.8,994.7h.7M306.6,992.7h.7M313.6,1002.9h.7M310.0,1000.5h.7M309.9,1004.8h.7M311.7,995.9h.7M316.4,1002.3h.7M302.7,996.8h.7M298.2,990.6h.7M302.1,1000.6h.7M312.2,994.1h.7M310.8,1010.2h.7M313.3,1006.9h.7M313.6,1007.8h.7M311.2,989.5h.7M310.1,997.0h.7M312.0,997.9h.7M307.7,991.5h.7M308.8,995.7h.7M311.8,1002.4h.7M309.3,994.4h.7M315.1,1000.1h.7M315.2,992.6h.7M316.7,995.1h.7M311.1,999.2h.7M316.2,994.8h.7M302.1,994.3h.7M305.2,998.3h.7M308.6,1008.7h.7M307.6,994.9h.7M296.5,1004.1h.7M306.7,1000.7h.7M299.1,1006.8h.7M303.2,1000.3h.7M307.5,1009.4h.7M319.4,995.4h.7M325.2,1001.1h.7M306.9,995.7h.7M314.2,993.0h.7M301.6,1008.4h.7M311.0,997.2h.7M315.3,1004.2h.7M311.4,999.7h.7M309.9,1000.2h.7M305.4,998.6h.7M312.3,1001.4h.7M313.4,1003.2h.7M306.9,1000.9h.7M306.4,1002.3h.7M305.7,993.2h.7M315.5,992.4h.7M312.2,994.8h.7M303.7,995.1h.7M313.7,999.2h.7M315.6,990.0h.7M307.0,1000.1h.7M307.8,996.1h.7M307.2,999.3h.7M313.0,999.7h.7M311.2,991.9h.7M312.9,997.2h.7M313.1,996.9h.7M307.4,1007.3h.7M311.9,996.9h.7M316.2,992.5h.7M302.2,1003.1h.7M304.2,999.3h.7M306.5,994.6h.7M307.4,1002.8h.7M312.6,999.4h.7M323.6,990.9h.7M310.2,995.5h.7M316.5,997.8h.7M310.5,1001.6h.7M316.3,1003.9h.7M305.3,1007.9h.7M317.0,995.1h.7M306.6,1009.5h.7M309.4,998.4h.7M310.9,1003.0h.7M302.1,1004.4h.7M311.6,991.9h.7M304.4,999.8h.7M316.2,999.8h.7M305.4,999.0h.7M303.3,996.0h.7M314.1,997.5h.7M311.7,991.8h.7M300.9,1002.6h.7M306.7,996.6h.7M304.7,999.5h.7M306.5,999.9h.7M309.3,990.0h.7M316.9,997.1h.7M310.7,1010.0h.7M311.8,984.7h.7M310.1,993.8h.7M309.1,996.3h.7M311.5,999.0h.7M312.8,1001.4h.7M313.3,993.2h.7M307.2,995.7h.7M311.9,996.4h.7M318.9,990.3h.7M317.9,1000.3h.7M305.0,997.0h.7M317.3,994.3h.7M306.5,998.9h.7M306.8,1010.4h.7M312.6,986.6h.7M313.6,991.9h.7M315.2,1000.9h.7M306.0,1002.6h.7M310.8,999.2h.7M321.1,995.4h.7M312.9,992.9h.7M308.7,994.0h.7M310.5,994.7h.7M309.6,995.9h.7M301.5,996.1h.7M309.5,995.3h.7M309.8,1008.5h.7M310.0,993.8h.7M312.6,991.0h.7M312.9,995.2h.7M308.3,1005.1h.7M305.0,985.9h.7M313.2,989.1h.7M313.9,987.7h.7M311.4,994.0h.7M310.6,986.2h.7M312.6,999.3h.7M312.3,998.5h.7M316.2,998.9h.7M318.4,994.6h.7M311.3,986.3h.7M311.3,996.2h.7M312.2,992.0h.7M315.9,998.8h.7M309.4,995.9h.7M319.3,1012.3h.7M309.4,996.3h.7M306.4,1008.2h.7M314.0,989.8h.7M297.8,992.1h.7M317.6,995.7h.7M310.7,998.5h.7M312.3,995.9h.7M308.5,992.6h.7M316.7,997.3h.7M307.1,1001.2h.7M311.0,1000.2h.7M296.3,1002.1h.7M307.0,998.8h.7M308.0,990.0h.7M307.3,997.7h.7M313.7,996.5h.7M303.9,1002.2h.7M309.3,998.7h.7M304.6,995.9h.7M309.3,1003.2h.7M305.1,994.4h.7M307.7,1002.5h.7M311.9,995.8h.7M309.7,999.7h.7M316.4,988.8h.7M319.8,999.5h.7M306.2,991.6h.7M307.0,1007.6h.7M303.4,1001.3h.7M315.8,992.1h.7M306.8,993.6h.7M306.3,998.1h.7M302.4,1000.5h.7M316.7,982.3h.7M308.8,1006.1h.7M309.9,995.5h.7M309.2,992.2h.7M310.7,992.7h.7M306.3,999.0h.7M317.6,991.1h.7M309.2,990.2h.7M310.8,994.3h.7M310.2,995.1h.7M308.1,1000.3h.7M323.1,1003.1h.7M324.6,998.9h.7M308.8,1009.2h.7M309.4,997.1h.7M305.0,1005.0h.7M313.7,997.5h.7M309.5,999.7h.7M306.1,999.8h.7M310.9,991.3h.7M299.1,1007.8h.7M306.6,1010.5h.7M309.5,995.8h.7M311.7,997.3h.7M311.4,1001.4h.7M315.4,985.2h.7M306.6,1004.8h.7M311.5,999.4h.7M319.6,997.6h.7M319.7,999.1h.7M312.0,996.0h.7M304.5,1002.2h.7M306.0,1002.7h.7M311.0,1000.6h.7M301.6,994.1h.7M314.2,1001.7h.7M306.9,1001.4h.7M312.4,992.2h.7M322.8,995.9h.7M313.5,990.6h.7M307.7,997.9h.7M309.9,997.0h.7M307.1,997.4h.7M300.3,1005.9h.7M307.8,994.1h.7M310.1,1002.5h.7M317.3,1005.3h.7M309.8,1000.1h.7M304.5,1004.1h.7M319.8,977.3h.7M312.1,995.6h.7M315.3,993.0h.7M313.3,990.4h.7M322.4,995.9h.7M302.8,1004.8h.7M309.3,1001.0h.7M312.7,1001.2h.7M312.3,995.4h.7M301.3,997.7h.7M320.0,992.2h.7M319.1,994.1h.7M310.2,988.9h.7M316.4,994.7h.7M307.8,995.7h.7M300.1,1009.6h.7M314.4,1001.6h.7M317.8,997.9h.7M315.3,1000.9h.7M313.9,991.4h.7M302.9,998.6h.7M298.9,1006.4h.7M307.6,996.7h.7M304.5,1004.4h.7M304.7,998.0h.7M311.7,993.1h.7M307.7,995.7h.7M314.2,1003.1h.7M294.1,999.9h.7M310.8,1004.0h.7M305.9,1004.2h.7M304.6,995.5h.7M304.8,996.8h.7M303.3,1004.7h.7M312.0,996.8h.7M304.6,1002.8h.7M304.0,1006.1h.7M303.9,1002.3h.7M313.3,998.0h.7M310.4,1005.0h.7M307.8,1004.0h.7M312.3,1010.4h.7M316.8,995.9h.7M316.8,986.7h.7M313.3,997.2h.7M302.9,999.3h.7M290.5,1003.0h.7M316.0,993.5h.7M325.0,986.5h.7M302.2,993.3h.7M313.2,988.9h.7M304.4,995.3h.7M304.5,1000.0h.7M337.8,961.2h.7M339.0,960.9h.7M334.6,957.5h.7M332.1,959.0h.7M333.7,957.4h.7M329.8,961.5h.7M345.9,958.1h.7M334.2,959.9h.7M330.3,963.2h.7M328.6,962.1h.7M345.8,959.9h.7M327.6,961.9h.7M338.5,959.0h.7M339.2,959.5h.7M335.6,957.6h.7M331.3,956.3h.7M336.2,955.7h.7M336.1,957.9h.7M345.0,961.5h.7M336.8,962.5h.7M340.0,965.6h.7M332.7,955.6h.7M317.5,960.8h.7M342.3,960.8h.7M331.2,959.8h.7M334.0,962.1h.7M327.7,959.1h.7M340.3,957.4h.7M346.3,952.8h.7M341.3,959.1h.7M338.5,961.6h.7M324.1,960.4h.7M344.6,961.1h.7M342.1,956.5h.7M344.6,958.9h.7M330.9,954.7h.7M330.1,954.6h.7M329.1,959.3h.7M342.0,959.2h.7M344.3,958.7h.7M328.6,959.6h.7M336.7,960.4h.7M325.5,963.1h.7M332.6,956.4h.7M332.1,958.4h.7M326.4,963.0h.7M336.4,962.1h.7M341.9,960.5h.7M348.7,958.6h.7M332.8,959.2h.7M337.7,959.7h.7M333.7,956.0h.7M345.0,965.7h.7M341.0,959.0h.7M327.7,961.7h.7M329.9,963.4h.7M348.0,960.4h.7M331.8,961.3h.7M327.3,956.7h.7M342.0,956.0h.7M346.3,955.9h.7M352.8,961.1h.7M338.3,960.5h.7M334.0,959.1h.7M329.1,964.7h.7M339.0,959.6h.7M345.2,958.6h.7M352.4,961.8h.7M348.5,961.9h.7M342.6,960.3h.7M341.6,960.9h.7M331.1,964.5h.7M328.0,954.8h.7M333.5,959.6h.7M328.0,964.7h.7M346.0,959.2h.7M348.8,955.4h.7M334.5,963.6h.7M332.9,958.4h.7M350.5,961.6h.7M331.0,957.4h.7M331.3,959.5h.7M335.5,962.7h.7M323.7,958.3h.7M331.7,960.8h.7M343.8,960.0h.7M332.0,956.3h.7M332.2,958.1h.7M342.8,960.3h.7M336.0,959.9h.7M335.0,956.9h.7M328.1,959.1h.7M345.0,960.9h.7M349.9,960.6h.7M332.0,959.4h.7M333.7,964.0h.7M334.7,959.7h.7M332.8,963.0h.7M341.6,960.1h.7M334.2,962.3h.7M348.8,959.4h.7M333.4,960.6h.7M344.9,958.4h.7M340.6,960.5h.7M333.9,952.8h.7M347.4,959.2h.7M337.9,962.1h.7M352.3,963.2h.7M329.5,956.9h.7M338.3,962.8h.7M338.9,963.3h.7M329.4,960.1h.7M327.9,961.0h.7M322.2,957.8h.7M335.3,955.4h.7M336.7,958.1h.7M338.9,961.1h.7M332.8,959.4h.7M342.7,960.3h.7M332.6,961.2h.7M335.5,959.2h.7M339.3,958.3h.7M338.7,957.4h.7M343.2,960.7h.7M343.2,957.5h.7M344.6,957.3h.7M331.8,962.8h.7M329.3,957.8h.7M333.5,955.2h.7M344.1,961.3h.7M333.7,962.1h.7M342.3,956.1h.7M327.2,960.8h.7M341.1,955.7h.7M333.5,959.0h.7M332.2,958.2h.7M322.7,961.7h.7M346.4,963.8h.7M332.6,960.5h.7M336.6,959.8h.7M341.1,954.6h.7M341.3,961.0h.7M336.3,959.1h.7M334.9,959.0h.7M340.8,961.4h.7M332.0,964.4h.7M335.8,959.5h.7M333.5,959.8h.7M342.7,954.9h.7M340.5,960.3h.7M336.7,956.5h.7M344.9,961.9h.7M326.3,957.5h.7M350.8,960.4h.7M329.0,965.0h.7M340.9,960.1h.7M339.9,959.8h.7M350.6,958.0h.7M349.6,960.3h.7M341.8,964.5h.7M329.0,958.6h.7M347.9,961.8h.7M339.1,956.3h.7M335.5,958.0h.7M333.3,958.0h.7M334.0,959.6h.7M331.7,960.8h.7M339.1,958.8h.7M354.3,961.7h.7M347.0,958.1h.7M345.4,962.0h.7M344.1,961.0h.7M335.9,957.5h.7M352.8,961.7h.7M325.1,961.4h.7M339.1,955.6h.7M347.7,958.4h.7M342.6,959.5h.7M333.4,960.1h.7M328.0,963.8h.7M340.4,956.5h.7M340.5,960.3h.7M331.5,959.8h.7M339.4,956.6h.7M349.3,954.5h.7M339.7,956.5h.7M329.8,960.6h.7M350.4,961.1h.7M339.1,955.8h.7M337.1,960.4h.7M340.5,959.7h.7M339.1,957.7h.7M341.1,963.2h.7M332.1,964.1h.7M343.9,963.2h.7M349.5,960.4h.7M341.3,958.9h.7M334.8,963.9h.7M340.7,955.4h.7M345.1,963.0h.7M346.7,954.6h.7M339.8,956.9h.7M332.4,961.4h.7M333.1,960.1h.7M345.8,960.5h.7M337.9,956.4h.7M328.1,960.3h.7M335.7,958.2h.7M334.1,957.2h.7M341.8,964.8h.7M331.8,966.2h.7M345.6,957.0h.7M340.7,957.6h.7M333.7,942.9h.7M338.4,963.7h.7M344.6,952.2h.7M334.7,967.8h.7M343.6,951.7h.7M348.4,943.8h.7M346.9,949.7h.7M350.1,955.5h.7M338.4,954.5h.7M331.3,962.6h.7M334.9,957.3h.7M323.1,967.0h.7M340.9,957.2h.7M336.5,953.1h.7M332.4,958.7h.7M334.6,970.8h.7M335.7,946.9h.7M346.4,952.2h.7M342.2,960.4h.7M343.7,957.7h.7M345.0,968.7h.7M311.4,962.3h.7M339.3,968.4h.7M331.0,955.9h.7M329.7,952.4h.7M342.0,958.8h.7M338.2,947.1h.7M335.2,952.6h.7M337.3,967.4h.7M325.1,961.9h.7M330.5,950.5h.7M328.5,949.1h.7M346.3,947.9h.7M346.7,943.9h.7M336.2,958.0h.7M322.4,972.6h.7M348.9,949.1h.7M346.1,960.0h.7M342.9,952.7h.7M335.0,964.7h.7M336.1,956.7h.7M336.5,959.3h.7M337.6,949.1h.7M348.5,964.7h.7M349.9,957.4h.7M340.8,961.0h.7M326.4,953.8h.7M327.4,954.2h.7M340.3,956.5h.7M345.4,965.3h.7M333.9,955.5h.7M337.6,963.8h.7M340.1,965.5h.7M349.9,960.0h.7M355.7,953.3h.7M337.3,965.5h.7M333.1,962.8h.7M336.8,965.6h.7M332.8,960.6h.7M354.5,951.7h.7M348.0,954.7h.7M326.0,960.1h.7M320.4,963.4h.7M339.6,956.1h.7M336.7,964.4h.7M345.6,971.0h.7M336.0,962.7h.7M332.4,988.7h.7M340.9,988.9h.7M335.8,990.4h.7M331.2,988.1h.7M338.4,1000.5h.7M334.5,996.2h.7M345.1,985.8h.7M339.2,996.7h.7M331.1,995.1h.7M332.8,988.1h.7M322.2,991.9h.7M335.8,989.8h.7M324.1,974.1h.7M329.1,979.8h.7M327.3,1000.1h.7M336.3,1010.3h.7M336.7,991.1h.7M333.1,986.1h.7M340.6,983.2h.7M343.7,981.9h.7M339.5,992.9h.7M340.7,987.0h.7M335.1,993.7h.7M333.9,990.9h.7M341.2,990.2h.7M334.6,989.1h.7M337.0,991.8h.7M331.4,977.5h.7M339.7,986.7h.7M326.6,991.6h.7M341.5,979.4h.7M336.0,988.3h.7M341.8,992.2h.7M332.2,986.6h.7M337.9,981.2h.7M338.5,989.5h.7M321.9,982.0h.7M318.7,983.1h.7M318.5,980.3h.7M338.0,950.0h.7M312.5,996.0h.7M313.0,981.2h.7M319.7,982.4h.7M309.6,998.7h.7M316.2,983.2h.7M333.4,962.3h.7M311.5,985.8h.7M315.6,988.8h.7M314.7,979.5h.7M315.5,992.9h.7M315.0,994.8h.7M330.9,970.5h.7M316.6,974.0h.7M330.7,976.0h.7M327.6,970.1h.7M336.5,962.1h.7M319.0,983.5h.7M308.5,991.5h.7M333.0,964.9h.7M310.6,989.8h.7M315.9,983.5h.7M315.0,992.5h.7M329.5,963.4h.7M308.5,996.7h.7M330.5,972.8h.7M315.1,975.1h.7M320.9,994.8h.7M304.1,994.1h.7M329.7,980.1h.7M327.2,971.3h.7M332.3,980.4h.7M314.2,997.7h.7M321.8,991.8h.7M336.3,971.2h.7M334.3,974.2h.7M329.4,982.6h.7M339.4,969.9h.7M319.8,990.2h.7" stroke="#e81010" stroke-width="0.7" fill="none" opacity="0.6"/>
</g>
<clipPath id="fc2"><rect x="148.5" y="1047.5" width="90.0" height="90.0"/></clipPath>
<path d="M148.5,1047.5V1137.5H238.5" fill="none" stroke="#b4b4b4" stroke-width="0.7"/>
<path d="M148.5,1047.5H238.5V1137.5" fill="none" stroke="#808080" stroke-width="0.8"/>
<line x1="196.5" y1="1047.5" x2="196.5" y2="1137.5" stroke="#8c8c8c" stroke-width="0.9"/>
<line x1="148.5" y1="1103.5" x2="238.5" y2="1103.5" stroke="#707070" stroke-width="0.9"/>
<path d="M146.3,1134.5h2.2M152.5,1137.5v2.2M147.4,1128.3h1.1M158.8,1137.5v1.1M147.4,1124.7h1.1M162.6,1137.5v1.1M147.4,1122.2h1.1M165.1,1137.5v1.1M147.4,1120.2h1.1M167.2,1137.5v1.1M147.4,1118.5h1.1M168.9,1137.5v1.1M147.4,1117.1h1.1M170.3,1137.5v1.1M147.4,1116.0h1.1M171.4,1137.5v1.1M147.4,1115.0h1.1M172.4,1137.5v1.1M146.3,1114.0h2.2M173.5,1137.5v2.2M147.4,1107.8h1.1M179.8,1137.5v1.1M147.4,1104.2h1.1M183.6,1137.5v1.1M147.4,1101.7h1.1M186.1,1137.5v1.1M147.4,1099.7h1.1M188.2,1137.5v1.1M147.4,1098.0h1.1M189.9,1137.5v1.1M147.4,1096.6h1.1M191.3,1137.5v1.1M147.4,1095.5h1.1M192.4,1137.5v1.1M147.4,1094.5h1.1M193.4,1137.5v1.1M146.3,1093.5h2.2M194.5,1137.5v2.2M147.4,1087.3h1.1M200.8,1137.5v1.1M147.4,1083.7h1.1M204.6,1137.5v1.1M147.4,1081.2h1.1M207.1,1137.5v1.1M147.4,1079.2h1.1M209.2,1137.5v1.1M147.4,1077.5h1.1M210.9,1137.5v1.1M147.4,1076.1h1.1M212.3,1137.5v1.1M147.4,1075.0h1.1M213.4,1137.5v1.1M147.4,1074.0h1.1M214.4,1137.5v1.1M146.3,1073.0h2.2M215.5,1137.5v2.2M147.4,1066.8h1.1M221.8,1137.5v1.1M147.4,1063.2h1.1M225.6,1137.5v1.1M147.4,1060.7h1.1M228.1,1137.5v1.1M147.4,1058.7h1.1M230.2,1137.5v1.1M147.4,1057.0h1.1M231.9,1137.5v1.1M147.4,1055.6h1.1M233.3,1137.5v1.1M147.4,1054.5h1.1M234.4,1137.5v1.1M147.4,1053.5h1.1M235.4,1137.5v1.1M146.3,1052.5h2.2M236.5,1137.5v2.2" stroke="#999" stroke-width="0.45" fill="none"/>
<text x="144.0" y="1136.1" font-size="5" fill="#555" text-anchor="end" font-family="Liberation Serif, serif">10<tspan dy="-1.6" font-size="3.4">0</tspan></text>
<text x="152.5" y="1145.7" font-size="5" fill="#555" text-anchor="middle" font-family="Liberation Serif, serif">10<tspan dy="-1.6" font-size="3.4">0</tspan></text>
<text x="144.0" y="1115.6" font-size="5" fill="#555" text-anchor="end" font-family="Liberation Serif, serif">10<tspan dy="-1.6" font-size="3.4">1</tspan></text>
<text x="173.5" y="1145.7" font-size="5" fill="#555" text-anchor="middle" font-family="Liberation Serif, serif">10<tspan dy="-1.6" font-size="3.4">1</tspan></text>
<text x="144.0" y="1095.1" font-size="5" fill="#555" text-anchor="end" font-family="Liberation Serif, serif">10<tspan dy="-1.6" font-size="3.4">2</tspan></text>
<text x="194.5" y="1145.7" font-size="5" fill="#555" text-anchor="middle" font-family="Liberation Serif, serif">10<tspan dy="-1.6" font-size="3.4">2</tspan></text>
<text x="144.0" y="1074.6" font-size="5" fill="#555" text-anchor="end" font-family="Liberation Serif, serif">10<tspan dy="-1.6" font-size="3.4">3</tspan></text>
<text x="215.5" y="1145.7" font-size="5" fill="#555" text-anchor="middle" font-family="Liberation Serif, serif">10<tspan dy="-1.6" font-size="3.4">3</tspan></text>
<text x="144.0" y="1054.1" font-size="5" fill="#555" text-anchor="end" font-family="Liberation Serif, serif">10<tspan dy="-1.6" font-size="3.4">4</tspan></text>
<text x="236.5" y="1145.7" font-size="5" fill="#555" text-anchor="middle" font-family="Liberation Serif, serif">10<tspan dy="-1.6" font-size="3.4">4</tspan></text>
<text x="190.5" y="1156.8" font-size="5.5" fill="#505050" text-anchor="middle" font-family="Liberation Serif, serif">Annexin V-FITC</text>
<text x="123.5" y="1095.5" font-size="4.6" fill="#555" text-anchor="middle" font-family="Liberation Serif, serif">PI</text>
<g clip-path="url(#fc2)">
<ellipse cx="182.8" cy="1121.0" rx="10.8" ry="7.8" fill="url(#fg)" transform="rotate(-38 182.8 1121.0)"/>
<path d="M189.4,1120.8h.7M189.2,1120.3h.7M180.4,1123.2h.7M175.3,1128.4h.7M193.5,1119.2h.7M185.0,1122.0h.7M183.6,1116.4h.7M178.5,1119.3h.7M184.7,1120.8h.7M177.2,1116.3h.7M177.1,1120.7h.7M183.0,1113.7h.7M190.1,1124.8h.7M176.4,1116.6h.7M172.6,1120.0h.7M186.7,1109.5h.7M188.8,1119.2h.7M186.3,1122.2h.7M183.9,1119.1h.7M184.7,1117.2h.7M186.7,1123.0h.7M185.0,1125.6h.7M182.9,1121.4h.7M179.6,1125.5h.7M181.2,1120.4h.7M185.2,1124.2h.7M182.9,1121.0h.7M187.6,1121.7h.7M188.5,1111.3h.7M184.0,1125.0h.7M174.4,1126.4h.7M187.4,1121.7h.7M183.6,1118.1h.7M191.3,1114.6h.7M181.5,1121.2h.7M184.3,1127.4h.7M184.3,1113.1h.7M177.8,1122.7h.7M189.4,1119.2h.7M175.0,1113.0h.7M180.2,1126.0h.7M189.4,1112.7h.7M171.6,1115.0h.7M181.2,1116.2h.7M187.7,1118.0h.7M190.0,1115.3h.7M190.1,1117.0h.7M178.5,1121.7h.7M189.9,1116.7h.7M184.0,1116.0h.7M182.7,1124.5h.7M183.9,1125.6h.7M188.0,1115.1h.7M171.5,1120.6h.7M187.4,1116.2h.7M181.2,1121.5h.7M175.5,1121.9h.7M173.4,1122.2h.7M178.7,1121.4h.7M181.7,1112.8h.7M180.5,1111.3h.7M177.0,1119.8h.7M177.6,1115.7h.7M189.4,1110.1h.7M185.1,1121.9h.7M186.7,1120.9h.7M191.6,1135.1h.7M187.0,1123.6h.7M181.2,1125.8h.7M182.4,1120.2h.7M182.0,1121.7h.7M174.3,1118.5h.7M186.7,1121.6h.7M182.3,1115.5h.7M170.3,1121.5h.7M191.0,1120.1h.7M193.4,1120.3h.7M183.4,1124.6h.7M183.6,1123.0h.7M186.4,1120.5h.7M181.6,1133.2h.7M179.5,1122.4h.7M186.9,1119.7h.7M179.1,1113.3h.7M171.3,1127.8h.7M183.8,1115.9h.7M185.0,1113.7h.7M173.5,1112.3h.7M177.8,1127.0h.7M183.5,1123.6h.7M183.0,1124.4h.7M180.0,1122.9h.7M182.2,1125.5h.7M177.8,1128.8h.7M186.2,1125.0h.7M183.2,1122.9h.7M184.6,1120.7h.7M185.4,1126.3h.7M187.1,1114.1h.7M183.2,1118.4h.7M177.6,1116.5h.7M185.7,1120.3h.7M197.2,1123.4h.7M180.2,1113.4h.7M183.3,1122.7h.7M188.6,1117.7h.7M172.3,1118.4h.7M182.2,1127.2h.7M178.1,1116.2h.7M176.8,1123.0h.7M198.2,1124.9h.7M194.5,1114.4h.7M177.3,1125.2h.7M185.9,1118.6h.7M195.6,1125.6h.7M187.6,1114.0h.7M186.7,1116.0h.7M192.1,1117.2h.7M182.6,1123.6h.7M181.2,1130.2h.7M178.9,1108.6h.7M182.8,1125.5h.7M193.4,1116.4h.7M179.5,1124.1h.7M192.3,1122.4h.7M187.7,1116.7h.7M179.4,1122.3h.7M174.2,1122.4h.7M177.4,1118.5h.7M184.9,1119.0h.7M182.4,1127.1h.7M185.0,1122.5h.7M189.2,1113.5h.7M194.8,1106.8h.7M185.7,1122.2h.7M181.7,1124.2h.7M181.4,1116.6h.7M174.9,1123.3h.7M185.3,1116.0h.7M184.2,1125.3h.7M186.5,1116.0h.7M183.5,1123.0h.7M176.9,1125.2h.7M177.3,1118.4h.7M184.7,1121.4h.7M174.9,1120.8h.7M182.1,1120.9h.7M187.9,1113.2h.7M182.7,1122.0h.7M177.1,1116.6h.7M174.2,1115.1h.7M187.7,1119.8h.7M180.8,1116.2h.7M182.5,1132.6h.7M185.1,1123.2h.7M168.6,1111.7h.7M184.2,1121.6h.7M180.1,1125.4h.7M183.1,1121.2h.7M175.2,1139.0h.7M186.1,1118.9h.7M184.7,1112.1h.7M192.1,1119.5h.7M185.4,1118.4h.7M183.6,1119.9h.7M184.6,1108.6h.7M182.1,1124.9h.7M183.8,1120.2h.7M179.3,1126.2h.7M171.0,1126.6h.7M181.5,1111.6h.7M183.6,1123.3h.7M191.6,1107.6h.7M186.4,1121.1h.7M179.9,1117.1h.7M191.9,1123.5h.7M186.2,1124.8h.7M191.3,1125.6h.7M170.2,1114.2h.7M184.5,1119.2h.7M170.8,1120.6h.7M186.9,1113.3h.7M181.7,1110.0h.7M175.7,1120.2h.7M180.7,1124.9h.7M183.2,1121.5h.7M179.4,1118.2h.7M187.8,1127.1h.7M185.3,1120.8h.7M171.1,1122.8h.7M188.8,1124.8h.7M181.4,1130.4h.7M175.4,1128.3h.7M186.1,1116.0h.7M179.7,1126.5h.7M186.0,1119.0h.7M201.1,1106.1h.7M195.1,1119.3h.7M193.4,1127.4h.7M185.2,1123.1h.7M174.8,1123.6h.7M198.5,1117.6h.7M182.3,1126.0h.7M173.8,1129.7h.7M182.2,1113.3h.7M180.5,1122.4h.7M181.0,1122.7h.7M181.0,1121.6h.7M172.3,1138.1h.7M195.7,1128.6h.7M183.3,1118.3h.7M185.5,1118.3h.7M175.8,1123.8h.7M175.4,1114.9h.7M182.6,1117.5h.7M177.0,1128.9h.7M189.5,1117.7h.7M181.3,1113.7h.7M171.2,1120.4h.7M184.2,1120.4h.7M177.7,1119.8h.7M185.5,1117.5h.7M181.9,1120.5h.7M181.8,1123.2h.7M187.2,1128.7h.7M186.7,1125.8h.7M193.3,1125.0h.7M187.4,1112.9h.7M185.9,1130.1h.7M174.4,1123.1h.7M192.1,1120.0h.7M170.0,1122.9h.7M188.9,1127.9h.7M174.8,1117.5h.7M182.3,1125.0h.7M174.9,1126.1h.7M184.3,1123.8h.7M184.4,1129.6h.7M182.7,1115.3h.7M171.5,1116.1h.7M183.6,1119.8h.7M173.8,1111.1h.7M180.0,1116.0h.7M186.4,1126.0h.7M185.9,1117.5h.7M194.2,1123.0h.7M183.9,1121.5h.7M182.1,1119.5h.7M191.9,1111.1h.7M184.1,1122.7h.7M184.4,1114.2h.7M186.5,1125.6h.7M186.9,1119.7h.7M180.4,1117.5h.7M181.6,1120.7h.7M175.4,1127.4h.7M177.5,1114.5h.7M183.0,1121.1h.7M178.7,1102.5h.7M186.7,1124.5h.7M182.6,1114.5h.7M199.3,1121.8h.7M186.0,1127.8h.7M181.1,1125.2h.7M180.1,1121.0h.7M186.2,1116.0h.7M185.2,1122.3h.7M180.6,1129.9h.7M183.0,1113.3h.7M187.1,1125.7h.7M186.9,1126.3h.7M175.4,1124.2h.7M191.8,1124.9h.7M179.2,1112.0h.7M174.0,1121.2h.7M177.8,1116.9h.7M181.2,1131.2h.7M179.3,1119.8h.7M173.0,1128.1h.7M174.5,1114.6h.7M175.7,1117.1h.7M161.7,1131.4h.7M188.1,1116.6h.7M188.9,1129.2h.7M182.1,1122.6h.7M182.0,1122.1h.7M176.7,1127.2h.7M190.9,1114.2h.7M183.2,1116.3h.7M175.1,1118.1h.7M188.3,1131.0h.7M176.6,1124.9h.7M191.6,1123.7h.7M184.4,1117.2h.7M184.8,1127.9h.7M191.2,1117.5h.7M184.1,1124.5h.7M182.0,1120.7h.7M189.5,1116.0h.7M187.0,1121.6h.7M182.3,1116.8h.7M189.0,1113.4h.7M169.3,1124.5h.7M186.5,1115.2h.7M183.8,1123.2h.7M192.0,1120.0h.7M176.8,1123.9h.7M184.4,1116.4h.7M174.9,1114.2h.7M188.8,1117.7h.7M180.0,1126.3h.7M182.1,1116.3h.7M182.7,1129.8h.7M176.4,1123.6h.7M181.6,1125.2h.7M181.1,1121.3h.7M171.9,1117.6h.7M174.9,1126.6h.7M188.3,1115.0h.7M184.7,1112.6h.7M184.2,1126.6h.7M184.2,1119.7h.7M171.0,1121.1h.7M188.1,1119.2h.7M201.2,1105.2h.7M184.3,1123.1h.7M194.9,1116.1h.7M186.8,1131.2h.7M186.2,1113.3h.7M171.8,1117.4h.7M182.4,1120.4h.7M171.1,1115.0h.7M181.7,1128.7h.7M185.5,1115.6h.7M177.8,1130.3h.7M190.6,1114.8h.7M174.7,1111.3h.7M178.5,1120.4h.7M182.8,1121.3h.7M184.2,1111.4h.7M175.4,1114.4h.7M179.5,1123.1h.7M179.2,1109.5h.7M188.4,1112.7h.7M179.5,1120.8h.7M188.2,1125.5h.7M174.6,1121.6h.7M182.7,1116.9h.7M180.6,1126.8h.7M172.8,1126.1h.7M183.3,1122.8h.7M184.2,1122.2h.7M171.9,1122.2h.7M197.8,1109.3h.7M177.7,1120.4h.7M186.4,1118.5h.7M179.3,1125.8h.7M197.7,1111.4h.7M189.1,1119.6h.7M164.0,1112.0h.7M179.8,1118.6h.7M182.0,1117.9h.7M183.4,1123.2h.7M185.6,1122.9h.7M185.4,1117.3h.7M177.7,1119.3h.7M185.9,1122.4h.7M179.6,1116.4h.7M185.9,1115.5h.7M181.9,1123.9h.7M179.8,1136.8h.7M180.2,1119.2h.7M183.0,1126.5h.7M184.6,1119.2h.7M182.6,1134.0h.7M183.3,1116.6h.7M197.9,1114.7h.7M185.9,1125.8h.7M184.0,1122.3h.7M177.0,1119.9h.7M183.7,1114.7h.7M191.5,1120.4h.7M167.5,1129.8h.7M189.0,1126.7h.7M186.5,1123.4h.7M192.5,1117.1h.7M184.5,1111.4h.7M176.6,1123.9h.7M184.2,1123.4h.7M185.3,1128.8h.7M194.8,1122.3h.7M190.0,1118.6h.7M174.4,1123.5h.7M189.0,1109.8h.7M188.3,1122.6h.7M183.0,1123.3h.7M182.4,1116.8h.7M183.4,1119.4h.7M199.4,1109.4h.7M177.2,1126.6h.7M180.8,1121.5h.7M181.2,1121.7h.7M184.1,1127.7h.7M185.3,1128.8h.7M186.6,1118.2h.7M180.7,1120.0h.7M191.3,1114.9h.7M176.8,1124.8h.7M185.3,1121.7h.7M178.3,1126.3h.7M189.7,1129.1h.7M175.4,1122.2h.7M182.3,1124.6h.7M174.9,1123.9h.7M185.0,1126.2h.7M183.7,1141.9h.7M182.4,1118.3h.7M185.6,1116.0h.7M181.8,1118.6h.7M186.4,1112.2h.7M191.8,1117.4h.7M162.5,1130.0h.7M178.0,1120.1h.7M171.4,1129.0h.7M178.8,1126.6h.7M174.2,1124.7h.7M182.6,1123.7h.7M186.0,1118.8h.7M183.3,1120.4h.7M178.3,1127.4h.7M180.3,1121.7h.7M176.1,1129.4h.7M190.2,1109.2h.7M184.2,1115.2h.7M193.5,1115.8h.7M186.1,1122.9h.7M177.6,1123.1h.7M176.6,1118.9h.7M190.2,1117.6h.7M172.9,1132.1h.7M182.5,1120.7h.7M188.2,1126.8h.7M184.0,1127.4h.7M189.6,1118.0h.7M185.1,1121.4h.7M183.1,1118.4h.7M181.5,1123.9h.7M199.4,1123.2h.7M180.7,1126.2h.7M194.1,1119.6h.7M173.8,1125.7h.7M186.2,1123.6h.7M189.0,1117.3h.7M188.8,1122.4h.7M181.5,1122.6h.7M184.5,1114.2h.7M185.4,1123.6h.7M190.8,1119.1h.7M192.4,1126.4h.7M184.2,1129.5h.7M175.8,1132.5h.7M188.2,1116.9h.7M185.0,1130.4h.7M190.7,1132.1h.7M176.1,1123.4h.7M175.8,1121.4h.7M181.3,1128.1h.7M175.1,1121.7h.7M182.7,1122.7h.7M186.5,1122.3h.7M175.0,1114.5h.7M185.6,1129.2h.7M178.4,1119.5h.7M184.3,1120.7h.7M186.6,1125.3h.7M189.5,1126.5h.7M180.0,1116.7h.7M179.7,1118.2h.7M185.3,1112.7h.7M186.8,1120.3h.7M190.6,1123.5h.7M177.7,1114.8h.7M178.7,1121.8h.7M180.5,1125.9h.7M180.1,1119.0h.7M188.4,1123.4h.7M191.2,1126.9h.7M186.8,1121.9h.7M184.3,1122.9h.7M187.5,1126.1h.7M187.1,1121.9h.7M180.6,1125.3h.7M178.9,1121.3h.7M180.1,1123.4h.7M183.8,1124.2h.7M187.0,1110.1h.7M181.9,1125.6h.7M178.0,1129.8h.7M188.0,1116.8h.7M188.0,1124.0h.7M190.8,1121.1h.7M171.1,1130.5h.7M191.6,1119.2h.7M186.5,1112.7h.7M183.4,1131.3h.7M179.2,1124.6h.7M187.7,1124.2h.7M177.9,1121.4h.7M187.4,1121.2h.7M176.5,1119.8h.7M179.3,1127.1h.7M172.2,1123.8h.7M183.7,1123.9h.7M184.3,1126.0h.7M185.6,1126.1h.7M172.0,1124.8h.7M181.4,1122.6h.7M168.8,1122.1h.7M182.6,1119.4h.7M182.3,1121.8h.7M183.4,1118.5h.7M190.2,1119.6h.7M173.1,1122.6h.7M192.0,1112.0h.7M180.2,1120.9h.7M196.2,1123.7h.7M183.6,1120.4h.7M182.9,1119.1h.7M184.2,1113.8h.7M187.5,1121.0h.7M187.1,1115.1h.7M188.2,1124.8h.7M177.6,1121.0h.7M189.7,1118.3h.7M183.3,1124.6h.7M184.7,1129.7h.7M197.3,1110.7h.7M175.3,1123.9h.7M177.3,1121.8h.7M178.0,1123.6h.7M184.5,1124.7h.7M199.0,1114.7h.7M177.0,1125.6h.7M184.2,1122.0h.7M181.3,1132.7h.7M180.7,1120.9h.7M159.2,1120.6h.7M183.4,1126.3h.7M185.2,1124.8h.7M186.6,1114.6h.7M172.9,1116.8h.7M177.4,1127.4h.7M188.4,1120.4h.7M176.4,1119.0h.7M178.9,1120.5h.7M194.9,1116.7h.7M180.8,1117.6h.7M197.2,1122.0h.7M175.6,1122.5h.7M177.3,1117.9h.7M181.2,1113.3h.7M181.1,1108.5h.7M183.4,1121.2h.7M175.8,1117.1h.7M184.0,1121.1h.7M189.1,1120.4h.7M195.1,1131.6h.7M185.1,1118.6h.7M175.4,1124.2h.7M183.2,1115.7h.7M190.5,1120.5h.7M183.6,1119.4h.7M179.5,1119.9h.7M183.8,1125.7h.7M182.0,1136.2h.7M183.7,1117.1h.7M172.1,1126.5h.7M175.8,1114.9h.7M171.9,1120.9h.7M187.2,1119.0h.7M196.0,1123.8h.7M181.9,1120.1h.7M186.0,1127.4h.7M199.2,1115.8h.7M184.2,1118.7h.7M190.0,1123.8h.7M180.2,1122.1h.7M165.1,1129.0h.7M181.2,1117.8h.7M183.3,1123.5h.7M177.4,1123.1h.7M175.0,1116.8h.7M180.4,1117.3h.7M166.9,1137.5h.7M179.7,1125.6h.7M180.7,1124.4h.7M181.2,1127.9h.7M180.6,1133.8h.7M178.3,1108.5h.7M166.2,1119.6h.7M175.2,1118.5h.7M178.9,1115.5h.7M175.5,1119.4h.7M177.0,1119.1h.7M174.9,1125.7h.7M179.3,1123.0h.7M190.4,1113.7h.7M172.9,1123.7h.7M189.6,1126.0h.7M183.5,1119.6h.7M185.4,1112.1h.7M187.5,1123.6h.7M178.9,1129.5h.7M180.8,1122.5h.7M195.0,1115.5h.7M189.1,1124.2h.7M176.8,1122.9h.7M181.2,1125.7h.7M186.6,1125.4h.7M191.3,1127.9h.7M178.2,1119.8h.7M183.4,1116.5h.7M170.9,1120.9h.7M194.5,1113.9h.7M179.4,1118.7h.7M181.7,1116.8h.7M190.0,1118.9h.7M173.7,1127.1h.7M167.1,1130.3h.7M176.7,1116.6h.7M195.2,1118.5h.7M181.5,1113.3h.7M179.8,1116.9h.7M177.8,1116.0h.7M186.7,1122.8h.7M206.8,1111.5h.7M183.6,1124.8h.7M185.6,1115.0h.7M180.9,1123.0h.7M183.6,1123.9h.7M174.9,1122.8h.7M176.0,1124.4h.7M180.2,1121.3h.7M177.3,1122.4h.7M173.7,1128.3h.7M173.6,1129.2h.7M183.7,1119.2h.7M190.6,1127.5h.7M179.8,1118.7h.7M184.7,1123.4h.7M182.2,1109.6h.7M179.9,1118.3h.7M182.7,1124.4h.7M181.0,1130.4h.7M181.5,1122.7h.7M179.7,1119.7h.7M173.3,1129.8h.7M195.1,1115.4h.7M170.8,1126.4h.7M172.7,1126.3h.7M179.3,1121.7h.7M187.6,1129.8h.7M162.7,1118.4h.7M189.3,1115.8h.7M181.3,1126.3h.7M182.7,1122.8h.7M174.2,1120.1h.7M188.8,1123.1h.7M176.7,1131.3h.7M191.7,1127.3h.7M186.3,1111.3h.7M188.4,1122.4h.7M188.2,1122.3h.7M173.0,1123.3h.7M185.8,1124.4h.7M166.0,1128.0h.7M174.7,1121.3h.7M181.6,1117.3h.7M188.2,1119.6h.7M182.7,1130.9h.7M177.0,1121.0h.7M182.4,1113.7h.7M172.1,1128.2h.7M189.6,1115.3h.7M180.8,1119.4h.7M187.2,1122.9h.7M182.8,1115.6h.7M186.0,1112.6h.7M179.4,1115.8h.7M183.3,1114.7h.7M181.7,1139.3h.7M184.8,1125.0h.7M177.6,1116.3h.7M191.0,1114.2h.7M182.8,1120.6h.7M174.8,1129.4h.7M181.8,1124.3h.7M185.3,1114.4h.7M190.0,1123.0h.7M183.8,1116.3h.7M187.2,1117.9h.7M167.0,1127.2h.7M183.6,1118.1h.7M174.4,1127.1h.7M181.9,1123.2h.7M187.1,1112.4h.7M190.2,1120.9h.7M178.4,1119.4h.7M175.0,1114.9h.7M172.9,1140.5h.7M185.0,1113.7h.7M177.6,1111.1h.7M184.6,1118.5h.7M180.3,1121.0h.7M180.7,1115.0h.7M182.0,1117.3h.7M183.5,1113.8h.7M183.2,1125.1h.7M184.9,1112.5h.7M192.5,1127.1h.7M182.6,1122.6h.7M185.4,1123.9h.7M186.6,1121.7h.7M171.0,1138.6h.7M188.9,1128.5h.7M181.8,1117.6h.7M190.0,1113.4h.7M192.9,1119.0h.7M175.3,1138.1h.7M183.4,1122.6h.7M180.9,1114.5h.7M183.2,1117.5h.7M177.4,1115.5h.7M193.7,1111.9h.7M177.0,1129.0h.7M189.5,1127.1h.7M186.9,1122.5h.7M175.3,1115.8h.7M182.6,1112.1h.7M173.4,1114.2h.7M178.9,1120.2h.7M173.5,1119.5h.7M185.5,1124.9h.7M179.3,1128.3h.7M184.9,1114.5h.7M180.3,1120.2h.7M188.6,1120.4h.7M181.3,1125.3h.7M189.3,1131.0h.7M185.7,1112.3h.7M192.2,1118.6h.7M174.4,1124.4h.7M175.4,1118.5h.7M178.7,1126.2h.7M183.9,1108.9h.7M184.8,1120.0h.7M179.9,1117.1h.7M186.1,1124.2h.7M190.5,1129.0h.7M185.2,1123.6h.7M182.0,1119.7h.7M179.2,1119.8h.7M182.6,1123.2h.7M180.6,1122.6h.7M193.6,1126.9h.7M173.6,1126.3h.7M192.4,1122.8h.7M184.8,1123.7h.7M183.5,1121.3h.7M175.1,1120.6h.7M185.1,1112.6h.7M194.1,1118.8h.7M180.7,1124.2h.7M185.9,1122.0h.7M188.9,1120.2h.7M177.0,1116.7h.7M173.0,1116.1h.7M192.3,1125.1h.7M183.0,1119.0h.7M186.7,1130.5h.7M187.4,1116.2h.7M191.8,1118.1h.7M190.5,1116.4h.7M183.3,1116.7h.7M167.6,1122.8h.7M184.6,1121.0h.7M182.8,1128.2h.7M183.6,1115.7h.7M178.5,1118.8h.7M196.2,1123.7h.7M188.6,1106.9h.7M182.7,1120.2h.7M190.2,1122.7h.7M176.9,1122.9h.7M185.3,1113.4h.7M172.6,1112.4h.7M175.9,1126.7h.7M182.3,1127.7h.7M183.2,1124.4h.7M181.2,1131.2h.7M168.8,1124.1h.7M175.0,1123.0h.7M174.4,1112.8h.7M186.0,1119.4h.7M181.3,1116.1h.7M191.1,1118.7h.7M171.4,1120.1h.7M180.2,1118.2h.7M183.7,1120.9h.7M186.0,1122.4h.7M190.2,1116.4h.7M182.3,1118.2h.7M175.6,1126.7h.7M198.2,1117.0h.7M182.9,1121.6h.7M175.2,1120.6h.7M176.3,1131.0h.7M183.6,1122.4h.7M177.0,1132.4h.7M182.7,1117.5h.7M180.2,1121.8h.7M183.0,1115.1h.7M182.2,1117.8h.7M185.1,1124.7h.7M183.3,1122.0h.7M185.4,1121.2h.7M185.4,1123.0h.7M185.5,1121.7h.7M171.4,1128.1h.7M178.8,1122.2h.7M185.3,1116.1h.7M184.8,1131.1h.7M182.0,1119.4h.7M179.6,1122.7h.7M175.3,1117.0h.7M174.8,1125.9h.7M177.4,1131.1h.7M186.5,1121.1h.7M180.4,1123.0h.7M177.6,1127.5h.7M186.1,1118.5h.7M163.1,1128.2h.7M190.0,1117.6h.7M181.7,1125.9h.7M182.0,1120.4h.7M194.0,1128.0h.7M179.0,1120.3h.7M174.4,1121.7h.7M185.1,1122.1h.7M171.9,1120.8h.7M184.5,1124.7h.7M185.5,1137.3h.7M194.8,1119.3h.7M187.2,1119.5h.7M197.6,1111.5h.7M177.9,1118.4h.7M186.3,1130.3h.7M183.7,1124.2h.7M174.7,1123.4h.7M179.3,1112.2h.7M176.2,1116.2h.7M182.7,1117.6h.7M186.0,1118.8h.7M198.3,1110.6h.7M182.4,1118.7h.7M185.8,1125.4h.7M187.4,1122.8h.7M180.1,1123.3h.7M190.8,1118.3h.7M175.6,1112.0h.7M181.7,1115.3h.7M186.4,1114.9h.7M183.0,1122.7h.7M188.4,1125.2h.7M183.8,1120.5h.7M194.0,1111.0h.7M180.1,1129.9h.7M178.4,1125.6h.7M185.1,1120.7h.7M180.8,1126.6h.7M190.8,1113.5h.7M189.1,1124.4h.7M183.1,1117.8h.7M182.8,1117.6h.7M175.2,1116.1h.7M186.9,1125.2h.7M179.5,1119.8h.7M191.5,1118.8h.7M167.0,1117.3h.7M181.8,1128.1h.7M182.9,1116.9h.7M185.3,1121.2h.7M179.6,1123.1h.7M173.1,1124.8h.7M184.7,1121.3h.7M184.8,1124.3h.7M178.4,1114.8h.7M180.6,1120.4h.7M179.2,1119.6h.7M199.6,1111.9h.7M176.1,1125.3h.7M180.0,1123.4h.7M195.9,1122.3h.7M183.0,1129.0h.7M185.7,1121.5h.7M172.6,1123.6h.7M189.0,1125.7h.7M181.6,1124.7h.7M185.2,1119.5h.7M181.8,1118.9h.7M181.6,1124.6h.7M167.9,1130.2h.7M211.2,1085.5h.7M207.0,1084.8h.7M206.5,1090.7h.7M202.8,1090.2h.7M209.6,1094.6h.7M196.7,1091.9h.7M221.7,1089.6h.7M210.2,1081.4h.7M204.1,1089.7h.7M207.6,1088.9h.7M206.9,1085.6h.7M201.4,1093.7h.7M198.6,1087.3h.7M215.3,1084.5h.7M217.0,1088.6h.7M205.6,1084.4h.7M215.2,1087.5h.7M202.9,1080.6h.7M210.8,1091.4h.7M213.9,1094.1h.7M208.1,1081.3h.7M211.7,1086.7h.7M206.9,1090.3h.7M198.8,1087.4h.7M207.1,1085.3h.7M211.4,1086.5h.7M204.2,1088.2h.7M210.5,1083.1h.7M200.6,1092.4h.7M208.6,1089.5h.7M202.5,1085.9h.7M207.8,1089.0h.7M203.6,1091.2h.7M189.2,1088.4h.7M210.4,1091.8h.7M214.7,1087.0h.7M213.9,1086.1h.7M205.5,1079.9h.7M197.7,1085.1h.7M216.1,1086.3h.7M207.7,1087.0h.7M198.5,1088.2h.7M212.7,1085.9h.7M216.9,1085.7h.7M208.5,1085.3h.7M201.4,1087.1h.7M212.1,1088.0h.7M208.6,1086.0h.7M191.1,1085.4h.7M214.3,1086.2h.7M207.0,1081.4h.7M190.3,1082.7h.7M210.8,1088.3h.7M204.5,1083.3h.7M197.9,1080.2h.7M215.1,1087.3h.7M218.9,1087.5h.7M209.0,1089.4h.7M207.0,1086.6h.7M206.4,1086.9h.7M209.7,1083.6h.7M214.7,1084.8h.7M215.5,1085.6h.7M197.6,1090.1h.7M204.2,1090.5h.7M201.9,1092.6h.7M214.7,1092.1h.7M215.5,1085.4h.7M212.0,1089.3h.7M209.6,1092.2h.7M215.1,1087.7h.7M211.7,1082.7h.7M214.1,1091.5h.7M214.5,1091.0h.7M207.3,1093.6h.7M208.8,1087.2h.7M197.6,1093.9h.7M216.2,1092.1h.7M210.7,1091.2h.7M216.1,1094.0h.7M192.8,1086.4h.7M202.1,1082.9h.7M200.0,1086.6h.7M212.7,1090.4h.7M206.4,1090.7h.7M207.9,1083.4h.7M211.3,1087.5h.7M214.4,1087.0h.7M206.5,1088.4h.7M200.7,1091.1h.7M208.2,1087.9h.7M209.6,1091.4h.7M207.1,1087.5h.7M189.5,1091.5h.7M206.3,1087.5h.7M212.2,1087.9h.7M205.5,1094.3h.7M198.5,1095.2h.7M206.7,1089.5h.7M213.6,1092.1h.7M197.0,1093.0h.7M210.0,1089.2h.7M195.8,1084.7h.7M197.4,1087.6h.7M199.2,1089.8h.7M214.5,1088.9h.7M207.4,1089.1h.7M203.4,1086.5h.7M213.1,1089.1h.7M202.5,1085.0h.7M189.6,1087.1h.7M210.8,1090.0h.7M217.1,1085.0h.7M208.4,1088.5h.7M213.4,1083.9h.7M205.4,1086.9h.7M205.3,1084.0h.7M220.8,1091.5h.7M208.5,1090.9h.7M203.2,1088.5h.7M214.4,1089.9h.7M211.0,1092.2h.7M210.6,1084.4h.7M212.2,1089.5h.7M196.8,1085.1h.7M203.7,1096.4h.7M214.2,1084.3h.7M215.5,1084.0h.7M199.0,1091.0h.7M210.6,1081.5h.7M202.7,1086.8h.7M200.4,1088.0h.7M197.2,1087.4h.7M205.7,1091.4h.7M197.5,1090.0h.7M203.4,1082.4h.7M207.3,1095.0h.7M202.8,1089.6h.7M203.6,1082.0h.7M206.6,1085.5h.7M203.2,1089.8h.7M207.6,1082.5h.7M206.8,1088.8h.7M226.0,1089.4h.7M208.3,1096.3h.7M211.7,1072.6h.7M201.9,1093.3h.7M214.3,1080.1h.7M196.9,1111.6h.7M215.2,1081.3h.7M208.5,1078.5h.7M215.8,1081.8h.7M201.0,1083.5h.7M199.9,1093.7h.7M195.8,1099.4h.7M201.4,1075.6h.7M213.2,1083.9h.7M199.5,1083.9h.7M202.2,1087.4h.7M203.4,1096.9h.7M208.4,1106.6h.7M199.1,1082.8h.7M212.3,1070.9h.7M216.2,1090.8h.7M178.6,1098.8h.7M200.7,1089.3h.7M210.7,1090.0h.7M196.6,1092.4h.7M212.9,1097.7h.7M193.8,1101.5h.7M213.8,1081.4h.7M197.8,1079.5h.7M228.2,1099.8h.7M217.9,1096.9h.7M200.9,1095.2h.7M199.7,1075.6h.7M189.4,1092.5h.7M207.0,1085.4h.7M196.2,1087.9h.7M206.4,1101.5h.7M202.7,1083.9h.7M202.4,1098.9h.7M193.8,1089.1h.7M201.9,1101.2h.7M194.6,1076.5h.7M192.3,1081.2h.7M215.3,1103.9h.7M227.6,1089.7h.7M214.4,1074.9h.7M206.0,1089.6h.7M211.4,1091.6h.7M227.4,1066.5h.7M213.1,1073.2h.7M225.8,1099.6h.7M192.4,1075.3h.7M207.4,1102.5h.7M199.3,1096.1h.7M213.7,1081.4h.7M200.9,1114.1h.7M212.9,1106.7h.7M200.4,1118.7h.7M205.6,1118.4h.7M201.4,1115.5h.7M206.7,1121.3h.7M200.2,1105.0h.7M208.0,1112.6h.7M203.6,1109.8h.7M211.0,1105.6h.7M210.2,1117.2h.7M199.6,1111.2h.7M195.6,1109.7h.7M210.6,1108.3h.7M207.9,1102.3h.7M209.1,1120.2h.7M206.4,1105.7h.7M203.5,1105.4h.7M211.3,1111.4h.7M207.0,1112.5h.7M207.0,1115.1h.7M210.2,1112.8h.7M210.8,1090.5h.7M216.8,1112.3h.7M212.4,1107.5h.7M220.1,1116.4h.7M210.3,1104.0h.7M196.5,1117.0h.7M202.9,1103.5h.7M203.0,1108.0h.7M208.6,1108.2h.7M219.1,1098.7h.7M203.9,1110.6h.7M204.8,1100.6h.7M213.4,1110.9h.7M202.5,1106.9h.7M214.3,1116.5h.7M204.4,1112.8h.7M200.8,1109.9h.7M202.2,1114.3h.7M206.5,1112.8h.7M195.4,1113.8h.7M197.5,1113.7h.7M211.2,1115.9h.7M218.9,1105.2h.7M201.2,1107.7h.7M194.5,1114.6h.7M198.9,1105.1h.7M209.6,1108.7h.7M206.7,1108.8h.7M211.8,1114.9h.7M209.5,1113.5h.7M210.3,1112.1h.7M214.3,1118.4h.7M216.5,1112.9h.7M212.8,1107.9h.7M208.8,1107.9h.7M205.8,1116.9h.7M202.5,1111.9h.7M216.3,1115.5h.7M207.4,1112.9h.7M197.4,1109.8h.7M196.2,1116.6h.7M200.4,1101.3h.7M186.6,1115.8h.7M184.0,1115.6h.7M198.1,1097.9h.7M202.6,1092.7h.7M199.4,1089.9h.7M208.8,1071.9h.7M210.3,1080.0h.7M198.2,1095.5h.7M190.2,1121.2h.7M189.7,1116.4h.7M203.4,1108.5h.7M193.6,1101.5h.7M183.1,1114.8h.7M191.9,1113.3h.7M186.3,1108.4h.7M179.5,1110.5h.7M201.3,1096.4h.7M195.4,1098.7h.7M207.3,1090.6h.7M197.5,1099.5h.7M186.8,1119.1h.7M208.3,1092.6h.7M208.2,1095.6h.7M201.4,1102.1h.7M203.1,1103.1h.7M200.5,1092.8h.7M211.6,1091.2h.7M205.6,1091.0h.7M180.9,1106.6h.7M192.3,1083.7h.7M191.7,1101.3h.7M200.7,1097.2h.7M211.6,1095.4h.7M199.6,1095.6h.7M206.1,1095.9h.7M192.2,1106.3h.7M202.5,1094.8h.7M182.6,1104.0h.7M192.2,1112.5h.7M195.7,1110.1h.7M188.5,1113.4h.7M196.1,1106.3h.7M192.1,1107.6h.7M200.8,1097.8h.7M193.5,1097.4h.7M180.0,1126.7h.7M191.7,1107.8h.7M195.0,1100.6h.7M188.5,1120.1h.7M185.6,1101.6h.7M174.1,1122.7h.7M197.2,1098.4h.7" stroke="#f02020" stroke-width="0.7" fill="none" opacity="0.4" filter="url(#fb)"/>
<path d="M181.8,1125.2h.7M185.9,1126.4h.7M174.8,1121.0h.7M173.0,1121.2h.7M181.1,1117.8h.7M187.8,1122.3h.7M185.2,1117.0h.7M181.4,1120.1h.7M162.4,1111.2h.7M183.0,1125.6h.7M185.3,1121.6h.7M165.8,1123.7h.7M178.2,1130.8h.7M177.8,1130.1h.7M179.0,1117.2h.7M181.6,1120.1h.7M181.6,1106.8h.7M191.9,1123.6h.7M192.8,1115.4h.7M182.0,1115.4h.7M181.9,1124.4h.7M197.9,1113.1h.7M195.6,1109.9h.7M184.8,1123.2h.7M174.1,1115.7h.7M182.7,1114.6h.7M186.8,1122.3h.7M183.1,1118.3h.7M187.3,1117.0h.7M183.1,1121.3h.7M187.0,1124.1h.7M170.9,1127.7h.7M163.3,1123.0h.7M172.9,1114.0h.7M189.3,1124.5h.7M191.8,1125.0h.7M167.3,1128.8h.7M191.7,1116.4h.7M174.1,1129.8h.7M183.4,1123.5h.7M195.3,1120.6h.7M183.0,1118.0h.7M180.8,1127.1h.7M185.0,1113.5h.7M184.6,1121.6h.7M188.0,1106.3h.7M186.4,1138.2h.7M178.8,1121.7h.7M180.8,1114.8h.7M185.7,1119.5h.7M181.5,1120.4h.7M189.6,1111.6h.7M172.8,1125.0h.7M185.2,1111.3h.7M176.3,1118.9h.7M182.4,1121.2h.7M181.3,1120.1h.7M180.7,1117.0h.7M175.2,1125.2h.7M186.0,1122.6h.7M189.2,1120.4h.7M174.1,1127.0h.7M188.1,1123.3h.7M189.2,1114.8h.7M192.5,1114.1h.7M167.5,1115.7h.7M180.7,1116.6h.7M181.3,1125.0h.7M188.7,1117.6h.7M184.2,1126.7h.7M187.1,1120.6h.7M188.3,1122.7h.7M191.8,1114.5h.7M184.9,1120.4h.7M188.0,1118.8h.7M186.3,1106.6h.7M174.7,1123.5h.7M177.8,1112.7h.7M182.6,1117.6h.7M184.7,1127.1h.7M170.8,1129.1h.7M186.5,1131.7h.7M179.4,1118.0h.7M187.0,1118.4h.7M184.9,1125.2h.7M180.6,1124.0h.7M172.3,1135.3h.7M176.1,1107.2h.7M182.0,1124.1h.7M182.2,1119.4h.7M184.7,1120.5h.7M184.7,1128.2h.7M180.9,1126.8h.7M179.1,1120.1h.7M178.8,1106.3h.7M170.4,1128.2h.7M183.4,1113.2h.7M181.9,1125.6h.7M186.3,1121.0h.7M178.0,1121.7h.7M177.5,1126.7h.7M178.6,1108.6h.7M177.6,1121.3h.7M181.6,1125.8h.7M177.0,1123.3h.7M173.7,1126.3h.7M185.9,1121.8h.7M184.4,1126.8h.7M183.0,1125.0h.7M175.1,1129.1h.7M181.2,1124.1h.7M183.3,1121.6h.7M193.1,1117.4h.7M184.4,1119.2h.7M183.3,1129.5h.7M188.5,1122.1h.7M187.7,1115.1h.7M176.0,1129.2h.7M185.2,1127.8h.7M189.7,1119.6h.7M176.4,1120.2h.7M181.9,1121.8h.7M179.0,1122.8h.7M180.5,1121.9h.7M191.3,1121.2h.7M190.1,1105.3h.7M183.3,1117.9h.7M163.2,1130.4h.7M189.6,1125.4h.7M187.8,1120.7h.7M184.8,1122.7h.7M178.6,1119.4h.7M175.7,1121.9h.7M206.6,1124.9h.7M182.3,1119.7h.7M184.6,1127.1h.7M185.7,1122.4h.7M182.9,1121.7h.7M175.2,1121.6h.7M172.4,1129.4h.7M191.1,1109.2h.7M193.0,1117.0h.7M187.7,1120.0h.7M176.9,1114.7h.7M185.8,1127.7h.7M181.5,1117.3h.7M181.4,1126.4h.7M175.8,1118.6h.7M188.4,1117.9h.7M176.1,1114.1h.7M178.4,1129.6h.7M184.6,1118.5h.7M188.0,1107.7h.7M185.1,1121.3h.7M191.4,1115.3h.7M183.8,1119.0h.7M176.8,1123.9h.7M184.4,1115.3h.7M183.0,1124.2h.7M180.3,1122.1h.7M196.8,1121.3h.7M179.3,1125.3h.7M184.9,1123.7h.7M177.7,1123.2h.7M180.7,1113.8h.7M186.7,1110.3h.7M186.8,1123.8h.7M182.2,1128.4h.7M182.0,1124.1h.7M181.8,1119.2h.7M190.3,1122.1h.7M176.8,1128.7h.7M187.8,1130.5h.7M181.9,1114.0h.7M176.0,1128.0h.7M179.6,1121.6h.7M172.8,1121.2h.7M175.2,1123.7h.7M177.3,1122.7h.7M182.3,1118.7h.7M183.4,1124.2h.7M190.7,1123.7h.7M174.6,1117.7h.7M173.9,1129.4h.7M177.4,1131.8h.7M192.9,1119.8h.7M182.6,1117.1h.7M189.4,1111.8h.7M174.8,1115.5h.7M183.9,1117.8h.7M183.1,1120.5h.7M173.3,1127.0h.7M184.7,1119.7h.7M181.2,1120.4h.7M184.1,1119.3h.7M178.6,1119.7h.7M177.8,1126.1h.7M190.0,1116.8h.7M171.6,1120.4h.7M191.5,1119.2h.7M188.0,1118.9h.7M175.6,1119.6h.7M187.8,1115.3h.7M180.4,1119.0h.7M184.2,1122.2h.7M181.8,1126.1h.7M186.9,1120.1h.7M181.1,1122.9h.7M184.9,1119.7h.7M183.7,1121.3h.7M192.1,1119.6h.7M186.0,1118.1h.7M180.8,1119.4h.7M179.4,1127.7h.7M177.0,1127.1h.7M182.8,1122.7h.7M169.1,1118.7h.7M187.4,1114.4h.7M172.1,1119.4h.7M174.8,1129.0h.7M183.7,1119.7h.7M184.5,1134.5h.7M189.4,1121.3h.7M190.2,1129.5h.7M185.4,1126.5h.7M192.2,1121.6h.7M185.3,1126.2h.7M184.1,1121.6h.7M181.5,1123.2h.7M199.3,1117.0h.7M182.4,1116.2h.7M181.3,1112.7h.7M166.1,1113.9h.7M190.4,1111.7h.7M192.3,1119.4h.7M190.0,1124.3h.7M181.9,1120.3h.7M183.6,1121.9h.7M188.2,1129.8h.7M194.5,1122.4h.7M184.7,1112.7h.7M186.0,1122.8h.7M184.5,1120.0h.7M175.4,1135.4h.7M184.5,1118.7h.7M186.3,1124.2h.7M191.8,1128.5h.7M188.6,1128.3h.7M181.6,1119.1h.7M180.0,1130.2h.7M181.9,1121.4h.7M180.1,1121.9h.7M178.9,1115.7h.7M193.7,1120.0h.7M181.1,1121.4h.7M191.9,1124.6h.7M188.3,1123.7h.7M190.0,1125.7h.7M177.9,1128.1h.7M177.4,1122.5h.7M180.4,1128.8h.7M183.8,1110.5h.7M191.2,1115.8h.7M174.6,1118.0h.7M184.0,1119.2h.7M170.5,1123.4h.7M189.3,1121.4h.7M176.4,1119.7h.7M187.8,1119.2h.7M177.7,1128.3h.7M186.3,1121.7h.7M178.2,1131.8h.7M179.9,1114.3h.7M169.6,1128.7h.7M184.8,1118.9h.7M176.0,1128.1h.7M181.0,1129.5h.7M180.6,1120.9h.7M179.6,1135.1h.7M173.3,1121.7h.7M182.1,1115.4h.7M176.4,1123.1h.7M178.0,1132.6h.7M176.7,1126.1h.7M179.5,1129.9h.7M186.0,1123.3h.7M190.4,1110.8h.7M185.1,1114.6h.7M187.0,1122.2h.7M172.8,1124.0h.7M182.2,1117.0h.7M190.5,1115.7h.7M183.2,1122.3h.7M184.6,1116.9h.7M183.9,1114.8h.7M188.3,1117.2h.7M184.4,1125.1h.7M185.8,1125.9h.7M174.4,1127.8h.7M188.4,1124.4h.7M179.1,1123.7h.7M180.9,1124.5h.7M182.2,1116.5h.7M186.0,1121.2h.7M183.9,1123.0h.7M183.3,1128.1h.7M181.7,1111.6h.7M177.3,1127.1h.7M188.9,1114.3h.7M187.5,1120.0h.7M198.9,1117.9h.7M182.8,1117.8h.7M181.9,1118.3h.7M177.4,1128.3h.7M182.9,1123.0h.7M168.7,1134.9h.7M179.5,1113.3h.7M181.3,1122.1h.7M175.3,1128.1h.7M161.1,1124.7h.7M182.3,1124.9h.7M177.0,1123.0h.7M180.2,1127.1h.7M183.8,1115.0h.7M174.7,1126.5h.7M199.3,1114.9h.7M191.1,1121.3h.7M194.7,1116.5h.7M166.4,1115.7h.7M192.1,1118.4h.7M182.6,1125.6h.7M182.4,1112.3h.7M181.6,1125.7h.7M193.4,1118.9h.7M184.3,1113.5h.7M182.6,1120.7h.7M175.7,1116.2h.7M199.1,1111.1h.7M195.4,1113.6h.7M183.0,1119.3h.7M188.1,1117.1h.7M182.5,1125.3h.7M188.1,1119.5h.7M180.9,1122.5h.7M185.9,1121.7h.7M180.2,1121.4h.7M185.8,1115.1h.7M181.9,1117.7h.7M181.7,1119.2h.7M180.8,1123.7h.7M186.1,1125.6h.7M174.3,1129.2h.7M186.2,1115.1h.7M185.2,1116.7h.7M179.9,1129.1h.7M176.2,1106.0h.7M186.2,1124.5h.7M178.3,1121.6h.7M181.2,1123.5h.7M170.2,1123.7h.7M187.7,1123.5h.7M179.9,1122.7h.7M172.8,1134.6h.7M191.8,1118.2h.7M185.8,1120.5h.7M173.6,1121.9h.7M181.6,1111.2h.7M180.9,1124.8h.7M189.1,1110.1h.7M181.7,1133.3h.7M180.7,1127.4h.7M186.7,1117.6h.7M182.2,1116.2h.7M188.9,1120.7h.7M185.8,1123.0h.7M167.6,1118.7h.7M187.7,1126.3h.7M180.8,1120.7h.7M186.8,1124.8h.7M179.8,1133.2h.7M185.4,1119.7h.7M185.0,1122.3h.7M180.8,1116.2h.7M183.6,1129.5h.7M188.4,1118.2h.7M185.4,1122.3h.7M182.3,1115.8h.7M185.3,1117.9h.7M170.3,1135.2h.7M190.1,1129.8h.7M179.7,1121.1h.7M185.9,1115.4h.7M185.6,1116.7h.7M185.1,1116.5h.7M186.0,1117.4h.7M185.9,1121.4h.7M187.5,1121.4h.7M175.1,1109.4h.7M186.7,1120.0h.7M180.9,1119.3h.7M189.3,1130.6h.7M182.5,1121.7h.7M173.7,1112.1h.7M183.3,1120.8h.7M187.5,1116.4h.7M192.1,1123.2h.7M184.6,1119.0h.7M177.0,1119.7h.7M170.3,1115.7h.7M173.9,1126.0h.7M182.0,1124.6h.7M190.1,1121.6h.7M187.4,1126.4h.7M178.6,1124.4h.7M182.6,1128.3h.7M165.8,1128.7h.7M176.6,1124.0h.7M183.7,1122.5h.7M186.1,1121.5h.7M181.0,1121.1h.7M192.4,1116.8h.7M187.3,1112.6h.7M183.0,1117.8h.7M181.9,1124.8h.7M182.8,1132.2h.7M177.2,1120.5h.7M183.4,1112.5h.7M183.7,1118.3h.7M179.7,1119.2h.7M181.9,1120.1h.7M186.1,1117.3h.7M190.2,1124.9h.7M188.5,1121.5h.7M183.4,1118.5h.7M182.8,1127.6h.7M184.2,1130.5h.7M181.2,1117.1h.7M189.2,1121.7h.7M180.4,1121.9h.7M185.6,1122.4h.7M186.2,1122.1h.7M187.9,1116.8h.7M184.8,1126.7h.7M194.2,1118.7h.7M183.5,1116.6h.7M186.7,1121.2h.7M179.1,1134.1h.7M181.5,1105.8h.7M179.8,1119.8h.7M190.0,1116.4h.7M191.2,1124.2h.7M191.7,1110.3h.7M184.8,1112.6h.7M185.0,1119.2h.7M182.7,1117.5h.7M184.9,1125.7h.7M182.1,1108.5h.7M190.3,1121.4h.7M179.5,1130.8h.7M185.4,1120.1h.7M189.0,1121.4h.7M176.3,1126.3h.7M187.1,1114.9h.7M177.0,1128.9h.7M187.7,1118.9h.7M191.5,1112.8h.7M189.5,1116.3h.7M175.3,1126.8h.7M182.2,1123.6h.7M166.3,1137.8h.7M190.3,1116.0h.7M188.1,1123.2h.7M175.1,1132.8h.7M187.1,1125.0h.7M185.0,1114.2h.7M182.1,1125.2h.7M176.6,1124.8h.7M179.3,1119.8h.7M171.6,1115.8h.7M170.7,1124.8h.7M178.4,1125.9h.7M178.6,1121.1h.7M190.0,1111.7h.7M184.3,1114.0h.7M193.6,1124.8h.7M173.1,1113.4h.7M183.0,1118.9h.7M186.3,1121.7h.7M189.3,1132.8h.7M190.3,1123.8h.7M179.9,1123.4h.7M171.0,1107.2h.7M192.9,1113.2h.7M198.9,1115.2h.7M188.3,1124.5h.7M178.3,1131.1h.7M194.1,1115.5h.7M188.5,1114.4h.7M191.0,1116.5h.7M177.3,1129.2h.7M189.9,1120.7h.7M186.3,1115.8h.7M184.9,1123.6h.7M175.4,1120.7h.7M180.3,1123.1h.7M186.8,1120.7h.7M185.9,1126.9h.7M184.4,1114.2h.7M185.2,1120.5h.7M174.3,1114.8h.7M191.5,1122.5h.7M183.1,1120.7h.7M176.4,1119.3h.7M182.5,1120.1h.7M181.9,1123.1h.7M180.7,1125.0h.7M188.6,1123.8h.7M172.1,1118.8h.7M179.3,1113.9h.7M184.6,1118.1h.7M188.3,1121.6h.7M173.3,1115.8h.7M190.3,1097.6h.7M186.7,1119.8h.7M188.1,1115.6h.7M181.7,1111.4h.7M180.3,1121.6h.7M189.5,1115.3h.7M184.9,1124.0h.7M189.1,1118.8h.7M177.8,1116.3h.7M185.5,1132.3h.7M182.2,1128.4h.7M186.6,1117.5h.7M186.6,1112.5h.7M186.0,1117.2h.7M184.8,1121.9h.7M183.9,1118.5h.7M175.3,1117.8h.7M190.8,1119.8h.7M190.9,1122.9h.7M186.6,1120.9h.7M166.4,1122.4h.7M183.9,1118.7h.7M181.9,1125.9h.7M181.6,1123.4h.7M185.0,1125.7h.7M179.3,1119.2h.7M190.1,1115.2h.7M187.1,1129.0h.7M180.0,1112.5h.7M183.8,1117.8h.7M177.7,1124.6h.7M184.1,1124.2h.7M178.1,1124.5h.7M175.0,1116.2h.7M172.3,1123.8h.7M183.5,1110.8h.7M184.0,1122.3h.7M177.7,1121.2h.7M175.3,1125.3h.7M178.7,1119.0h.7M181.1,1117.2h.7M189.7,1121.0h.7M175.3,1121.0h.7M172.8,1139.1h.7M184.9,1114.1h.7M184.2,1114.5h.7M192.8,1117.5h.7M185.2,1125.7h.7M193.7,1121.9h.7M184.5,1128.8h.7M181.1,1118.3h.7M187.8,1125.9h.7M175.3,1128.4h.7M182.8,1127.7h.7M185.7,1122.7h.7M185.7,1109.4h.7M182.0,1119.7h.7M192.4,1126.0h.7M179.8,1116.5h.7M176.9,1124.1h.7M167.2,1133.3h.7M191.7,1120.5h.7M179.3,1112.3h.7M164.1,1132.2h.7M182.9,1126.2h.7M186.2,1118.6h.7M195.1,1090.6h.7M206.2,1087.5h.7M194.6,1083.4h.7M200.4,1093.2h.7M196.9,1082.7h.7M207.8,1094.9h.7M219.3,1087.4h.7M209.4,1085.4h.7M200.6,1087.0h.7M199.1,1092.8h.7M210.2,1086.5h.7M206.8,1082.9h.7M200.6,1088.5h.7M206.4,1088.3h.7M196.2,1091.0h.7M203.3,1091.9h.7M191.4,1089.0h.7M215.1,1090.3h.7M202.6,1090.0h.7M205.9,1086.1h.7M193.5,1086.8h.7M203.9,1089.5h.7M208.9,1085.6h.7M205.1,1090.4h.7M205.2,1086.1h.7M216.8,1087.7h.7M191.2,1087.6h.7M215.8,1086.6h.7M203.3,1087.0h.7M209.8,1084.5h.7M214.0,1087.8h.7M202.6,1087.5h.7M204.9,1082.5h.7M205.7,1085.2h.7M209.4,1087.2h.7M196.8,1088.8h.7M199.2,1088.1h.7M208.6,1088.8h.7M201.0,1089.1h.7M203.8,1088.9h.7M206.4,1087.5h.7M206.3,1084.7h.7M204.4,1091.6h.7M197.5,1092.4h.7M208.7,1089.1h.7M203.5,1090.4h.7M201.8,1089.7h.7M209.1,1086.0h.7M212.7,1088.6h.7M204.1,1080.8h.7M219.9,1091.3h.7M209.7,1089.4h.7M207.1,1090.0h.7M192.9,1092.4h.7M210.5,1090.5h.7M220.7,1087.9h.7M206.4,1087.7h.7M206.2,1084.4h.7M223.8,1085.7h.7M218.1,1084.5h.7M217.1,1078.9h.7M203.8,1086.5h.7M201.2,1087.9h.7M222.2,1091.4h.7M210.1,1087.1h.7M212.8,1085.2h.7M206.7,1092.9h.7M214.4,1089.8h.7M195.6,1092.9h.7M212.2,1085.2h.7M203.5,1088.0h.7M216.5,1087.4h.7M204.0,1087.9h.7M195.5,1088.7h.7M208.5,1085.3h.7M210.1,1094.6h.7M219.9,1086.7h.7M220.7,1091.8h.7M193.6,1089.1h.7M211.1,1086.8h.7M212.6,1085.7h.7M211.6,1089.5h.7M190.4,1084.7h.7M195.3,1093.6h.7M192.8,1086.0h.7M212.7,1087.2h.7M213.0,1083.6h.7M228.1,1083.3h.7M215.4,1085.2h.7M208.9,1086.4h.7M206.3,1086.6h.7M210.8,1087.5h.7M197.4,1081.0h.7M217.7,1087.5h.7M207.4,1085.3h.7M202.0,1089.6h.7M209.1,1092.4h.7M198.7,1088.8h.7M205.4,1089.0h.7M203.3,1084.7h.7M216.9,1090.3h.7M204.2,1089.9h.7M208.5,1090.9h.7M185.1,1085.1h.7M209.4,1085.2h.7M203.3,1087.9h.7M204.0,1083.7h.7M218.6,1089.1h.7M204.8,1084.8h.7M210.5,1087.7h.7M214.0,1088.5h.7M213.8,1087.6h.7M217.8,1086.8h.7M201.3,1087.2h.7M208.5,1093.3h.7M202.4,1083.6h.7M195.0,1065.8h.7M202.3,1067.9h.7M211.5,1094.2h.7M212.5,1080.8h.7M221.7,1089.5h.7M205.4,1093.9h.7M200.8,1100.0h.7M211.2,1085.0h.7M209.0,1076.9h.7M195.2,1075.9h.7M198.0,1084.9h.7M213.2,1092.3h.7M203.7,1076.7h.7M203.1,1095.3h.7M201.8,1096.2h.7M201.3,1091.6h.7M221.5,1084.1h.7M213.7,1099.9h.7M209.0,1097.9h.7M182.7,1095.8h.7M204.5,1084.0h.7M229.4,1092.3h.7M206.1,1080.2h.7M211.5,1082.8h.7M210.7,1089.2h.7M203.3,1108.9h.7M209.4,1080.2h.7M203.8,1077.5h.7M201.0,1089.4h.7M204.1,1103.3h.7M208.3,1094.3h.7M223.3,1090.4h.7M201.4,1118.0h.7M207.9,1106.1h.7M206.7,1110.1h.7M207.8,1105.1h.7M209.0,1101.2h.7M198.7,1113.5h.7M214.9,1113.4h.7M211.3,1116.2h.7M216.2,1116.8h.7M199.7,1117.6h.7M205.6,1112.5h.7M201.0,1112.3h.7M201.1,1103.9h.7M201.5,1103.1h.7M204.6,1105.7h.7M204.4,1117.1h.7M208.2,1109.5h.7M202.0,1109.3h.7M212.2,1109.0h.7M210.0,1104.8h.7M206.9,1114.5h.7M204.2,1102.5h.7M205.5,1114.6h.7M219.6,1108.5h.7M211.3,1108.4h.7M203.9,1107.4h.7M199.6,1106.2h.7M193.8,1101.7h.7M203.7,1102.1h.7M207.1,1085.5h.7M193.1,1111.7h.7M190.6,1109.5h.7M192.9,1107.1h.7M191.0,1113.0h.7M197.0,1100.6h.7M186.4,1115.9h.7M200.6,1087.5h.7M185.9,1107.7h.7M189.9,1092.8h.7M181.8,1125.1h.7M193.0,1088.5h.7M189.3,1116.2h.7M178.6,1121.1h.7M194.6,1099.3h.7M189.5,1119.8h.7M193.1,1106.1h.7M202.4,1087.9h.7M189.9,1117.3h.7M187.2,1102.8h.7M186.8,1107.0h.7M181.2,1103.1h.7M197.3,1103.3h.7M197.9,1096.3h.7M200.4,1112.1h.7M202.4,1087.8h.7M202.8,1097.4h.7M187.7,1102.9h.7M198.7,1095.3h.7M184.6,1116.1h.7M185.0,1126.3h.7M190.4,1104.5h.7M188.9,1120.9h.7M187.1,1113.5h.7M193.3,1116.3h.7" stroke="#e81010" stroke-width="0.7" fill="none" opacity="0.6"/>
</g>
<clipPath id="fc3"><rect x="276.5" y="1047.5" width="90.0" height="90.0"/></clipPath>
<path d="M276.5,1047.5V1137.5H366.5" fill="none" stroke="#b4b4b4" stroke-width="0.7"/>
<path d="M276.5,1047.5H366.5V1137.5" fill="none" stroke="#808080" stroke-width="0.8"/>
<line x1="324.5" y1="1047.5" x2="324.5" y2="1137.5" stroke="#6c6c6c" stroke-width="0.9"/>
<line x1="276.5" y1="1103.5" x2="366.5" y2="1103.5" stroke="#606060" stroke-width="0.9"/>
<path d="M274.3,1134.5h2.2M280.5,1137.5v2.2M275.4,1128.3h1.1M286.8,1137.5v1.1M275.4,1124.7h1.1M290.6,1137.5v1.1M275.4,1122.2h1.1M293.1,1137.5v1.1M275.4,1120.2h1.1M295.2,1137.5v1.1M275.4,1118.5h1.1M296.9,1137.5v1.1M275.4,1117.1h1.1M298.4,1137.5v1.1M275.4,1116.0h1.1M299.4,1137.5v1.1M275.4,1115.0h1.1M300.4,1137.5v1.1M274.3,1114.0h2.2M301.5,1137.5v2.2M275.4,1107.8h1.1M307.8,1137.5v1.1M275.4,1104.2h1.1M311.6,1137.5v1.1M275.4,1101.7h1.1M314.1,1137.5v1.1M275.4,1099.7h1.1M316.2,1137.5v1.1M275.4,1098.0h1.1M317.9,1137.5v1.1M275.4,1096.6h1.1M319.4,1137.5v1.1M275.4,1095.5h1.1M320.4,1137.5v1.1M275.4,1094.5h1.1M321.4,1137.5v1.1M274.3,1093.5h2.2M322.5,1137.5v2.2M275.4,1087.3h1.1M328.8,1137.5v1.1M275.4,1083.7h1.1M332.6,1137.5v1.1M275.4,1081.2h1.1M335.1,1137.5v1.1M275.4,1079.2h1.1M337.2,1137.5v1.1M275.4,1077.5h1.1M338.9,1137.5v1.1M275.4,1076.1h1.1M340.4,1137.5v1.1M275.4,1075.0h1.1M341.4,1137.5v1.1M275.4,1074.0h1.1M342.4,1137.5v1.1M274.3,1073.0h2.2M343.5,1137.5v2.2M275.4,1066.8h1.1M349.8,1137.5v1.1M275.4,1063.2h1.1M353.6,1137.5v1.1M275.4,1060.7h1.1M356.1,1137.5v1.1M275.4,1058.7h1.1M358.2,1137.5v1.1M275.4,1057.0h1.1M359.9,1137.5v1.1M275.4,1055.6h1.1M361.4,1137.5v1.1M275.4,1054.5h1.1M362.4,1137.5v1.1M275.4,1053.5h1.1M363.4,1137.5v1.1M274.3,1052.5h2.2M364.5,1137.5v2.2" stroke="#999" stroke-width="0.45" fill="none"/>
<text x="272.0" y="1136.1" font-size="5" fill="#555" text-anchor="end" font-family="Liberation Serif, serif">10<tspan dy="-1.6" font-size="3.4">0</tspan></text>
<text x="280.5" y="1145.7" font-size="5" fill="#555" text-anchor="middle" font-family="Liberation Serif, serif">10<tspan dy="-1.6" font-size="3.4">0</tspan></text>
<text x="272.0" y="1115.6" font-size="5" fill="#555" text-anchor="end" font-family="Liberation Serif, serif">10<tspan dy="-1.6" font-size="3.4">1</tspan></text>
<text x="301.5" y="1145.7" font-size="5" fill="#555" text-anchor="middle" font-family="Liberation Serif, serif">10<tspan dy="-1.6" font-size="3.4">1</tspan></text>
<text x="272.0" y="1095.1" font-size="5" fill="#555" text-anchor="end" font-family="Liberation Serif, serif">10<tspan dy="-1.6" font-size="3.4">2</tspan></text>
<text x="322.5" y="1145.7" font-size="5" fill="#555" text-anchor="middle" font-family="Liberation Serif, serif">10<tspan dy="-1.6" font-size="3.4">2</tspan></text>
<text x="272.0" y="1074.6" font-size="5" fill="#555" text-anchor="end" font-family="Liberation Serif, serif">10<tspan dy="-1.6" font-size="3.4">3</tspan></text>
<text x="343.5" y="1145.7" font-size="5" fill="#555" text-anchor="middle" font-family="Liberation Serif, serif">10<tspan dy="-1.6" font-size="3.4">3</tspan></text>
<text x="272.0" y="1054.1" font-size="5" fill="#555" text-anchor="end" font-family="Liberation Serif, serif">10<tspan dy="-1.6" font-size="3.4">4</tspan></text>
<text x="364.5" y="1145.7" font-size="5" fill="#555" text-anchor="middle" font-family="Liberation Serif, serif">10<tspan dy="-1.6" font-size="3.4">4</tspan></text>
<text x="318.5" y="1156.8" font-size="5.5" fill="#505050" text-anchor="middle" font-family="Liberation Serif, serif">Annexin V-FITC</text>
<text x="251.5" y="1095.5" font-size="4.6" fill="#555" text-anchor="middle" font-family="Liberation Serif, serif">PI</text>
<g clip-path="url(#fc3)">
<ellipse cx="309.2" cy="1122.6" rx="8.8" ry="7.4" fill="url(#fg)" transform="rotate(-38 309.2 1122.6)"/>
<ellipse cx="335.6" cy="1085.0" rx="11.9" ry="5.4" fill="url(#fu)"/>
<path d="M316.0,1136.9h.7M308.2,1121.2h.7M302.8,1127.8h.7M314.0,1128.3h.7M309.5,1123.4h.7M299.5,1135.7h.7M315.3,1122.0h.7M306.8,1122.5h.7M315.6,1116.7h.7M311.1,1119.1h.7M316.4,1116.3h.7M311.3,1125.3h.7M302.5,1125.6h.7M309.5,1123.5h.7M309.9,1127.1h.7M311.7,1113.0h.7M307.9,1126.8h.7M310.9,1126.5h.7M305.0,1127.7h.7M311.9,1122.9h.7M310.4,1122.5h.7M305.0,1134.3h.7M314.7,1119.5h.7M315.7,1117.9h.7M304.4,1121.7h.7M310.9,1123.7h.7M306.2,1125.2h.7M306.4,1116.8h.7M306.7,1126.6h.7M313.2,1127.8h.7M313.4,1121.1h.7M302.5,1125.8h.7M312.1,1120.8h.7M290.8,1126.2h.7M316.2,1115.9h.7M308.8,1135.8h.7M307.2,1127.3h.7M296.4,1126.6h.7M316.3,1122.2h.7M309.1,1111.4h.7M315.8,1113.4h.7M311.9,1116.1h.7M303.7,1121.8h.7M307.6,1126.6h.7M315.5,1124.3h.7M313.0,1125.2h.7M303.2,1128.9h.7M310.7,1125.6h.7M308.4,1119.7h.7M306.6,1115.9h.7M312.5,1124.0h.7M317.1,1129.0h.7M301.9,1131.8h.7M314.0,1119.6h.7M311.0,1117.0h.7M304.3,1117.9h.7M298.8,1125.5h.7M310.6,1116.0h.7M308.5,1123.7h.7M311.9,1122.6h.7M324.1,1128.1h.7M299.5,1118.7h.7M294.5,1113.0h.7M314.5,1117.8h.7M311.4,1124.4h.7M306.1,1128.7h.7M309.0,1124.4h.7M307.4,1126.9h.7M308.7,1111.6h.7M310.8,1130.6h.7M299.7,1127.4h.7M302.2,1122.6h.7M304.7,1121.9h.7M313.4,1130.2h.7M310.8,1119.7h.7M316.2,1120.8h.7M317.1,1119.2h.7M321.2,1116.6h.7M307.3,1124.7h.7M310.8,1128.9h.7M310.8,1122.1h.7M306.5,1119.2h.7M307.2,1120.2h.7M305.0,1121.9h.7M303.2,1115.5h.7M307.8,1132.7h.7M306.8,1122.0h.7M313.8,1131.3h.7M312.8,1127.5h.7M313.2,1124.6h.7M312.2,1112.3h.7M308.9,1120.5h.7M313.2,1112.5h.7M304.4,1121.9h.7M315.9,1110.9h.7M305.1,1124.7h.7M303.3,1122.5h.7M314.4,1120.0h.7M312.6,1127.0h.7M308.0,1127.1h.7M305.5,1124.8h.7M313.4,1118.9h.7M306.7,1109.5h.7M304.5,1118.9h.7M304.8,1124.5h.7M298.1,1130.2h.7M318.1,1125.2h.7M306.9,1124.7h.7M309.3,1113.1h.7M310.2,1132.1h.7M306.1,1117.3h.7M306.9,1119.4h.7M304.4,1119.7h.7M310.5,1123.9h.7M314.0,1127.6h.7M313.3,1121.3h.7M300.5,1126.0h.7M305.7,1125.9h.7M311.9,1123.1h.7M311.5,1121.9h.7M298.1,1121.3h.7M306.2,1119.8h.7M311.9,1122.5h.7M303.8,1134.7h.7M295.5,1121.2h.7M310.1,1119.9h.7M309.4,1132.8h.7M304.7,1127.0h.7M305.0,1126.6h.7M315.2,1114.6h.7M306.2,1120.4h.7M307.1,1125.1h.7M306.6,1126.0h.7M301.8,1125.7h.7M315.1,1119.1h.7M304.4,1113.4h.7M305.2,1134.5h.7M311.3,1119.1h.7M312.6,1116.6h.7M309.2,1122.4h.7M310.4,1120.5h.7M317.2,1125.7h.7M311.0,1126.1h.7M313.0,1128.1h.7M305.9,1116.2h.7M315.5,1123.3h.7M312.1,1117.6h.7M304.9,1123.0h.7M309.9,1126.4h.7M311.3,1117.6h.7M310.1,1127.4h.7M308.6,1119.9h.7M306.2,1120.2h.7M295.4,1123.8h.7M308.2,1121.9h.7M309.6,1133.5h.7M317.1,1116.0h.7M312.4,1116.4h.7M308.2,1124.0h.7M306.4,1129.3h.7M314.0,1116.5h.7M307.9,1124.0h.7M307.8,1118.6h.7M309.0,1122.8h.7M312.4,1116.3h.7M322.1,1125.1h.7M303.9,1121.1h.7M310.8,1122.6h.7M319.3,1120.8h.7M305.2,1131.3h.7M310.1,1124.7h.7M308.2,1131.4h.7M305.8,1123.2h.7M307.4,1127.8h.7M306.7,1124.1h.7M306.8,1127.1h.7M303.1,1128.0h.7M317.3,1122.5h.7M309.3,1121.4h.7M306.4,1122.0h.7M309.1,1125.5h.7M302.1,1128.9h.7M313.5,1126.9h.7M311.2,1126.2h.7M318.6,1124.0h.7M310.7,1119.9h.7M312.2,1118.4h.7M302.2,1121.0h.7M311.1,1116.1h.7M307.7,1124.2h.7M301.6,1119.1h.7M313.1,1117.1h.7M309.7,1122.5h.7M312.7,1116.5h.7M306.6,1120.8h.7M308.1,1118.6h.7M308.5,1126.4h.7M306.6,1117.0h.7M309.0,1123.9h.7M303.3,1122.4h.7M312.8,1120.5h.7M304.7,1123.1h.7M307.1,1118.2h.7M305.1,1117.8h.7M311.7,1121.1h.7M302.4,1120.9h.7M309.8,1123.5h.7M307.2,1114.5h.7M313.9,1121.1h.7M306.6,1127.8h.7M310.2,1121.6h.7M314.3,1119.6h.7M306.5,1133.3h.7M309.8,1123.0h.7M319.6,1119.8h.7M310.6,1124.1h.7M317.0,1128.1h.7M307.5,1122.9h.7M312.3,1118.8h.7M298.2,1123.8h.7M311.4,1123.7h.7M315.1,1115.1h.7M306.9,1123.8h.7M325.5,1115.8h.7M312.3,1125.3h.7M308.8,1125.2h.7M310.7,1117.9h.7M307.1,1125.6h.7M302.0,1124.9h.7M316.6,1117.0h.7M306.2,1123.3h.7M297.2,1126.0h.7M314.4,1118.3h.7M306.0,1128.7h.7M310.9,1121.1h.7M313.7,1121.9h.7M312.7,1125.0h.7M318.1,1116.0h.7M309.0,1123.0h.7M314.9,1120.5h.7M321.4,1125.4h.7M307.2,1124.5h.7M302.4,1122.9h.7M312.1,1124.5h.7M308.2,1122.7h.7M298.4,1127.3h.7M305.9,1125.4h.7M310.7,1116.8h.7M312.2,1117.6h.7M305.1,1119.1h.7M317.0,1129.6h.7M311.3,1117.6h.7M311.3,1125.0h.7M309.9,1123.3h.7M306.8,1118.9h.7M312.4,1127.9h.7M314.2,1126.3h.7M311.6,1116.3h.7M315.2,1120.3h.7M308.0,1132.2h.7M311.4,1127.0h.7M308.7,1119.6h.7M307.3,1124.7h.7M314.8,1125.7h.7M322.3,1129.1h.7M301.3,1121.4h.7M297.5,1126.1h.7M307.5,1118.7h.7M313.9,1121.5h.7M312.8,1125.6h.7M315.7,1130.8h.7M307.6,1123.0h.7M307.1,1122.9h.7M307.4,1124.6h.7M307.9,1133.7h.7M313.8,1123.6h.7M309.6,1113.7h.7M298.7,1125.8h.7M307.5,1137.4h.7M319.3,1117.2h.7M315.9,1122.5h.7M314.8,1123.3h.7M306.6,1132.1h.7M311.1,1112.4h.7M310.3,1128.5h.7M309.0,1127.4h.7M308.9,1120.8h.7M311.6,1128.7h.7M312.4,1131.8h.7M316.4,1120.7h.7M311.2,1124.4h.7M309.1,1125.1h.7M296.1,1128.0h.7M298.9,1123.7h.7M306.3,1134.0h.7M312.5,1111.8h.7M308.3,1124.6h.7M307.7,1119.3h.7M312.0,1123.6h.7M307.2,1118.1h.7M313.7,1116.2h.7M314.6,1118.8h.7M316.3,1116.3h.7M306.8,1120.9h.7M311.1,1124.7h.7M302.2,1114.0h.7M301.0,1126.8h.7M311.3,1128.1h.7M309.2,1124.4h.7M317.9,1121.8h.7M301.4,1123.5h.7M311.1,1117.1h.7M305.4,1127.2h.7M314.5,1119.2h.7M309.9,1124.6h.7M302.9,1123.2h.7M319.1,1102.3h.7M304.4,1124.1h.7M312.4,1126.5h.7M310.5,1122.3h.7M310.2,1133.6h.7M309.9,1130.5h.7M318.2,1119.1h.7M302.2,1123.3h.7M309.5,1128.0h.7M302.9,1119.0h.7M305.8,1120.0h.7M310.4,1124.9h.7M317.5,1120.5h.7M311.5,1124.7h.7M317.7,1118.0h.7M309.5,1132.1h.7M310.6,1118.6h.7M311.5,1117.0h.7M305.8,1123.5h.7M310.4,1123.0h.7M303.2,1129.1h.7M308.2,1122.6h.7M309.3,1127.2h.7M300.5,1122.5h.7M305.6,1123.5h.7M312.7,1116.8h.7M304.2,1129.2h.7M302.7,1126.5h.7M308.5,1128.4h.7M311.8,1117.6h.7M310.7,1120.3h.7M300.2,1116.6h.7M311.0,1130.1h.7M309.0,1126.0h.7M309.0,1120.4h.7M310.4,1117.9h.7M312.8,1123.6h.7M309.8,1125.8h.7M305.6,1130.7h.7M307.3,1125.6h.7M310.4,1123.5h.7M305.6,1132.2h.7M314.4,1113.7h.7M315.4,1110.4h.7M315.2,1112.1h.7M306.3,1117.6h.7M305.3,1125.9h.7M313.1,1122.9h.7M308.8,1113.1h.7M295.2,1129.0h.7M304.5,1123.0h.7M311.1,1120.2h.7M313.4,1131.6h.7M304.8,1122.2h.7M308.2,1119.0h.7M310.6,1120.1h.7M310.0,1121.1h.7M304.4,1133.6h.7M306.6,1125.4h.7M305.5,1124.7h.7M306.1,1122.9h.7M307.4,1125.7h.7M314.6,1125.0h.7M311.0,1118.5h.7M302.8,1124.8h.7M313.9,1124.6h.7M309.2,1123.6h.7M305.3,1123.6h.7M308.8,1121.5h.7M308.0,1119.5h.7M316.9,1115.7h.7M309.8,1129.6h.7M303.9,1127.0h.7M307.1,1123.8h.7M312.2,1120.5h.7M311.2,1118.6h.7M311.2,1120.2h.7M305.2,1114.9h.7M304.0,1123.2h.7M308.2,1121.5h.7M309.6,1126.1h.7M312.3,1122.1h.7M311.6,1124.8h.7M305.1,1126.3h.7M311.2,1121.6h.7M309.9,1111.1h.7M318.9,1117.5h.7M307.4,1122.8h.7M296.9,1127.2h.7M313.5,1123.6h.7M316.2,1120.5h.7M312.2,1111.5h.7M309.1,1117.1h.7M307.6,1127.4h.7M316.6,1122.5h.7M307.1,1126.8h.7M306.7,1126.0h.7M307.0,1125.3h.7M297.1,1129.1h.7M312.3,1121.9h.7M310.5,1118.6h.7M307.6,1119.4h.7M305.5,1129.3h.7M307.2,1121.2h.7M307.4,1135.2h.7M307.8,1124.7h.7M312.8,1114.5h.7M307.5,1123.2h.7M312.0,1126.6h.7M303.5,1123.0h.7M311.1,1122.4h.7M307.9,1122.5h.7M317.5,1115.6h.7M318.5,1133.2h.7M306.1,1122.6h.7M309.0,1124.8h.7M312.4,1124.4h.7M314.9,1127.9h.7M310.5,1124.3h.7M305.1,1129.2h.7M310.1,1123.1h.7M299.6,1130.2h.7M308.0,1126.9h.7M310.6,1127.6h.7M303.1,1115.8h.7M307.8,1127.7h.7M315.0,1122.4h.7M312.8,1127.2h.7M315.3,1117.0h.7M311.0,1123.6h.7M299.8,1132.2h.7M310.2,1123.4h.7M310.6,1124.7h.7M304.6,1122.2h.7M301.9,1128.8h.7M311.1,1125.3h.7M307.5,1125.1h.7M308.8,1109.7h.7M310.0,1123.6h.7M306.4,1111.7h.7M304.0,1131.5h.7M314.7,1120.9h.7M303.5,1125.7h.7M304.2,1131.0h.7M316.3,1125.1h.7M317.9,1123.8h.7M313.5,1117.3h.7M313.8,1123.9h.7M309.5,1127.8h.7M310.8,1117.6h.7M301.7,1125.4h.7M308.3,1127.6h.7M309.8,1123.2h.7M314.0,1128.9h.7M305.3,1129.7h.7M309.6,1124.4h.7M308.3,1129.8h.7M309.4,1129.0h.7M306.4,1107.9h.7M302.0,1122.4h.7M304.4,1121.6h.7M300.7,1122.8h.7M310.3,1127.6h.7M314.2,1113.5h.7M298.2,1118.0h.7M311.8,1128.3h.7M313.8,1119.4h.7M311.7,1125.5h.7M314.3,1116.6h.7M315.7,1122.2h.7M303.6,1118.1h.7M308.6,1132.6h.7M307.7,1120.2h.7M292.7,1127.8h.7M313.1,1115.7h.7M300.6,1121.2h.7M307.6,1127.2h.7M306.4,1123.0h.7M301.6,1123.0h.7M307.8,1120.0h.7M303.0,1118.3h.7M308.3,1117.4h.7M302.1,1130.7h.7M304.6,1126.8h.7M305.2,1117.0h.7M303.9,1131.1h.7M312.1,1120.9h.7M306.1,1123.8h.7M310.6,1124.4h.7M313.2,1120.0h.7M314.1,1124.0h.7M316.6,1119.0h.7M307.4,1131.6h.7M308.6,1115.3h.7M314.1,1115.7h.7M313.6,1123.0h.7M317.6,1117.8h.7M312.2,1125.5h.7M317.1,1117.7h.7M308.9,1136.5h.7M307.4,1122.7h.7M306.1,1142.2h.7M315.1,1113.9h.7M303.4,1121.6h.7M313.7,1121.4h.7M302.7,1122.8h.7M318.2,1115.6h.7M311.5,1112.4h.7M311.8,1119.8h.7M309.7,1118.4h.7M310.0,1120.2h.7M311.4,1128.1h.7M312.2,1124.2h.7M312.7,1123.1h.7M311.3,1125.6h.7M317.1,1122.2h.7M316.0,1131.4h.7M303.2,1126.5h.7M313.8,1129.3h.7M303.7,1122.8h.7M318.8,1122.6h.7M310.5,1127.5h.7M309.4,1125.0h.7M309.8,1125.2h.7M309.9,1126.0h.7M312.4,1125.2h.7M313.3,1117.3h.7M307.4,1119.6h.7M307.9,1121.4h.7M317.6,1117.7h.7M305.8,1119.6h.7M303.9,1123.1h.7M311.2,1118.1h.7M304.4,1123.9h.7M313.8,1119.5h.7M300.4,1114.5h.7M310.2,1124.9h.7M296.1,1120.5h.7M308.0,1117.7h.7M311.6,1122.3h.7M329.4,1113.3h.7M307.0,1115.1h.7M305.0,1113.2h.7M322.7,1110.4h.7M315.1,1124.3h.7M308.5,1125.6h.7M310.9,1119.2h.7M314.4,1119.5h.7M311.4,1124.3h.7M301.7,1120.1h.7M306.5,1118.0h.7M314.0,1119.8h.7M313.2,1126.6h.7M310.9,1123.8h.7M308.6,1129.9h.7M315.1,1113.9h.7M310.7,1127.5h.7M315.4,1125.7h.7M304.7,1134.4h.7M309.9,1124.8h.7M312.5,1126.6h.7M317.0,1136.5h.7M310.4,1121.8h.7M305.4,1125.1h.7M306.4,1125.3h.7M305.6,1121.9h.7M300.1,1127.1h.7M307.7,1125.9h.7M312.5,1118.8h.7M319.9,1120.2h.7M309.1,1133.2h.7M311.2,1118.4h.7M320.5,1117.3h.7M311.9,1123.6h.7M308.8,1129.0h.7M314.2,1124.1h.7M305.9,1127.5h.7M304.2,1124.2h.7M309.9,1129.0h.7M308.7,1122.0h.7M306.3,1122.9h.7M317.4,1131.7h.7M309.9,1115.1h.7M312.0,1122.8h.7M303.0,1125.2h.7M314.9,1124.9h.7M310.2,1123.6h.7M309.8,1125.5h.7M304.4,1119.3h.7M310.8,1116.2h.7M307.5,1121.5h.7M299.4,1125.0h.7M313.0,1122.0h.7M310.4,1116.4h.7M308.5,1124.0h.7M310.9,1120.2h.7M308.2,1118.4h.7M317.3,1118.0h.7M320.1,1119.5h.7M312.1,1128.2h.7M309.4,1122.8h.7M306.6,1117.8h.7M309.9,1117.8h.7M312.8,1114.1h.7M302.1,1124.2h.7M311.3,1125.8h.7M303.9,1121.8h.7M309.2,1114.3h.7M310.4,1115.8h.7M316.5,1116.6h.7M306.7,1129.1h.7M310.8,1117.9h.7M312.5,1116.8h.7M306.1,1111.7h.7M311.6,1124.0h.7M311.4,1121.5h.7M301.9,1117.4h.7M301.6,1118.9h.7M305.5,1117.1h.7M318.6,1119.0h.7M304.0,1126.1h.7M296.0,1123.6h.7M299.1,1124.2h.7M310.6,1119.6h.7M316.9,1122.7h.7M302.5,1130.4h.7M311.8,1127.1h.7M306.8,1122.1h.7M305.5,1123.6h.7M304.6,1122.1h.7M306.2,1117.8h.7M309.1,1124.4h.7M316.4,1119.4h.7M297.7,1119.2h.7M312.5,1122.5h.7M305.6,1120.5h.7M309.7,1138.0h.7M301.0,1123.9h.7M306.1,1135.4h.7M303.3,1121.1h.7M300.3,1130.4h.7M306.8,1120.6h.7M307.3,1120.0h.7M303.6,1121.5h.7M310.1,1122.4h.7M302.8,1122.6h.7M311.8,1121.9h.7M303.1,1117.3h.7M309.3,1118.8h.7M307.5,1121.6h.7M298.9,1123.8h.7M307.8,1122.9h.7M310.7,1125.1h.7M310.7,1126.5h.7M310.0,1121.6h.7M308.4,1124.5h.7M316.0,1110.3h.7M303.9,1116.5h.7M303.3,1123.4h.7M300.8,1128.7h.7M308.4,1118.8h.7M310.2,1121.1h.7M314.7,1116.9h.7M312.6,1118.1h.7M316.2,1120.1h.7M303.2,1132.7h.7M302.7,1123.6h.7M302.7,1116.4h.7M310.0,1114.9h.7M308.6,1122.8h.7M317.5,1121.9h.7M306.3,1125.2h.7M299.6,1129.8h.7M309.5,1122.8h.7M310.3,1118.7h.7M306.1,1128.6h.7M308.1,1125.3h.7M309.0,1126.6h.7M300.8,1114.3h.7M302.6,1125.8h.7M314.8,1132.5h.7M304.9,1122.9h.7M312.7,1114.6h.7M311.2,1128.6h.7M313.8,1129.5h.7M309.4,1125.8h.7M315.0,1129.4h.7M312.6,1121.7h.7M313.1,1120.2h.7M310.1,1121.4h.7M308.8,1124.4h.7M312.1,1128.5h.7M317.4,1127.7h.7M310.8,1122.3h.7M317.6,1107.1h.7M306.7,1120.1h.7M310.8,1123.3h.7M310.0,1127.2h.7M300.4,1117.0h.7M317.9,1118.0h.7M312.2,1127.3h.7M303.0,1124.6h.7M310.6,1130.8h.7M297.0,1120.1h.7M312.4,1118.1h.7M308.4,1126.8h.7M307.5,1121.5h.7M315.2,1126.2h.7M306.9,1133.3h.7M313.9,1123.5h.7M306.9,1124.5h.7M307.5,1119.0h.7M311.2,1119.8h.7M308.9,1120.2h.7M310.8,1117.8h.7M307.8,1125.1h.7M313.2,1117.5h.7M316.6,1122.3h.7M305.2,1123.9h.7M307.4,1127.1h.7M308.9,1122.3h.7M305.6,1115.9h.7M309.3,1129.2h.7M302.1,1120.2h.7M300.1,1116.2h.7M316.3,1122.6h.7M303.0,1130.9h.7M312.7,1124.7h.7M306.1,1117.1h.7M309.7,1124.6h.7M305.2,1124.6h.7M315.7,1127.3h.7M310.7,1117.7h.7M301.1,1115.4h.7M312.4,1129.7h.7M307.9,1129.5h.7M312.5,1129.5h.7M308.2,1124.0h.7M294.8,1133.2h.7M306.6,1127.4h.7M310.2,1119.0h.7M307.0,1127.0h.7M299.8,1123.8h.7M293.3,1117.4h.7M319.3,1112.2h.7M322.4,1121.4h.7M308.4,1134.5h.7M310.1,1120.2h.7M297.7,1135.5h.7M307.4,1120.7h.7M307.3,1114.0h.7M308.1,1123.9h.7M310.6,1115.9h.7M306.7,1121.3h.7M308.5,1113.0h.7M309.3,1111.7h.7M300.9,1129.5h.7M317.0,1116.2h.7M318.1,1124.1h.7M302.9,1120.2h.7M303.2,1111.1h.7M305.8,1129.7h.7M306.0,1134.1h.7M312.2,1116.8h.7M300.9,1127.9h.7M323.0,1115.1h.7M309.1,1129.8h.7M302.7,1126.9h.7M308.6,1125.9h.7M304.3,1123.5h.7M306.9,1126.3h.7M304.7,1128.0h.7M308.0,1125.6h.7M302.8,1113.2h.7M310.8,1122.3h.7M302.9,1122.9h.7M303.6,1133.4h.7M311.8,1117.1h.7M310.8,1124.3h.7M307.0,1121.0h.7M314.7,1122.9h.7M310.3,1116.5h.7M306.1,1118.0h.7M306.5,1121.9h.7M305.3,1119.4h.7M316.9,1124.1h.7M306.9,1124.9h.7M309.0,1124.3h.7M307.3,1122.4h.7M310.9,1122.1h.7M307.9,1126.8h.7M311.6,1114.2h.7M302.4,1133.7h.7M313.0,1129.8h.7M309.5,1118.8h.7M304.8,1127.3h.7M301.8,1123.9h.7M312.9,1126.3h.7M313.8,1128.6h.7M309.2,1116.6h.7M306.6,1121.1h.7M307.8,1120.4h.7M305.8,1128.0h.7M308.1,1127.6h.7M316.7,1122.3h.7M315.7,1113.9h.7M312.3,1123.5h.7M303.6,1122.2h.7M298.1,1125.7h.7M304.3,1122.8h.7M317.8,1119.9h.7M305.2,1129.7h.7M315.9,1119.1h.7M306.7,1118.6h.7M314.7,1121.4h.7M307.2,1122.4h.7M305.5,1122.7h.7M313.1,1120.5h.7M306.2,1122.7h.7M308.6,1117.5h.7M301.0,1119.8h.7M306.9,1127.5h.7M318.6,1128.5h.7M311.9,1122.4h.7M314.0,1123.6h.7M308.1,1127.8h.7M301.3,1123.6h.7M311.8,1125.7h.7M308.2,1116.3h.7M319.5,1119.9h.7M308.0,1118.9h.7M340.8,1084.4h.7M318.9,1084.8h.7M333.2,1082.8h.7M328.7,1085.8h.7M340.8,1085.1h.7M341.8,1089.1h.7M328.4,1082.1h.7M332.4,1087.8h.7M323.7,1085.9h.7M338.8,1081.6h.7M343.0,1083.6h.7M332.1,1084.7h.7M333.7,1085.8h.7M349.7,1089.2h.7M330.4,1087.7h.7M331.0,1083.1h.7M339.1,1086.2h.7M334.8,1084.0h.7M333.5,1085.0h.7M342.3,1087.5h.7M326.3,1079.6h.7M334.4,1085.9h.7M339.6,1087.8h.7M336.5,1085.8h.7M328.8,1089.2h.7M335.0,1086.8h.7M340.9,1084.9h.7M334.4,1087.3h.7M328.6,1081.7h.7M331.2,1082.4h.7M331.8,1085.9h.7M331.4,1082.0h.7M341.5,1089.4h.7M341.9,1087.6h.7M330.6,1084.7h.7M337.3,1082.7h.7M338.8,1084.3h.7M338.1,1087.4h.7M325.8,1083.2h.7M338.7,1084.8h.7M337.0,1081.1h.7M341.4,1086.2h.7M340.0,1087.4h.7M324.3,1089.0h.7M335.9,1085.3h.7M329.5,1086.2h.7M340.2,1089.7h.7M330.6,1087.1h.7M328.1,1081.2h.7M343.1,1077.7h.7M327.4,1084.4h.7M333.6,1082.8h.7M339.7,1082.7h.7M340.3,1090.3h.7M333.9,1086.4h.7M345.8,1082.7h.7M341.3,1080.2h.7M337.0,1089.8h.7M335.2,1086.2h.7M340.2,1088.9h.7M332.6,1080.7h.7M325.4,1087.8h.7M326.3,1089.6h.7M331.6,1086.3h.7M336.9,1088.9h.7M330.6,1086.2h.7M335.2,1091.7h.7M342.5,1084.7h.7M331.1,1088.9h.7M339.8,1080.8h.7M334.5,1077.3h.7M333.5,1084.2h.7M329.8,1084.2h.7M327.5,1085.7h.7M335.4,1079.1h.7M333.6,1084.7h.7M328.0,1085.9h.7M332.6,1085.3h.7M318.8,1090.9h.7M334.9,1084.2h.7M343.9,1080.2h.7M332.7,1087.5h.7M333.1,1084.2h.7M326.2,1081.8h.7M334.8,1087.7h.7M334.7,1083.2h.7M332.4,1085.0h.7M343.7,1084.5h.7M339.7,1090.0h.7M333.8,1081.7h.7M323.0,1082.9h.7M332.4,1084.9h.7M334.4,1081.7h.7M334.8,1087.3h.7M329.2,1079.3h.7M342.1,1084.5h.7M345.2,1079.0h.7M331.1,1084.2h.7M323.9,1086.7h.7M333.2,1080.6h.7M336.2,1080.8h.7M326.1,1083.1h.7M341.7,1088.8h.7M332.4,1090.1h.7M350.8,1083.6h.7M346.4,1086.8h.7M347.9,1088.7h.7M324.2,1086.7h.7M339.1,1082.7h.7M337.2,1088.4h.7M327.0,1085.7h.7M336.9,1082.6h.7M337.8,1086.3h.7M345.9,1088.5h.7M338.7,1084.5h.7M329.1,1085.4h.7M323.8,1082.2h.7M334.5,1083.2h.7M338.1,1086.2h.7M342.0,1083.2h.7M341.2,1078.7h.7M327.4,1082.4h.7M335.9,1086.1h.7M336.9,1084.4h.7M344.9,1087.6h.7M337.7,1085.1h.7M337.2,1085.0h.7M337.3,1087.6h.7M343.5,1088.2h.7M347.5,1083.3h.7M341.1,1081.0h.7M334.1,1091.0h.7M337.5,1079.6h.7M345.4,1081.0h.7M338.0,1087.9h.7M349.6,1082.2h.7M326.2,1079.7h.7M340.6,1084.4h.7M327.9,1087.8h.7M340.7,1090.4h.7M334.5,1084.3h.7M335.5,1084.6h.7M323.9,1084.2h.7M336.2,1081.7h.7M343.0,1084.0h.7M335.8,1081.9h.7M340.8,1081.4h.7M320.5,1081.1h.7M323.6,1086.1h.7M336.5,1082.9h.7M321.7,1086.5h.7M339.2,1085.1h.7M335.0,1085.9h.7M335.1,1086.4h.7M329.6,1089.3h.7M336.5,1086.3h.7M338.8,1086.8h.7M348.0,1085.4h.7M333.7,1082.1h.7M341.2,1083.0h.7M335.8,1087.3h.7M340.9,1088.4h.7M332.4,1084.6h.7M341.3,1079.6h.7M335.9,1089.0h.7M342.3,1090.1h.7M338.4,1085.9h.7M336.3,1085.6h.7M338.4,1082.5h.7M347.2,1086.6h.7M336.5,1085.6h.7M342.1,1093.1h.7M338.5,1085.4h.7M336.2,1082.9h.7M334.5,1083.9h.7M340.4,1083.1h.7M350.9,1081.6h.7M342.0,1084.3h.7M334.8,1087.0h.7M337.8,1077.7h.7M330.4,1085.2h.7M327.3,1090.2h.7M328.2,1087.7h.7M336.9,1085.6h.7M329.6,1081.9h.7M325.3,1082.1h.7M336.1,1083.6h.7M342.0,1086.7h.7M340.5,1078.0h.7M338.8,1086.7h.7M336.9,1085.8h.7M332.4,1083.4h.7M344.9,1083.6h.7M332.5,1082.4h.7M342.6,1081.5h.7M348.7,1087.0h.7M340.4,1085.8h.7M338.6,1081.7h.7M335.0,1080.9h.7M329.2,1085.2h.7M337.9,1088.6h.7M341.1,1083.5h.7M344.6,1085.3h.7M337.7,1089.0h.7M348.1,1083.1h.7M343.9,1086.2h.7M339.1,1087.6h.7M328.3,1084.9h.7M331.0,1084.7h.7M347.7,1089.7h.7M340.0,1090.3h.7M332.1,1081.7h.7M346.6,1079.8h.7M324.5,1083.7h.7M326.6,1082.2h.7M344.0,1084.2h.7M330.2,1085.1h.7M346.4,1087.1h.7M337.6,1083.4h.7M343.9,1081.5h.7M331.9,1086.9h.7M327.3,1079.4h.7M339.7,1085.7h.7M334.4,1083.8h.7M346.4,1089.0h.7M345.6,1087.7h.7M333.4,1089.8h.7M337.5,1082.8h.7M334.1,1083.0h.7M342.1,1087.3h.7M325.9,1081.0h.7M318.4,1084.6h.7M336.2,1085.2h.7M325.9,1087.3h.7M333.2,1079.1h.7M330.3,1082.8h.7M328.8,1084.0h.7M343.8,1080.8h.7M339.3,1082.0h.7M330.8,1080.0h.7M325.2,1087.6h.7M336.1,1086.4h.7M334.4,1081.4h.7M342.3,1090.4h.7M333.2,1077.6h.7M335.6,1083.4h.7M324.1,1088.6h.7M332.8,1082.3h.7M336.8,1085.4h.7M339.0,1084.2h.7M335.1,1084.7h.7M328.8,1083.5h.7M358.8,1082.2h.7M326.5,1086.5h.7M336.8,1084.5h.7M331.9,1086.0h.7M335.8,1089.1h.7M326.5,1086.4h.7M338.7,1086.5h.7M329.5,1085.4h.7M331.9,1086.2h.7M335.1,1085.0h.7M335.8,1083.5h.7M348.7,1090.6h.7M342.4,1081.8h.7M335.1,1083.9h.7M334.3,1086.5h.7M334.2,1086.4h.7M330.1,1086.2h.7M336.2,1085.4h.7M340.4,1086.2h.7M330.4,1087.0h.7M334.9,1085.5h.7M340.7,1083.7h.7M341.6,1088.0h.7M339.6,1085.9h.7M341.6,1087.2h.7M318.1,1086.3h.7M346.6,1084.6h.7M335.2,1086.9h.7M345.0,1087.4h.7M343.1,1085.5h.7M342.9,1081.7h.7M331.3,1082.1h.7M335.5,1085.4h.7M328.0,1082.8h.7M327.7,1087.1h.7M338.1,1083.7h.7M340.8,1081.2h.7M340.5,1086.8h.7M336.0,1081.1h.7M343.0,1085.8h.7M337.3,1089.2h.7M344.2,1089.2h.7M317.8,1088.3h.7M339.2,1089.3h.7M333.6,1081.7h.7M342.4,1086.1h.7M335.7,1089.0h.7M323.5,1085.3h.7M332.7,1088.4h.7M329.9,1090.6h.7M328.3,1085.6h.7M341.7,1083.7h.7M336.0,1086.0h.7M334.6,1086.0h.7M331.8,1086.7h.7M324.8,1081.6h.7M344.1,1083.6h.7M337.1,1083.5h.7M344.7,1086.0h.7M342.1,1082.1h.7M332.9,1091.2h.7M331.7,1081.0h.7M343.8,1085.2h.7M338.2,1087.6h.7M338.7,1083.7h.7M354.7,1084.9h.7M332.0,1086.7h.7M337.6,1083.5h.7M334.3,1086.4h.7M338.6,1085.6h.7M328.9,1083.3h.7M346.1,1086.8h.7M345.2,1080.3h.7M331.6,1086.9h.7M343.1,1082.0h.7M333.3,1088.9h.7M335.4,1085.1h.7M335.0,1089.9h.7M343.4,1085.3h.7M321.6,1083.1h.7M340.6,1089.6h.7M346.9,1084.9h.7M336.6,1081.4h.7M332.8,1083.7h.7M343.0,1081.4h.7M358.8,1084.8h.7M336.1,1084.1h.7M335.4,1083.8h.7M348.9,1088.8h.7M344.8,1081.1h.7M354.4,1086.3h.7M323.8,1088.4h.7M344.6,1083.4h.7M342.0,1081.1h.7M335.2,1085.3h.7M342.5,1088.3h.7M350.0,1092.3h.7M337.3,1086.8h.7M330.9,1086.6h.7M344.4,1081.2h.7M332.8,1084.4h.7M333.5,1085.5h.7M326.3,1082.3h.7M339.2,1083.5h.7M345.6,1083.3h.7M320.6,1090.5h.7M331.7,1081.0h.7M336.9,1084.3h.7M339.7,1082.4h.7M332.3,1083.7h.7M338.3,1082.9h.7M334.1,1083.0h.7M340.4,1083.1h.7M340.6,1083.8h.7M338.0,1085.7h.7M338.2,1082.7h.7M338.1,1083.6h.7M336.0,1077.9h.7M342.0,1097.7h.7M341.6,1074.6h.7M332.7,1086.9h.7M326.5,1083.1h.7M338.0,1091.5h.7M331.9,1088.1h.7M333.0,1088.4h.7M346.0,1085.7h.7M332.8,1081.6h.7M335.7,1085.3h.7M339.1,1079.4h.7M324.3,1090.8h.7M328.7,1082.4h.7M352.5,1090.2h.7M329.0,1085.4h.7M345.7,1073.9h.7M333.1,1085.4h.7M344.3,1090.1h.7M333.3,1087.4h.7M344.1,1086.6h.7M343.5,1083.8h.7M341.3,1083.2h.7M329.0,1081.7h.7M344.2,1095.4h.7M338.1,1068.3h.7M332.9,1075.4h.7M336.7,1070.2h.7M333.2,1085.4h.7M328.5,1095.4h.7M325.5,1087.3h.7M331.3,1085.6h.7M320.2,1079.3h.7M325.1,1073.0h.7M351.4,1077.4h.7M337.9,1072.9h.7M338.9,1080.7h.7M339.0,1093.2h.7M344.3,1080.3h.7M340.9,1081.2h.7M334.6,1097.0h.7M339.8,1094.0h.7M330.8,1093.5h.7M334.4,1086.6h.7M339.1,1085.8h.7M326.3,1092.4h.7M318.7,1074.4h.7M344.1,1072.4h.7M331.8,1096.0h.7M339.2,1085.9h.7M333.2,1073.2h.7M326.1,1104.1h.7M332.9,1068.0h.7M328.1,1080.6h.7M320.6,1090.2h.7M323.7,1084.1h.7M342.9,1081.3h.7M332.0,1085.8h.7M337.7,1082.3h.7M335.5,1089.3h.7M338.4,1079.4h.7M334.5,1083.6h.7M341.1,1087.2h.7M333.8,1085.8h.7M330.5,1077.3h.7M350.0,1085.0h.7M314.4,1095.2h.7M336.0,1089.7h.7M317.7,1093.8h.7M330.2,1090.3h.7M338.7,1107.6h.7M342.2,1077.3h.7M342.9,1098.9h.7M334.4,1089.4h.7M331.7,1083.9h.7M351.0,1082.9h.7M335.6,1076.3h.7M322.2,1078.2h.7M318.3,1088.6h.7M328.5,1074.0h.7M343.5,1072.8h.7M336.1,1080.9h.7M328.7,1078.2h.7M333.2,1089.4h.7M329.0,1084.1h.7M329.1,1089.3h.7M322.3,1086.5h.7M328.5,1088.6h.7M337.8,1086.5h.7M334.9,1081.3h.7M346.7,1071.9h.7M322.7,1089.9h.7M338.9,1095.6h.7M332.9,1099.3h.7M335.6,1095.8h.7M345.6,1069.0h.7M343.7,1087.4h.7M326.4,1083.6h.7M330.9,1086.3h.7M334.0,1080.6h.7M334.8,1084.7h.7M347.9,1083.7h.7M341.8,1082.9h.7M342.0,1083.4h.7M326.8,1083.8h.7M331.5,1084.9h.7M351.7,1090.0h.7M328.1,1093.1h.7M336.9,1086.6h.7M336.3,1081.3h.7M338.8,1098.9h.7M346.2,1083.4h.7M340.6,1093.1h.7M326.5,1081.7h.7M351.8,1087.4h.7M325.3,1087.4h.7M331.3,1098.7h.7M339.2,1078.1h.7M342.4,1091.6h.7M336.3,1097.6h.7M337.7,1114.5h.7M326.8,1111.8h.7M333.8,1116.6h.7M341.7,1122.7h.7M333.2,1107.1h.7M333.4,1115.5h.7M343.2,1110.9h.7M329.4,1107.6h.7M328.0,1109.7h.7M340.0,1110.9h.7M330.2,1112.3h.7M334.5,1128.7h.7M333.3,1130.1h.7M325.3,1113.7h.7M331.3,1110.4h.7M327.8,1118.5h.7M331.0,1109.9h.7M322.0,1112.0h.7M325.6,1114.2h.7M337.1,1117.9h.7M332.3,1109.3h.7M332.9,1115.0h.7M326.4,1106.4h.7M333.6,1098.6h.7M327.2,1112.8h.7M341.7,1112.5h.7M332.3,1114.9h.7M330.9,1100.4h.7M331.6,1108.5h.7M329.2,1108.5h.7M337.7,1117.3h.7M330.3,1119.0h.7M326.5,1126.1h.7M340.8,1111.2h.7M338.4,1107.3h.7M327.6,1116.9h.7M332.4,1108.8h.7M340.1,1104.9h.7M319.5,1115.8h.7M338.5,1116.2h.7M336.1,1124.0h.7M314.3,1124.2h.7M328.8,1113.0h.7M322.9,1108.6h.7M336.3,1110.0h.7M323.1,1113.5h.7M330.2,1107.4h.7M333.8,1118.2h.7M341.7,1109.9h.7M337.7,1100.6h.7M340.9,1115.4h.7M340.2,1114.8h.7M331.1,1119.6h.7M336.6,1105.3h.7M325.5,1108.8h.7M342.2,1119.3h.7M336.1,1118.7h.7M330.6,1110.0h.7M335.6,1104.6h.7M337.1,1114.0h.7M325.2,1120.6h.7M342.7,1107.4h.7M344.8,1104.7h.7M317.5,1120.0h.7M310.5,1105.8h.7M315.4,1120.9h.7M334.8,1091.4h.7M322.9,1092.7h.7M321.3,1112.6h.7M328.0,1113.5h.7M312.0,1122.0h.7M319.6,1109.2h.7M299.7,1122.9h.7M311.8,1113.5h.7M324.5,1087.9h.7M329.4,1101.8h.7M336.2,1097.3h.7M308.9,1122.3h.7M328.9,1100.8h.7M327.6,1107.0h.7M341.6,1086.8h.7M339.9,1087.3h.7M329.3,1093.0h.7M326.1,1099.7h.7M336.7,1085.7h.7M315.4,1110.0h.7M321.3,1107.7h.7M301.2,1125.4h.7M313.9,1104.6h.7M319.6,1105.2h.7M322.3,1108.8h.7M316.4,1124.5h.7M318.7,1093.5h.7M339.6,1090.5h.7M325.5,1114.6h.7M326.4,1095.3h.7M323.8,1110.3h.7M330.1,1101.4h.7M315.4,1123.2h.7M313.0,1120.8h.7M316.4,1116.8h.7M331.1,1094.8h.7M309.2,1122.7h.7M333.3,1103.0h.7M323.8,1097.2h.7M314.7,1124.6h.7M322.4,1098.9h.7M318.3,1100.1h.7M318.3,1107.6h.7M321.3,1097.3h.7M337.7,1086.8h.7M322.5,1092.0h.7M307.0,1123.9h.7M329.0,1105.6h.7M332.8,1092.4h.7M312.8,1112.9h.7M321.5,1116.3h.7M320.3,1110.7h.7M317.9,1109.0h.7M325.0,1103.5h.7M332.5,1090.8h.7M320.7,1108.5h.7M331.7,1097.8h.7M326.5,1087.6h.7M313.6,1117.9h.7M311.6,1117.5h.7M334.6,1091.2h.7M337.4,1078.9h.7M329.1,1091.5h.7M322.5,1104.5h.7M325.6,1108.3h.7M305.1,1120.0h.7M314.5,1109.7h.7M330.3,1089.6h.7M328.5,1099.3h.7M315.1,1114.3h.7M308.1,1104.2h.7M314.0,1104.4h.7M331.0,1094.8h.7M314.5,1108.1h.7M317.7,1115.9h.7M340.3,1091.9h.7M313.1,1118.4h.7M310.3,1107.3h.7M342.2,1087.4h.7M315.6,1120.2h.7M333.3,1089.6h.7M321.7,1086.4h.7M326.2,1094.2h.7M321.7,1110.3h.7M334.7,1101.3h.7M324.5,1107.4h.7M336.2,1094.7h.7M341.1,1077.3h.7M340.3,1097.9h.7M334.3,1084.1h.7M317.8,1109.7h.7M315.7,1106.2h.7M329.5,1090.2h.7M338.8,1092.5h.7M332.9,1094.7h.7M324.0,1092.8h.7M310.0,1105.7h.7M339.7,1082.5h.7M333.2,1087.0h.7M325.3,1104.4h.7M309.2,1119.7h.7M317.1,1117.1h.7M308.4,1122.5h.7" stroke="#f02020" stroke-width="0.7" fill="none" opacity="0.4" filter="url(#fb)"/>
<path d="M312.1,1121.1h.7M312.3,1123.4h.7M304.7,1119.4h.7M303.0,1125.8h.7M314.0,1118.2h.7M311.1,1119.0h.7M315.5,1123.5h.7M307.5,1123.3h.7M306.7,1126.4h.7M311.9,1120.8h.7M309.2,1123.3h.7M305.1,1124.1h.7M302.4,1125.8h.7M305.9,1128.2h.7M310.5,1117.8h.7M320.6,1119.3h.7M306.4,1116.9h.7M325.9,1124.4h.7M311.2,1127.2h.7M308.6,1122.3h.7M314.1,1116.0h.7M299.6,1119.2h.7M303.9,1133.7h.7M308.7,1126.4h.7M312.5,1112.1h.7M306.0,1115.7h.7M307.6,1124.5h.7M309.8,1128.0h.7M305.7,1124.2h.7M306.3,1126.3h.7M310.0,1116.5h.7M305.6,1130.3h.7M303.6,1132.0h.7M318.7,1117.4h.7M314.2,1124.9h.7M316.4,1123.1h.7M301.1,1120.9h.7M308.9,1124.5h.7M311.1,1114.2h.7M302.0,1123.6h.7M305.3,1123.1h.7M321.2,1110.4h.7M312.5,1117.0h.7M318.6,1108.3h.7M310.7,1117.2h.7M312.9,1129.1h.7M314.3,1117.9h.7M307.0,1121.9h.7M310.4,1122.0h.7M307.0,1129.2h.7M314.8,1125.4h.7M308.8,1129.1h.7M311.2,1117.7h.7M304.6,1130.8h.7M310.9,1124.1h.7M316.7,1123.2h.7M306.5,1141.6h.7M307.3,1117.5h.7M311.9,1115.5h.7M304.2,1124.7h.7M300.7,1107.5h.7M303.9,1114.3h.7M306.1,1131.9h.7M309.9,1116.0h.7M308.9,1117.5h.7M307.4,1128.0h.7M303.2,1116.4h.7M317.6,1116.6h.7M306.4,1124.6h.7M309.9,1127.2h.7M305.6,1107.6h.7M309.4,1116.3h.7M303.7,1115.7h.7M292.8,1123.8h.7M299.1,1125.7h.7M306.8,1119.1h.7M306.2,1122.8h.7M307.8,1128.1h.7M310.0,1131.0h.7M311.0,1120.4h.7M318.2,1118.2h.7M300.6,1123.5h.7M309.0,1125.8h.7M307.8,1119.4h.7M303.1,1123.3h.7M303.9,1128.6h.7M308.2,1121.2h.7M304.4,1121.0h.7M310.0,1122.5h.7M312.6,1123.1h.7M305.3,1131.9h.7M321.7,1114.2h.7M305.7,1124.1h.7M318.7,1116.3h.7M293.2,1117.6h.7M312.7,1121.3h.7M299.8,1125.6h.7M309.1,1125.1h.7M308.2,1122.4h.7M310.0,1129.5h.7M315.7,1119.0h.7M311.0,1114.1h.7M299.2,1122.3h.7M314.7,1118.4h.7M300.6,1125.2h.7M308.1,1126.7h.7M311.6,1117.5h.7M301.5,1116.6h.7M310.0,1112.4h.7M301.6,1120.1h.7M307.5,1126.7h.7M309.4,1123.7h.7M317.6,1122.7h.7M304.0,1124.8h.7M314.4,1124.0h.7M313.5,1120.2h.7M313.5,1133.4h.7M302.1,1129.5h.7M311.7,1119.8h.7M308.6,1127.3h.7M308.4,1127.9h.7M308.3,1120.7h.7M312.1,1124.2h.7M305.6,1119.0h.7M313.9,1123.9h.7M314.3,1125.8h.7M308.9,1127.2h.7M314.9,1117.6h.7M301.8,1128.0h.7M312.8,1123.9h.7M301.5,1126.9h.7M314.7,1125.5h.7M298.1,1105.2h.7M305.5,1122.2h.7M314.1,1125.6h.7M307.6,1120.3h.7M309.1,1123.4h.7M304.9,1125.2h.7M305.4,1125.1h.7M315.7,1110.8h.7M307.7,1122.3h.7M312.9,1119.9h.7M310.0,1112.3h.7M307.8,1119.1h.7M304.8,1123.7h.7M304.6,1118.5h.7M315.9,1126.6h.7M310.1,1113.8h.7M305.9,1126.0h.7M300.2,1120.7h.7M308.1,1119.6h.7M304.4,1121.2h.7M307.2,1123.2h.7M311.2,1125.4h.7M307.5,1124.7h.7M309.4,1120.7h.7M309.6,1129.0h.7M317.4,1117.4h.7M302.6,1113.4h.7M303.0,1125.7h.7M308.3,1123.8h.7M309.9,1121.1h.7M304.8,1120.1h.7M308.8,1119.3h.7M304.6,1118.2h.7M304.4,1122.1h.7M309.9,1129.1h.7M307.9,1121.0h.7M300.9,1125.9h.7M303.4,1113.0h.7M305.6,1122.7h.7M307.4,1122.9h.7M307.8,1115.1h.7M317.2,1115.2h.7M312.3,1121.7h.7M311.2,1110.3h.7M307.5,1125.2h.7M307.9,1118.1h.7M316.1,1114.3h.7M315.5,1117.3h.7M320.9,1116.8h.7M316.6,1127.5h.7M308.6,1125.4h.7M304.4,1119.9h.7M305.0,1121.8h.7M313.5,1131.9h.7M321.0,1119.1h.7M310.3,1121.0h.7M305.8,1122.5h.7M298.4,1128.6h.7M293.7,1122.9h.7M315.3,1119.8h.7M311.1,1123.3h.7M302.2,1127.7h.7M303.6,1131.2h.7M314.4,1125.6h.7M304.8,1117.3h.7M309.3,1125.0h.7M310.7,1120.2h.7M302.7,1132.0h.7M310.5,1121.6h.7M305.4,1115.9h.7M319.3,1118.5h.7M304.9,1119.7h.7M313.4,1122.7h.7M300.4,1137.5h.7M302.4,1125.3h.7M323.5,1115.9h.7M311.3,1118.3h.7M308.1,1124.7h.7M311.9,1124.6h.7M313.3,1120.7h.7M317.3,1112.3h.7M308.2,1117.7h.7M311.6,1121.8h.7M310.3,1128.3h.7M316.5,1127.5h.7M309.4,1121.0h.7M330.5,1110.4h.7M315.5,1120.9h.7M307.1,1127.9h.7M304.5,1127.5h.7M312.2,1132.1h.7M305.3,1121.7h.7M311.0,1121.8h.7M306.0,1122.7h.7M308.2,1125.5h.7M307.6,1127.8h.7M304.8,1123.5h.7M327.5,1124.5h.7M312.6,1118.0h.7M313.5,1124.2h.7M311.7,1126.3h.7M308.8,1115.4h.7M311.5,1123.6h.7M315.1,1125.3h.7M312.6,1118.5h.7M315.3,1129.3h.7M311.3,1129.7h.7M310.2,1118.5h.7M312.8,1132.1h.7M304.0,1134.2h.7M318.8,1121.5h.7M311.5,1125.7h.7M306.9,1128.2h.7M309.5,1121.3h.7M314.0,1127.4h.7M309.5,1123.3h.7M315.4,1121.7h.7M293.4,1125.6h.7M313.0,1117.6h.7M313.7,1120.1h.7M308.7,1128.5h.7M307.4,1118.7h.7M300.7,1128.1h.7M312.3,1130.2h.7M305.4,1125.6h.7M313.7,1125.3h.7M308.6,1124.8h.7M313.2,1120.1h.7M311.2,1124.2h.7M317.2,1128.5h.7M304.0,1121.2h.7M311.7,1128.2h.7M311.6,1116.9h.7M319.7,1128.0h.7M308.2,1113.8h.7M322.4,1123.8h.7M308.6,1117.8h.7M312.1,1118.8h.7M313.2,1115.7h.7M314.0,1123.1h.7M295.3,1121.2h.7M313.2,1122.2h.7M309.2,1118.5h.7M312.3,1113.8h.7M312.0,1121.0h.7M304.9,1130.3h.7M311.0,1128.4h.7M305.7,1129.4h.7M308.7,1128.4h.7M307.4,1123.7h.7M312.4,1138.0h.7M304.8,1118.2h.7M307.5,1104.2h.7M305.3,1122.9h.7M309.1,1122.9h.7M306.5,1123.0h.7M316.3,1115.3h.7M307.2,1126.6h.7M314.3,1132.2h.7M301.4,1129.1h.7M305.2,1132.0h.7M303.3,1119.9h.7M305.4,1126.8h.7M302.6,1121.3h.7M317.0,1120.3h.7M311.8,1137.3h.7M309.1,1127.5h.7M309.7,1122.6h.7M299.7,1135.5h.7M308.1,1124.5h.7M313.2,1115.1h.7M315.6,1119.5h.7M311.4,1129.8h.7M305.6,1120.4h.7M300.3,1118.0h.7M305.3,1122.7h.7M311.4,1117.4h.7M305.8,1128.5h.7M322.0,1125.4h.7M309.2,1126.0h.7M312.7,1123.2h.7M311.5,1126.3h.7M305.8,1125.4h.7M302.6,1129.1h.7M306.0,1127.7h.7M310.2,1123.2h.7M313.0,1118.1h.7M312.1,1120.5h.7M305.5,1125.1h.7M300.6,1136.9h.7M309.4,1130.9h.7M311.3,1126.0h.7M311.6,1124.6h.7M311.0,1120.9h.7M311.6,1118.2h.7M302.8,1132.9h.7M306.0,1130.1h.7M308.8,1120.2h.7M303.6,1130.9h.7M300.1,1131.7h.7M322.8,1119.6h.7M309.6,1120.1h.7M298.8,1129.9h.7M309.5,1121.0h.7M308.0,1125.7h.7M312.3,1130.1h.7M300.2,1136.4h.7M308.9,1115.5h.7M323.6,1117.0h.7M309.6,1122.0h.7M301.9,1122.3h.7M316.2,1119.0h.7M303.8,1113.7h.7M306.0,1130.1h.7M307.3,1120.8h.7M306.2,1130.2h.7M317.3,1117.1h.7M306.0,1122.1h.7M314.1,1124.8h.7M309.7,1122.5h.7M310.0,1114.1h.7M304.4,1124.9h.7M306.0,1114.7h.7M307.5,1116.8h.7M316.0,1122.3h.7M313.4,1119.2h.7M310.5,1118.0h.7M311.9,1121.9h.7M317.1,1125.7h.7M312.5,1130.3h.7M303.0,1125.2h.7M290.0,1118.9h.7M314.0,1128.0h.7M318.5,1117.5h.7M314.1,1117.0h.7M315.9,1117.4h.7M297.9,1125.9h.7M309.4,1119.4h.7M300.7,1130.5h.7M315.5,1117.7h.7M309.2,1118.0h.7M307.1,1126.4h.7M310.1,1121.3h.7M314.9,1125.4h.7M304.9,1124.2h.7M311.5,1125.3h.7M312.0,1115.3h.7M307.9,1127.2h.7M315.8,1123.6h.7M312.4,1124.0h.7M315.6,1126.5h.7M303.4,1121.5h.7M307.6,1128.4h.7M308.1,1122.9h.7M314.9,1124.5h.7M300.7,1127.8h.7M303.2,1128.4h.7M317.2,1119.9h.7M313.6,1120.7h.7M310.4,1113.7h.7M312.9,1121.2h.7M310.3,1119.8h.7M314.0,1119.6h.7M308.1,1121.1h.7M309.2,1124.9h.7M311.1,1125.4h.7M303.5,1123.8h.7M305.2,1130.4h.7M313.0,1124.6h.7M300.6,1124.0h.7M303.3,1123.4h.7M311.3,1116.9h.7M320.4,1118.6h.7M313.6,1124.6h.7M305.8,1130.7h.7M309.7,1115.3h.7M311.7,1127.1h.7M315.7,1133.8h.7M317.2,1119.1h.7M309.0,1128.1h.7M299.0,1131.0h.7M304.4,1137.2h.7M304.4,1144.0h.7M300.3,1127.3h.7M311.8,1112.7h.7M309.9,1116.0h.7M313.4,1118.9h.7M300.6,1115.9h.7M305.8,1123.6h.7M300.4,1119.3h.7M310.1,1120.5h.7M305.4,1123.2h.7M312.7,1132.5h.7M310.2,1120.0h.7M304.2,1121.6h.7M307.2,1122.0h.7M307.2,1122.2h.7M319.9,1122.7h.7M302.7,1125.0h.7M314.9,1120.3h.7M302.9,1133.0h.7M307.0,1117.0h.7M309.9,1126.1h.7M308.0,1118.8h.7M306.1,1123.4h.7M306.8,1116.4h.7M301.3,1125.9h.7M315.0,1127.8h.7M315.1,1112.6h.7M302.1,1119.7h.7M313.6,1113.6h.7M307.2,1133.5h.7M312.4,1121.4h.7M312.6,1126.6h.7M314.1,1123.8h.7M311.0,1120.1h.7M306.7,1118.9h.7M304.7,1118.8h.7M309.3,1117.7h.7M306.2,1129.1h.7M308.9,1120.4h.7M304.1,1121.5h.7M299.5,1115.7h.7M313.6,1124.5h.7M312.6,1118.6h.7M302.4,1115.1h.7M313.7,1124.2h.7M317.6,1117.5h.7M301.6,1110.7h.7M307.7,1126.9h.7M304.6,1127.5h.7M309.3,1113.7h.7M317.9,1114.8h.7M312.6,1123.7h.7M311.8,1122.4h.7M311.7,1131.8h.7M312.7,1127.9h.7M307.3,1124.1h.7M309.8,1119.7h.7M314.5,1122.7h.7M313.7,1126.2h.7M313.9,1122.7h.7M311.6,1124.2h.7M321.4,1110.4h.7M309.6,1126.4h.7M298.3,1123.7h.7M302.4,1122.9h.7M302.1,1121.3h.7M308.7,1124.1h.7M314.3,1116.9h.7M314.4,1123.2h.7M307.1,1125.4h.7M300.3,1109.9h.7M316.5,1126.3h.7M305.3,1136.9h.7M306.5,1125.2h.7M312.3,1118.4h.7M298.2,1121.5h.7M318.6,1121.0h.7M302.5,1140.4h.7M307.6,1133.0h.7M306.8,1136.3h.7M305.5,1116.8h.7M307.3,1130.8h.7M314.8,1117.1h.7M309.8,1134.9h.7M312.1,1124.5h.7M311.2,1117.5h.7M315.6,1117.5h.7M308.2,1127.3h.7M306.7,1123.2h.7M318.6,1119.3h.7M307.8,1118.7h.7M310.6,1114.4h.7M313.8,1126.9h.7M313.2,1115.9h.7M313.6,1119.5h.7M307.1,1126.0h.7M313.0,1126.1h.7M300.7,1116.0h.7M308.2,1120.3h.7M307.5,1136.8h.7M307.2,1126.8h.7M303.9,1121.4h.7M308.8,1126.2h.7M305.3,1121.9h.7M309.4,1121.7h.7M310.8,1125.0h.7M305.9,1114.5h.7M314.2,1113.5h.7M311.2,1128.2h.7M310.1,1128.9h.7M308.5,1115.4h.7M319.4,1116.8h.7M304.5,1122.6h.7M311.4,1118.6h.7M315.4,1120.0h.7M307.4,1123.9h.7M316.1,1119.2h.7M307.7,1126.8h.7M296.0,1127.3h.7M308.8,1120.1h.7M308.7,1119.9h.7M310.4,1121.9h.7M310.5,1124.3h.7M305.5,1116.6h.7M308.1,1128.9h.7M311.2,1123.9h.7M301.4,1130.6h.7M301.6,1127.5h.7M296.7,1129.5h.7M313.8,1128.0h.7M309.9,1113.4h.7M315.2,1119.5h.7M307.8,1123.6h.7M312.7,1107.5h.7M306.8,1121.7h.7M303.5,1129.0h.7M303.8,1131.4h.7M308.5,1110.1h.7M312.4,1124.8h.7M334.3,1082.2h.7M338.5,1084.4h.7M345.1,1090.2h.7M327.6,1085.1h.7M343.6,1087.5h.7M322.4,1087.8h.7M334.4,1085.8h.7M332.7,1083.4h.7M342.5,1079.7h.7M345.5,1088.8h.7M338.0,1085.6h.7M338.7,1078.7h.7M331.0,1086.1h.7M326.8,1083.7h.7M342.4,1088.8h.7M325.1,1080.9h.7M354.3,1087.2h.7M326.5,1086.3h.7M318.3,1084.8h.7M334.9,1090.5h.7M343.7,1084.0h.7M328.4,1085.3h.7M333.9,1088.9h.7M333.4,1084.6h.7M335.0,1087.1h.7M337.9,1087.3h.7M327.6,1083.9h.7M347.7,1085.9h.7M328.0,1085.9h.7M331.6,1087.5h.7M331.1,1086.3h.7M324.1,1082.8h.7M324.9,1087.3h.7M333.5,1091.1h.7M343.3,1086.1h.7M331.5,1084.1h.7M346.0,1087.0h.7M330.8,1077.9h.7M349.3,1080.7h.7M331.9,1090.2h.7M332.5,1089.9h.7M345.3,1080.6h.7M336.6,1084.7h.7M329.4,1089.2h.7M329.3,1088.7h.7M332.9,1085.6h.7M340.7,1082.5h.7M339.8,1085.1h.7M317.7,1081.1h.7M341.4,1082.2h.7M339.3,1090.4h.7M339.5,1077.6h.7M332.6,1083.2h.7M338.2,1086.8h.7M338.4,1081.7h.7M333.7,1085.2h.7M335.4,1089.9h.7M339.0,1077.8h.7M351.1,1081.1h.7M324.4,1088.1h.7M342.9,1083.0h.7M330.7,1080.1h.7M341.8,1083.9h.7M332.7,1085.5h.7M328.8,1084.5h.7M319.3,1088.4h.7M342.2,1085.5h.7M339.1,1084.2h.7M345.9,1085.4h.7M348.4,1080.2h.7M334.6,1085.0h.7M335.1,1084.4h.7M336.3,1088.6h.7M322.9,1082.7h.7M339.2,1089.4h.7M338.4,1084.5h.7M335.8,1086.1h.7M326.3,1084.2h.7M337.4,1089.8h.7M345.6,1086.7h.7M338.8,1082.6h.7M342.7,1085.4h.7M337.3,1087.4h.7M342.0,1084.0h.7M334.3,1086.4h.7M331.2,1084.2h.7M338.1,1089.2h.7M332.9,1094.8h.7M334.4,1088.1h.7M328.9,1082.7h.7M329.7,1080.6h.7M339.1,1088.2h.7M344.7,1082.4h.7M341.5,1082.3h.7M336.5,1078.2h.7M333.5,1086.6h.7M330.8,1084.3h.7M338.7,1086.1h.7M331.0,1087.2h.7M344.6,1085.6h.7M323.1,1083.3h.7M337.4,1082.6h.7M333.4,1086.8h.7M335.3,1091.0h.7M335.7,1084.4h.7M344.8,1083.7h.7M332.3,1083.8h.7M330.1,1090.7h.7M331.4,1084.6h.7M336.4,1087.2h.7M336.7,1083.9h.7M341.0,1088.1h.7M333.2,1086.9h.7M346.4,1085.5h.7M339.0,1082.4h.7M331.4,1080.6h.7M340.1,1081.7h.7M331.8,1088.1h.7M349.2,1086.4h.7M328.6,1082.0h.7M328.3,1084.0h.7M334.4,1087.3h.7M332.0,1082.7h.7M332.1,1087.3h.7M354.1,1092.1h.7M344.1,1083.0h.7M343.5,1083.5h.7M321.3,1084.2h.7M341.3,1090.3h.7M329.2,1091.6h.7M335.5,1086.7h.7M336.6,1079.5h.7M326.8,1087.9h.7M338.1,1082.9h.7M326.2,1089.7h.7M353.0,1085.1h.7M332.5,1085.3h.7M333.1,1087.1h.7M327.1,1088.7h.7M346.5,1087.4h.7M336.2,1082.9h.7M329.1,1088.4h.7M338.7,1085.2h.7M340.6,1087.3h.7M324.4,1084.8h.7M342.1,1083.5h.7M345.8,1082.0h.7M336.2,1085.9h.7M325.7,1082.8h.7M340.9,1087.2h.7M340.4,1086.6h.7M333.9,1086.5h.7M336.9,1080.2h.7M338.5,1084.7h.7M339.8,1082.8h.7M340.9,1086.0h.7M325.5,1086.9h.7M344.3,1083.6h.7M343.0,1082.0h.7M343.6,1089.1h.7M334.1,1086.8h.7M336.3,1077.8h.7M324.4,1086.9h.7M341.7,1086.0h.7M330.4,1087.4h.7M322.9,1083.5h.7M341.5,1081.7h.7M343.1,1087.9h.7M335.8,1086.3h.7M340.6,1084.5h.7M338.9,1086.7h.7M336.1,1086.2h.7M334.7,1084.1h.7M343.1,1083.2h.7M335.2,1084.3h.7M325.3,1089.4h.7M331.0,1089.0h.7M344.3,1083.5h.7M331.0,1079.1h.7M327.2,1084.5h.7M344.2,1084.7h.7M319.5,1089.0h.7M333.1,1079.2h.7M339.3,1082.8h.7M339.3,1090.6h.7M336.6,1086.4h.7M332.2,1081.0h.7M337.0,1089.6h.7M331.3,1083.2h.7M344.9,1084.0h.7M336.4,1083.5h.7M334.0,1081.6h.7M337.6,1085.4h.7M338.6,1086.4h.7M335.9,1091.3h.7M336.3,1084.3h.7M327.8,1085.4h.7M340.0,1082.3h.7M330.1,1085.9h.7M346.4,1083.0h.7M329.8,1082.6h.7M338.6,1085.4h.7M338.4,1085.5h.7M340.9,1082.9h.7M341.9,1084.5h.7M343.7,1089.2h.7M341.1,1085.5h.7M347.4,1077.0h.7M335.5,1085.2h.7M338.5,1093.6h.7M338.4,1078.9h.7M347.1,1084.2h.7M334.5,1085.6h.7M340.3,1086.3h.7M341.5,1087.3h.7M327.6,1080.0h.7M340.2,1086.1h.7M329.5,1082.2h.7M343.9,1090.7h.7M339.0,1091.3h.7M335.7,1082.8h.7M332.5,1081.2h.7M334.3,1083.1h.7M342.2,1086.1h.7M325.3,1083.6h.7M342.4,1080.6h.7M341.7,1087.2h.7M335.3,1086.6h.7M335.9,1080.9h.7M337.1,1081.9h.7M345.9,1084.1h.7M324.7,1088.2h.7M336.1,1088.2h.7M337.5,1087.7h.7M329.6,1084.1h.7M328.4,1090.1h.7M335.7,1088.1h.7M347.3,1091.3h.7M335.9,1083.4h.7M345.8,1085.2h.7M336.4,1087.3h.7M334.1,1085.2h.7M333.7,1081.2h.7M330.1,1089.4h.7M332.4,1085.6h.7M328.7,1082.3h.7M327.8,1082.4h.7M341.9,1085.4h.7M346.6,1086.0h.7M329.7,1088.2h.7M333.9,1086.4h.7M333.1,1093.4h.7M341.2,1096.0h.7M326.4,1082.2h.7M341.4,1087.9h.7M324.7,1089.7h.7M337.4,1096.2h.7M349.3,1085.4h.7M326.9,1088.8h.7M338.8,1070.1h.7M325.9,1066.7h.7M335.8,1090.9h.7M333.3,1086.2h.7M334.7,1094.1h.7M322.1,1070.4h.7M339.3,1087.9h.7M331.6,1092.1h.7M348.2,1081.9h.7M330.6,1088.8h.7M338.2,1094.9h.7M339.7,1090.7h.7M324.3,1086.4h.7M339.2,1097.6h.7M325.0,1087.8h.7M328.0,1092.3h.7M350.1,1094.4h.7M334.6,1089.4h.7M328.0,1073.6h.7M336.6,1084.7h.7M331.6,1077.3h.7M339.3,1065.8h.7M335.6,1077.3h.7M330.5,1092.6h.7M330.6,1082.0h.7M328.5,1069.1h.7M333.5,1078.6h.7M342.8,1066.8h.7M353.7,1095.2h.7M341.3,1075.9h.7M346.3,1080.4h.7M341.0,1086.3h.7M322.8,1092.5h.7M341.8,1111.7h.7M353.9,1080.7h.7M337.5,1074.2h.7M321.8,1087.6h.7M333.8,1071.0h.7M333.4,1097.8h.7M341.7,1094.4h.7M340.6,1084.8h.7M309.6,1094.3h.7M332.2,1080.0h.7M341.5,1078.4h.7M351.4,1102.0h.7M317.0,1084.3h.7M338.2,1090.7h.7M344.8,1104.1h.7M341.5,1080.5h.7M314.0,1066.1h.7M330.4,1078.3h.7M336.0,1081.9h.7M340.9,1093.5h.7M331.6,1091.1h.7M345.2,1089.0h.7M345.6,1086.5h.7M334.7,1081.2h.7M344.3,1087.7h.7M356.0,1066.6h.7M337.9,1093.9h.7M326.7,1079.7h.7M342.3,1073.7h.7M343.7,1080.5h.7M330.3,1072.3h.7M326.6,1083.6h.7M342.3,1077.3h.7M347.4,1078.5h.7M335.6,1078.0h.7M324.5,1094.7h.7M336.5,1084.5h.7M334.6,1107.2h.7M346.0,1093.8h.7M335.3,1084.5h.7M339.7,1064.2h.7M325.6,1079.1h.7M338.9,1089.4h.7M343.9,1083.9h.7M316.8,1091.3h.7M333.4,1098.6h.7M326.1,1118.5h.7M339.4,1120.7h.7M333.9,1111.9h.7M343.3,1111.1h.7M326.0,1112.4h.7M338.3,1108.8h.7M337.9,1118.6h.7M340.4,1100.1h.7M326.6,1108.1h.7M333.8,1105.6h.7M342.6,1114.2h.7M346.2,1118.1h.7M334.8,1112.3h.7M328.4,1123.0h.7M337.1,1109.3h.7M332.0,1119.4h.7M328.4,1114.2h.7M337.7,1114.9h.7M333.3,1117.2h.7M338.6,1104.0h.7M332.8,1114.0h.7M325.7,1107.5h.7M331.8,1109.2h.7M323.6,1103.8h.7M333.7,1121.5h.7M326.9,1110.5h.7M339.0,1122.3h.7M332.4,1119.1h.7M329.9,1113.6h.7M328.2,1113.5h.7M328.5,1115.3h.7M335.7,1103.6h.7M332.1,1124.2h.7M334.2,1116.5h.7M326.9,1107.7h.7M335.0,1105.8h.7M336.0,1102.7h.7M339.7,1113.4h.7M333.3,1105.4h.7M327.2,1109.6h.7M341.2,1123.7h.7M332.3,1117.6h.7M325.8,1108.7h.7M339.2,1116.8h.7M336.5,1115.8h.7M329.8,1117.6h.7M335.5,1095.0h.7M321.4,1085.6h.7M319.7,1104.5h.7M332.9,1094.7h.7M314.0,1110.4h.7M322.3,1103.9h.7M320.1,1103.4h.7M320.9,1094.4h.7M321.1,1107.1h.7M327.0,1081.2h.7M314.6,1119.7h.7M338.5,1090.8h.7M315.4,1124.2h.7M319.8,1121.4h.7M316.8,1122.2h.7M320.4,1118.2h.7M323.4,1096.2h.7M312.1,1109.8h.7M337.0,1087.7h.7M322.9,1122.7h.7M327.0,1082.0h.7M324.7,1101.2h.7M326.1,1106.1h.7M303.9,1122.2h.7M316.3,1116.9h.7M322.7,1098.0h.7M332.0,1094.8h.7M314.7,1123.8h.7M324.3,1094.4h.7M328.8,1093.9h.7M306.0,1111.0h.7M331.0,1096.6h.7M324.5,1108.9h.7M325.7,1082.4h.7M315.6,1127.7h.7M326.1,1107.0h.7M319.2,1117.6h.7M319.1,1091.3h.7M318.4,1115.3h.7M316.4,1116.9h.7M305.9,1118.0h.7M324.5,1092.7h.7M333.9,1098.5h.7M330.3,1093.9h.7M322.7,1119.6h.7M319.4,1132.9h.7M334.0,1094.2h.7M313.8,1112.3h.7M309.9,1114.9h.7M319.2,1118.3h.7M313.3,1122.6h.7M337.0,1097.2h.7M323.0,1110.7h.7M327.9,1092.6h.7M314.6,1112.5h.7M325.8,1108.9h.7M305.6,1108.2h.7M340.1,1091.1h.7M312.3,1128.4h.7M309.3,1121.8h.7M332.3,1094.3h.7M316.5,1131.7h.7M317.0,1113.7h.7M325.2,1097.4h.7" stroke="#e81010" stroke-width="0.7" fill="none" opacity="0.6"/>
</g>
</g>
</svg>
</body></html>
